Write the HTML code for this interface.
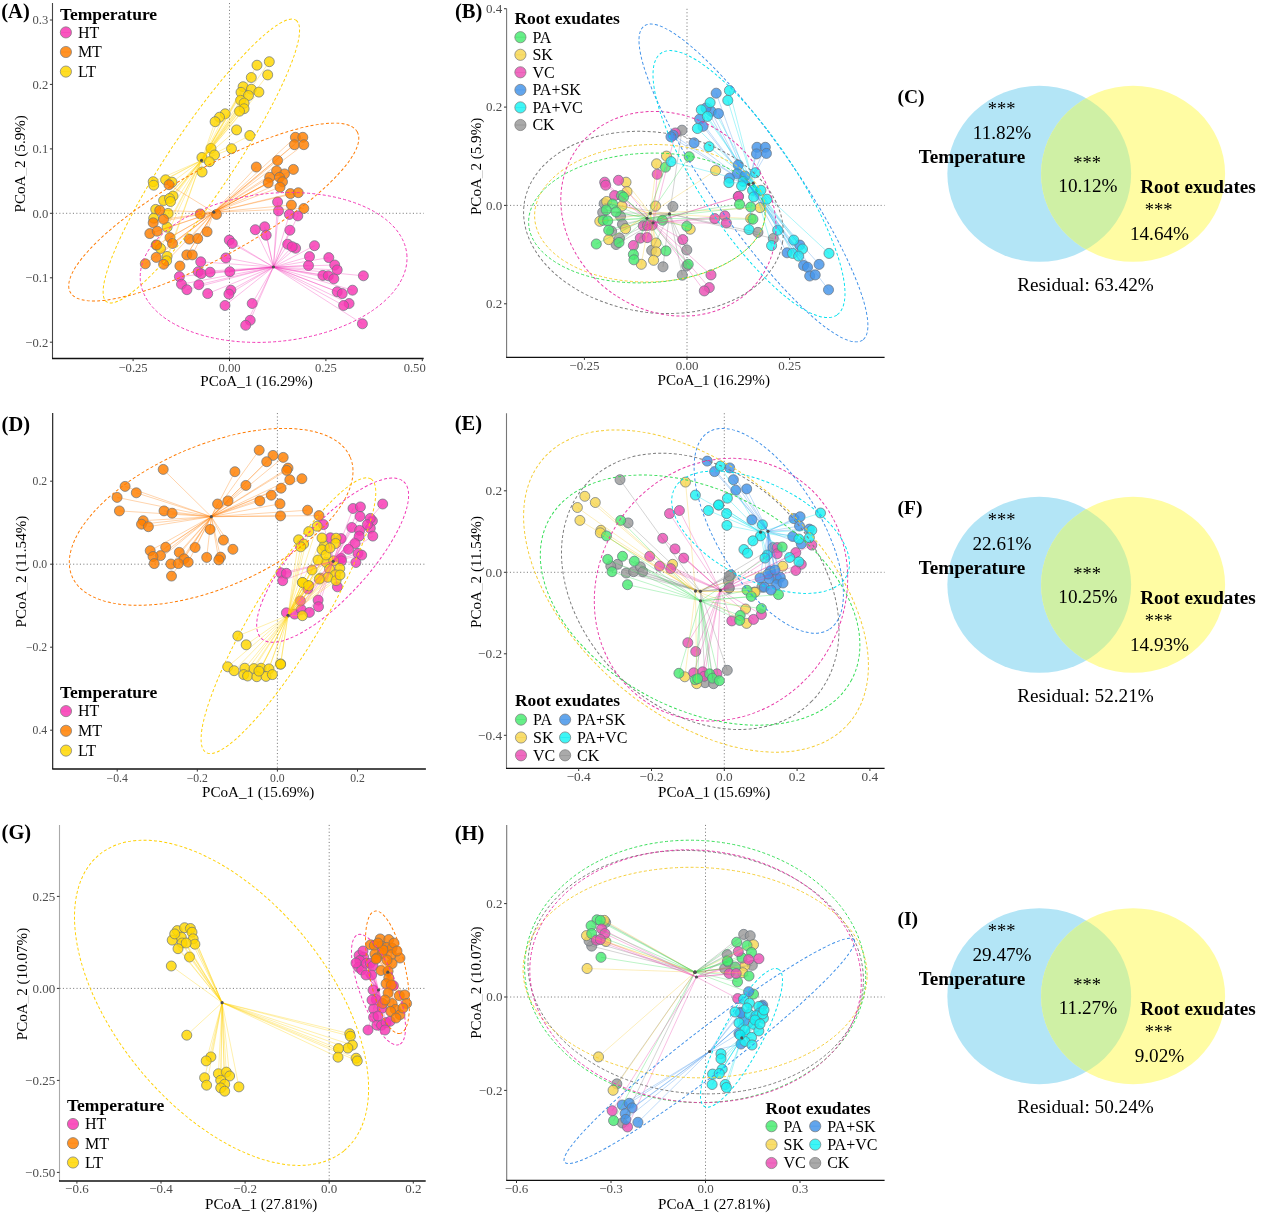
<!DOCTYPE html><html><head><meta charset="utf-8"><style>html,body{margin:0;padding:0;background:#fff;} svg{display:block;will-change:transform;} text{font-family:"Liberation Serif", serif;}</style></head><body>
<svg width="1269" height="1214" viewBox="0 0 1269 1214">
<rect width="1269" height="1214" fill="#fff"/>
<line x1="229.5" y1="3.0" x2="229.5" y2="358.5" stroke="#707070" stroke-width="0.9" stroke-dasharray="1.1,2.3"/>
<line x1="52.5" y1="213.3" x2="423.7" y2="213.3" stroke="#707070" stroke-width="0.9" stroke-dasharray="1.1,2.3"/>
<circle cx="269.3" cy="61.7" r="5.0" fill="#ffd700" fill-opacity="0.83" stroke="#6a737d" stroke-opacity="0.9" stroke-width="0.8"/>
<circle cx="257.0" cy="65.2" r="5.0" fill="#ffd700" fill-opacity="0.83" stroke="#6a737d" stroke-opacity="0.9" stroke-width="0.8"/>
<circle cx="267.7" cy="74.9" r="5.0" fill="#ffd700" fill-opacity="0.83" stroke="#6a737d" stroke-opacity="0.9" stroke-width="0.8"/>
<circle cx="251.3" cy="77.5" r="5.0" fill="#ffd700" fill-opacity="0.83" stroke="#6a737d" stroke-opacity="0.9" stroke-width="0.8"/>
<circle cx="243.1" cy="86.7" r="5.0" fill="#ffd700" fill-opacity="0.83" stroke="#6a737d" stroke-opacity="0.9" stroke-width="0.8"/>
<circle cx="251.3" cy="89.2" r="5.0" fill="#ffd700" fill-opacity="0.83" stroke="#6a737d" stroke-opacity="0.9" stroke-width="0.8"/>
<circle cx="258.9" cy="92.1" r="5.0" fill="#ffd700" fill-opacity="0.83" stroke="#6a737d" stroke-opacity="0.9" stroke-width="0.8"/>
<circle cx="241.0" cy="92.3" r="5.0" fill="#ffd700" fill-opacity="0.83" stroke="#6a737d" stroke-opacity="0.9" stroke-width="0.8"/>
<circle cx="248.5" cy="95.5" r="5.0" fill="#ffd700" fill-opacity="0.83" stroke="#6a737d" stroke-opacity="0.9" stroke-width="0.8"/>
<circle cx="240.6" cy="100.3" r="5.0" fill="#ffd700" fill-opacity="0.83" stroke="#6a737d" stroke-opacity="0.9" stroke-width="0.8"/>
<circle cx="244.1" cy="103.1" r="5.0" fill="#ffd700" fill-opacity="0.83" stroke="#6a737d" stroke-opacity="0.9" stroke-width="0.8"/>
<circle cx="244.1" cy="108.7" r="5.0" fill="#ffd700" fill-opacity="0.83" stroke="#6a737d" stroke-opacity="0.9" stroke-width="0.8"/>
<circle cx="239.5" cy="111.2" r="5.0" fill="#ffd700" fill-opacity="0.83" stroke="#6a737d" stroke-opacity="0.9" stroke-width="0.8"/>
<circle cx="225.2" cy="113.8" r="5.0" fill="#ffd700" fill-opacity="0.83" stroke="#6a737d" stroke-opacity="0.9" stroke-width="0.8"/>
<circle cx="219.5" cy="117.2" r="5.0" fill="#ffd700" fill-opacity="0.83" stroke="#6a737d" stroke-opacity="0.9" stroke-width="0.8"/>
<circle cx="215.1" cy="121.7" r="5.0" fill="#ffd700" fill-opacity="0.83" stroke="#6a737d" stroke-opacity="0.9" stroke-width="0.8"/>
<circle cx="236.6" cy="129.9" r="5.0" fill="#ffd700" fill-opacity="0.83" stroke="#6a737d" stroke-opacity="0.9" stroke-width="0.8"/>
<circle cx="249.8" cy="135.5" r="5.0" fill="#ffd700" fill-opacity="0.83" stroke="#6a737d" stroke-opacity="0.9" stroke-width="0.8"/>
<circle cx="231.5" cy="148.7" r="5.0" fill="#ffd700" fill-opacity="0.83" stroke="#6a737d" stroke-opacity="0.9" stroke-width="0.8"/>
<circle cx="211.0" cy="148.4" r="5.0" fill="#ffd700" fill-opacity="0.83" stroke="#6a737d" stroke-opacity="0.9" stroke-width="0.8"/>
<circle cx="201.9" cy="157.5" r="5.0" fill="#ffd700" fill-opacity="0.83" stroke="#6a737d" stroke-opacity="0.9" stroke-width="0.8"/>
<circle cx="214.5" cy="155.0" r="5.0" fill="#ffd700" fill-opacity="0.83" stroke="#6a737d" stroke-opacity="0.9" stroke-width="0.8"/>
<circle cx="209.4" cy="161.7" r="5.0" fill="#ffd700" fill-opacity="0.83" stroke="#6a737d" stroke-opacity="0.9" stroke-width="0.8"/>
<circle cx="202.1" cy="172.0" r="5.0" fill="#ffd700" fill-opacity="0.83" stroke="#6a737d" stroke-opacity="0.9" stroke-width="0.8"/>
<circle cx="153.2" cy="181.7" r="5.0" fill="#ffd700" fill-opacity="0.83" stroke="#6a737d" stroke-opacity="0.9" stroke-width="0.8"/>
<circle cx="153.7" cy="185.2" r="5.0" fill="#ffd700" fill-opacity="0.83" stroke="#6a737d" stroke-opacity="0.9" stroke-width="0.8"/>
<circle cx="165.6" cy="179.8" r="5.0" fill="#ffd700" fill-opacity="0.83" stroke="#6a737d" stroke-opacity="0.9" stroke-width="0.8"/>
<circle cx="172.0" cy="182.2" r="5.0" fill="#ffd700" fill-opacity="0.83" stroke="#6a737d" stroke-opacity="0.9" stroke-width="0.8"/>
<circle cx="173.0" cy="196.1" r="5.0" fill="#ffd700" fill-opacity="0.83" stroke="#6a737d" stroke-opacity="0.9" stroke-width="0.8"/>
<circle cx="163.6" cy="200.5" r="5.0" fill="#ffd700" fill-opacity="0.83" stroke="#6a737d" stroke-opacity="0.9" stroke-width="0.8"/>
<circle cx="169.5" cy="198.5" r="5.0" fill="#ffd700" fill-opacity="0.83" stroke="#6a737d" stroke-opacity="0.9" stroke-width="0.8"/>
<circle cx="170.5" cy="201.5" r="5.0" fill="#ffd700" fill-opacity="0.83" stroke="#6a737d" stroke-opacity="0.9" stroke-width="0.8"/>
<circle cx="155.7" cy="209.4" r="5.0" fill="#ffd700" fill-opacity="0.83" stroke="#6a737d" stroke-opacity="0.9" stroke-width="0.8"/>
<circle cx="168.1" cy="213.4" r="5.0" fill="#ffd700" fill-opacity="0.83" stroke="#6a737d" stroke-opacity="0.9" stroke-width="0.8"/>
<circle cx="153.7" cy="218.3" r="5.0" fill="#ffd700" fill-opacity="0.83" stroke="#6a737d" stroke-opacity="0.9" stroke-width="0.8"/>
<circle cx="167.1" cy="227.2" r="5.0" fill="#ffd700" fill-opacity="0.83" stroke="#6a737d" stroke-opacity="0.9" stroke-width="0.8"/>
<circle cx="156.2" cy="245" r="5.0" fill="#ffd700" fill-opacity="0.83" stroke="#6a737d" stroke-opacity="0.9" stroke-width="0.8"/>
<circle cx="160.6" cy="248.5" r="5.0" fill="#ffd700" fill-opacity="0.83" stroke="#6a737d" stroke-opacity="0.9" stroke-width="0.8"/>
<circle cx="167.1" cy="256.4" r="5.0" fill="#ffd700" fill-opacity="0.83" stroke="#6a737d" stroke-opacity="0.9" stroke-width="0.8"/>
<circle cx="166.6" cy="260.8" r="5.0" fill="#ffd700" fill-opacity="0.83" stroke="#6a737d" stroke-opacity="0.9" stroke-width="0.8"/>
<circle cx="169.0" cy="184.7" r="5.0" fill="#ff8000" fill-opacity="0.83" stroke="#6a737d" stroke-opacity="0.9" stroke-width="0.8"/>
<circle cx="159.7" cy="210.4" r="5.0" fill="#ff8000" fill-opacity="0.83" stroke="#6a737d" stroke-opacity="0.9" stroke-width="0.8"/>
<circle cx="163.6" cy="219.3" r="5.0" fill="#ff8000" fill-opacity="0.83" stroke="#6a737d" stroke-opacity="0.9" stroke-width="0.8"/>
<circle cx="153.2" cy="222.8" r="5.0" fill="#ff8000" fill-opacity="0.83" stroke="#6a737d" stroke-opacity="0.9" stroke-width="0.8"/>
<circle cx="149.8" cy="233.6" r="5.0" fill="#ff8000" fill-opacity="0.83" stroke="#6a737d" stroke-opacity="0.9" stroke-width="0.8"/>
<circle cx="157.2" cy="231.2" r="5.0" fill="#ff8000" fill-opacity="0.83" stroke="#6a737d" stroke-opacity="0.9" stroke-width="0.8"/>
<circle cx="156.7" cy="245" r="5.0" fill="#ff8000" fill-opacity="0.83" stroke="#6a737d" stroke-opacity="0.9" stroke-width="0.8"/>
<circle cx="156.2" cy="257.4" r="5.0" fill="#ff8000" fill-opacity="0.83" stroke="#6a737d" stroke-opacity="0.9" stroke-width="0.8"/>
<circle cx="145.3" cy="263.8" r="5.0" fill="#ff8000" fill-opacity="0.83" stroke="#6a737d" stroke-opacity="0.9" stroke-width="0.8"/>
<circle cx="163.6" cy="264.3" r="5.0" fill="#ff8000" fill-opacity="0.83" stroke="#6a737d" stroke-opacity="0.9" stroke-width="0.8"/>
<circle cx="170.0" cy="237.6" r="5.0" fill="#ff8000" fill-opacity="0.83" stroke="#6a737d" stroke-opacity="0.9" stroke-width="0.8"/>
<circle cx="172.5" cy="243.5" r="5.0" fill="#ff8000" fill-opacity="0.83" stroke="#6a737d" stroke-opacity="0.9" stroke-width="0.8"/>
<circle cx="189.3" cy="239.1" r="5.0" fill="#ff8000" fill-opacity="0.83" stroke="#6a737d" stroke-opacity="0.9" stroke-width="0.8"/>
<circle cx="197.7" cy="238.6" r="5.0" fill="#ff8000" fill-opacity="0.83" stroke="#6a737d" stroke-opacity="0.9" stroke-width="0.8"/>
<circle cx="207.1" cy="231.7" r="5.0" fill="#ff8000" fill-opacity="0.83" stroke="#6a737d" stroke-opacity="0.9" stroke-width="0.8"/>
<circle cx="200.2" cy="213.9" r="5.0" fill="#ff8000" fill-opacity="0.83" stroke="#6a737d" stroke-opacity="0.9" stroke-width="0.8"/>
<circle cx="216.5" cy="214.4" r="5.0" fill="#ff8000" fill-opacity="0.83" stroke="#6a737d" stroke-opacity="0.9" stroke-width="0.8"/>
<circle cx="186.8" cy="254.9" r="5.0" fill="#ff8000" fill-opacity="0.83" stroke="#6a737d" stroke-opacity="0.9" stroke-width="0.8"/>
<circle cx="192.3" cy="254.9" r="5.0" fill="#ff8000" fill-opacity="0.83" stroke="#6a737d" stroke-opacity="0.9" stroke-width="0.8"/>
<circle cx="179.9" cy="266" r="5.0" fill="#ff8000" fill-opacity="0.83" stroke="#6a737d" stroke-opacity="0.9" stroke-width="0.8"/>
<circle cx="295.4" cy="137.3" r="5.0" fill="#ff8000" fill-opacity="0.83" stroke="#6a737d" stroke-opacity="0.9" stroke-width="0.8"/>
<circle cx="302.8" cy="137.3" r="5.0" fill="#ff8000" fill-opacity="0.83" stroke="#6a737d" stroke-opacity="0.9" stroke-width="0.8"/>
<circle cx="294.4" cy="144.7" r="5.0" fill="#ff8000" fill-opacity="0.83" stroke="#6a737d" stroke-opacity="0.9" stroke-width="0.8"/>
<circle cx="303.8" cy="144.7" r="5.0" fill="#ff8000" fill-opacity="0.83" stroke="#6a737d" stroke-opacity="0.9" stroke-width="0.8"/>
<circle cx="277.6" cy="160.5" r="5.0" fill="#ff8000" fill-opacity="0.83" stroke="#6a737d" stroke-opacity="0.9" stroke-width="0.8"/>
<circle cx="256.3" cy="167" r="5.0" fill="#ff8000" fill-opacity="0.83" stroke="#6a737d" stroke-opacity="0.9" stroke-width="0.8"/>
<circle cx="293.4" cy="169.4" r="5.0" fill="#ff8000" fill-opacity="0.83" stroke="#6a737d" stroke-opacity="0.9" stroke-width="0.8"/>
<circle cx="276.6" cy="170.9" r="5.0" fill="#ff8000" fill-opacity="0.83" stroke="#6a737d" stroke-opacity="0.9" stroke-width="0.8"/>
<circle cx="284.5" cy="173.9" r="5.0" fill="#ff8000" fill-opacity="0.83" stroke="#6a737d" stroke-opacity="0.9" stroke-width="0.8"/>
<circle cx="269.7" cy="177.3" r="5.0" fill="#ff8000" fill-opacity="0.83" stroke="#6a737d" stroke-opacity="0.9" stroke-width="0.8"/>
<circle cx="279.5" cy="177.3" r="5.0" fill="#ff8000" fill-opacity="0.83" stroke="#6a737d" stroke-opacity="0.9" stroke-width="0.8"/>
<circle cx="268.2" cy="182.8" r="5.0" fill="#ff8000" fill-opacity="0.83" stroke="#6a737d" stroke-opacity="0.9" stroke-width="0.8"/>
<circle cx="282.5" cy="181.8" r="5.0" fill="#ff8000" fill-opacity="0.83" stroke="#6a737d" stroke-opacity="0.9" stroke-width="0.8"/>
<circle cx="280.0" cy="187.2" r="5.0" fill="#ff8000" fill-opacity="0.83" stroke="#6a737d" stroke-opacity="0.9" stroke-width="0.8"/>
<circle cx="290.4" cy="193.6" r="5.0" fill="#ff8000" fill-opacity="0.83" stroke="#6a737d" stroke-opacity="0.9" stroke-width="0.8"/>
<circle cx="298.3" cy="192.7" r="5.0" fill="#ff8000" fill-opacity="0.83" stroke="#6a737d" stroke-opacity="0.9" stroke-width="0.8"/>
<circle cx="291.4" cy="205" r="5.0" fill="#ff8000" fill-opacity="0.83" stroke="#6a737d" stroke-opacity="0.9" stroke-width="0.8"/>
<circle cx="303.8" cy="208.5" r="5.0" fill="#ff8000" fill-opacity="0.83" stroke="#6a737d" stroke-opacity="0.9" stroke-width="0.8"/>
<circle cx="229.3" cy="240.1" r="5.0" fill="#f837b3" fill-opacity="0.83" stroke="#6a737d" stroke-opacity="0.9" stroke-width="0.8"/>
<circle cx="232.3" cy="243.5" r="5.0" fill="#f837b3" fill-opacity="0.83" stroke="#6a737d" stroke-opacity="0.9" stroke-width="0.8"/>
<circle cx="225.9" cy="257.9" r="5.0" fill="#f837b3" fill-opacity="0.83" stroke="#6a737d" stroke-opacity="0.9" stroke-width="0.8"/>
<circle cx="200.7" cy="261.8" r="5.0" fill="#f837b3" fill-opacity="0.83" stroke="#6a737d" stroke-opacity="0.9" stroke-width="0.8"/>
<circle cx="198.2" cy="271.7" r="5.0" fill="#f837b3" fill-opacity="0.83" stroke="#6a737d" stroke-opacity="0.9" stroke-width="0.8"/>
<circle cx="201.2" cy="273.7" r="5.0" fill="#f837b3" fill-opacity="0.83" stroke="#6a737d" stroke-opacity="0.9" stroke-width="0.8"/>
<circle cx="210.1" cy="272.2" r="5.0" fill="#f837b3" fill-opacity="0.83" stroke="#6a737d" stroke-opacity="0.9" stroke-width="0.8"/>
<circle cx="229.8" cy="271.7" r="5.0" fill="#f837b3" fill-opacity="0.83" stroke="#6a737d" stroke-opacity="0.9" stroke-width="0.8"/>
<circle cx="179.4" cy="276.6" r="5.0" fill="#f837b3" fill-opacity="0.83" stroke="#6a737d" stroke-opacity="0.9" stroke-width="0.8"/>
<circle cx="277.6" cy="202" r="5.0" fill="#f837b3" fill-opacity="0.83" stroke="#6a737d" stroke-opacity="0.9" stroke-width="0.8"/>
<circle cx="278.5" cy="210.9" r="5.0" fill="#f837b3" fill-opacity="0.83" stroke="#6a737d" stroke-opacity="0.9" stroke-width="0.8"/>
<circle cx="289.4" cy="214.4" r="5.0" fill="#f837b3" fill-opacity="0.83" stroke="#6a737d" stroke-opacity="0.9" stroke-width="0.8"/>
<circle cx="297.8" cy="215.9" r="5.0" fill="#f837b3" fill-opacity="0.83" stroke="#6a737d" stroke-opacity="0.9" stroke-width="0.8"/>
<circle cx="264.7" cy="226.8" r="5.0" fill="#f837b3" fill-opacity="0.83" stroke="#6a737d" stroke-opacity="0.9" stroke-width="0.8"/>
<circle cx="255.3" cy="229.7" r="5.0" fill="#f837b3" fill-opacity="0.83" stroke="#6a737d" stroke-opacity="0.9" stroke-width="0.8"/>
<circle cx="266.2" cy="235.2" r="5.0" fill="#f837b3" fill-opacity="0.83" stroke="#6a737d" stroke-opacity="0.9" stroke-width="0.8"/>
<circle cx="289.9" cy="230.2" r="5.0" fill="#f837b3" fill-opacity="0.83" stroke="#6a737d" stroke-opacity="0.9" stroke-width="0.8"/>
<circle cx="287.7" cy="244.2" r="5.0" fill="#f837b3" fill-opacity="0.83" stroke="#6a737d" stroke-opacity="0.9" stroke-width="0.8"/>
<circle cx="295.6" cy="248.2" r="5.0" fill="#f837b3" fill-opacity="0.83" stroke="#6a737d" stroke-opacity="0.9" stroke-width="0.8"/>
<circle cx="292.2" cy="246.7" r="5.0" fill="#f837b3" fill-opacity="0.83" stroke="#6a737d" stroke-opacity="0.9" stroke-width="0.8"/>
<circle cx="181.5" cy="284.2" r="5.0" fill="#f837b3" fill-opacity="0.83" stroke="#6a737d" stroke-opacity="0.9" stroke-width="0.8"/>
<circle cx="186.9" cy="289.7" r="5.0" fill="#f837b3" fill-opacity="0.83" stroke="#6a737d" stroke-opacity="0.9" stroke-width="0.8"/>
<circle cx="198.8" cy="284.7" r="5.0" fill="#f837b3" fill-opacity="0.83" stroke="#6a737d" stroke-opacity="0.9" stroke-width="0.8"/>
<circle cx="207.7" cy="293.6" r="5.0" fill="#f837b3" fill-opacity="0.83" stroke="#6a737d" stroke-opacity="0.9" stroke-width="0.8"/>
<circle cx="230.9" cy="290.2" r="5.0" fill="#f837b3" fill-opacity="0.83" stroke="#6a737d" stroke-opacity="0.9" stroke-width="0.8"/>
<circle cx="228.9" cy="294.1" r="5.0" fill="#f837b3" fill-opacity="0.83" stroke="#6a737d" stroke-opacity="0.9" stroke-width="0.8"/>
<circle cx="225" cy="305.5" r="5.0" fill="#f837b3" fill-opacity="0.83" stroke="#6a737d" stroke-opacity="0.9" stroke-width="0.8"/>
<circle cx="252.2" cy="303.5" r="5.0" fill="#f837b3" fill-opacity="0.83" stroke="#6a737d" stroke-opacity="0.9" stroke-width="0.8"/>
<circle cx="250.2" cy="320.3" r="5.0" fill="#f837b3" fill-opacity="0.83" stroke="#6a737d" stroke-opacity="0.9" stroke-width="0.8"/>
<circle cx="245.7" cy="325.3" r="5.0" fill="#f837b3" fill-opacity="0.83" stroke="#6a737d" stroke-opacity="0.9" stroke-width="0.8"/>
<circle cx="314.5" cy="245.7" r="5.0" fill="#f837b3" fill-opacity="0.83" stroke="#6a737d" stroke-opacity="0.9" stroke-width="0.8"/>
<circle cx="309.5" cy="256.6" r="5.0" fill="#f837b3" fill-opacity="0.83" stroke="#6a737d" stroke-opacity="0.9" stroke-width="0.8"/>
<circle cx="308.5" cy="265.5" r="5.0" fill="#f837b3" fill-opacity="0.83" stroke="#6a737d" stroke-opacity="0.9" stroke-width="0.8"/>
<circle cx="328.8" cy="257.6" r="5.0" fill="#f837b3" fill-opacity="0.83" stroke="#6a737d" stroke-opacity="0.9" stroke-width="0.8"/>
<circle cx="334.7" cy="265" r="5.0" fill="#f837b3" fill-opacity="0.83" stroke="#6a737d" stroke-opacity="0.9" stroke-width="0.8"/>
<circle cx="337.2" cy="269.9" r="5.0" fill="#f837b3" fill-opacity="0.83" stroke="#6a737d" stroke-opacity="0.9" stroke-width="0.8"/>
<circle cx="322.9" cy="275.4" r="5.0" fill="#f837b3" fill-opacity="0.83" stroke="#6a737d" stroke-opacity="0.9" stroke-width="0.8"/>
<circle cx="328.3" cy="275.8" r="5.0" fill="#f837b3" fill-opacity="0.83" stroke="#6a737d" stroke-opacity="0.9" stroke-width="0.8"/>
<circle cx="333.8" cy="278.8" r="5.0" fill="#f837b3" fill-opacity="0.83" stroke="#6a737d" stroke-opacity="0.9" stroke-width="0.8"/>
<circle cx="363.4" cy="275.8" r="5.0" fill="#f837b3" fill-opacity="0.83" stroke="#6a737d" stroke-opacity="0.9" stroke-width="0.8"/>
<circle cx="337.2" cy="291.7" r="5.0" fill="#f837b3" fill-opacity="0.83" stroke="#6a737d" stroke-opacity="0.9" stroke-width="0.8"/>
<circle cx="342.2" cy="293.6" r="5.0" fill="#f837b3" fill-opacity="0.83" stroke="#6a737d" stroke-opacity="0.9" stroke-width="0.8"/>
<circle cx="352.5" cy="290.2" r="5.0" fill="#f837b3" fill-opacity="0.83" stroke="#6a737d" stroke-opacity="0.9" stroke-width="0.8"/>
<circle cx="349.1" cy="303.5" r="5.0" fill="#f837b3" fill-opacity="0.83" stroke="#6a737d" stroke-opacity="0.9" stroke-width="0.8"/>
<circle cx="343.6" cy="305.5" r="5.0" fill="#f837b3" fill-opacity="0.83" stroke="#6a737d" stroke-opacity="0.9" stroke-width="0.8"/>
<circle cx="362.4" cy="323.8" r="5.0" fill="#f837b3" fill-opacity="0.83" stroke="#6a737d" stroke-opacity="0.9" stroke-width="0.8"/>
<path d="M201.5 160.4L269.3 61.7M201.5 160.4L257.0 65.2M201.5 160.4L267.7 74.9M201.5 160.4L251.3 77.5M201.5 160.4L243.1 86.7M201.5 160.4L251.3 89.2M201.5 160.4L258.9 92.1M201.5 160.4L241.0 92.3M201.5 160.4L248.5 95.5M201.5 160.4L240.6 100.3M201.5 160.4L244.1 103.1M201.5 160.4L244.1 108.7M201.5 160.4L239.5 111.2M201.5 160.4L225.2 113.8M201.5 160.4L219.5 117.2M201.5 160.4L215.1 121.7M201.5 160.4L236.6 129.9M201.5 160.4L249.8 135.5M201.5 160.4L231.5 148.7M201.5 160.4L211.0 148.4M201.5 160.4L201.9 157.5M201.5 160.4L214.5 155.0M201.5 160.4L209.4 161.7M201.5 160.4L202.1 172.0M201.5 160.4L153.2 181.7M201.5 160.4L153.7 185.2M201.5 160.4L165.6 179.8M201.5 160.4L172.0 182.2M201.5 160.4L173.0 196.1M201.5 160.4L163.6 200.5M201.5 160.4L169.5 198.5M201.5 160.4L170.5 201.5M201.5 160.4L155.7 209.4M201.5 160.4L168.1 213.4M201.5 160.4L153.7 218.3M201.5 160.4L167.1 227.2M201.5 160.4L156.2 245M201.5 160.4L160.6 248.5M201.5 160.4L167.1 256.4M201.5 160.4L166.6 260.8" stroke="#ffd000" stroke-width="0.65" opacity="0.5" fill="none"/>
<path d="M213.8 212.2L169.0 184.7M213.8 212.2L159.7 210.4M213.8 212.2L163.6 219.3M213.8 212.2L153.2 222.8M213.8 212.2L149.8 233.6M213.8 212.2L157.2 231.2M213.8 212.2L156.7 245M213.8 212.2L156.2 257.4M213.8 212.2L145.3 263.8M213.8 212.2L163.6 264.3M213.8 212.2L170.0 237.6M213.8 212.2L172.5 243.5M213.8 212.2L189.3 239.1M213.8 212.2L197.7 238.6M213.8 212.2L207.1 231.7M213.8 212.2L200.2 213.9M213.8 212.2L216.5 214.4M213.8 212.2L186.8 254.9M213.8 212.2L192.3 254.9M213.8 212.2L179.9 266M213.8 212.2L295.4 137.3M213.8 212.2L302.8 137.3M213.8 212.2L294.4 144.7M213.8 212.2L303.8 144.7M213.8 212.2L277.6 160.5M213.8 212.2L256.3 167M213.8 212.2L293.4 169.4M213.8 212.2L276.6 170.9M213.8 212.2L284.5 173.9M213.8 212.2L269.7 177.3M213.8 212.2L279.5 177.3M213.8 212.2L268.2 182.8M213.8 212.2L282.5 181.8M213.8 212.2L280.0 187.2M213.8 212.2L290.4 193.6M213.8 212.2L298.3 192.7M213.8 212.2L291.4 205M213.8 212.2L303.8 208.5" stroke="#ff7a00" stroke-width="0.65" opacity="0.5" fill="none"/>
<path d="M273.4 267L229.3 240.1M273.4 267L232.3 243.5M273.4 267L225.9 257.9M273.4 267L200.7 261.8M273.4 267L198.2 271.7M273.4 267L201.2 273.7M273.4 267L210.1 272.2M273.4 267L229.8 271.7M273.4 267L179.4 276.6M273.4 267L277.6 202M273.4 267L278.5 210.9M273.4 267L289.4 214.4M273.4 267L297.8 215.9M273.4 267L264.7 226.8M273.4 267L255.3 229.7M273.4 267L266.2 235.2M273.4 267L289.9 230.2M273.4 267L287.7 244.2M273.4 267L295.6 248.2M273.4 267L292.2 246.7M273.4 267L181.5 284.2M273.4 267L186.9 289.7M273.4 267L198.8 284.7M273.4 267L207.7 293.6M273.4 267L230.9 290.2M273.4 267L228.9 294.1M273.4 267L225 305.5M273.4 267L252.2 303.5M273.4 267L250.2 320.3M273.4 267L245.7 325.3M273.4 267L314.5 245.7M273.4 267L309.5 256.6M273.4 267L308.5 265.5M273.4 267L328.8 257.6M273.4 267L334.7 265M273.4 267L337.2 269.9M273.4 267L322.9 275.4M273.4 267L328.3 275.8M273.4 267L333.8 278.8M273.4 267L363.4 275.8M273.4 267L337.2 291.7M273.4 267L342.2 293.6M273.4 267L352.5 290.2M273.4 267L349.1 303.5M273.4 267L343.6 305.5M273.4 267L362.4 323.8" stroke="#f235b5" stroke-width="0.65" opacity="0.5" fill="none"/>
<ellipse cx="201.35" cy="161.05" rx="169.66" ry="31.9" transform="rotate(-56.11 201.35 161.05)" fill="none" stroke="#ffd000" stroke-width="0.95" stroke-dasharray="3,2.2"/>
<ellipse cx="213.75" cy="212.05" rx="164.39" ry="43.89" transform="rotate(-29.23 213.75 212.05)" fill="none" stroke="#ff7a00" stroke-width="0.95" stroke-dasharray="3,2.2"/>
<ellipse cx="273.6" cy="267.45" rx="133.86" ry="74.13" transform="rotate(-5.71 273.6 267.45)" fill="none" stroke="#f235b5" stroke-width="0.95" stroke-dasharray="3,2.2"/>
<circle cx="201.5" cy="160.4" r="1.6" fill="#505050"/>
<circle cx="213.8" cy="212.2" r="1.6" fill="#505050"/>
<circle cx="273.4" cy="267" r="1.6" fill="#505050"/>
<line x1="52.5" y1="3.0" x2="52.5" y2="358.5" stroke="#444" stroke-width="1.1"/>
<line x1="52.0" y1="358.5" x2="423.7" y2="358.5" stroke="#111" stroke-width="1.3"/>
<line x1="133.1" y1="358.5" x2="133.1" y2="361.1" stroke="#333" stroke-width="1"/>
<text x="133.1" y="371.8" font-size="12.6" text-anchor="middle" font-weight="normal" fill="#4d4d4d" >−0.25</text>
<line x1="229.5" y1="358.5" x2="229.5" y2="361.1" stroke="#333" stroke-width="1"/>
<text x="229.5" y="371.8" font-size="12.6" text-anchor="middle" font-weight="normal" fill="#4d4d4d" >0.00</text>
<line x1="325.9" y1="358.5" x2="325.9" y2="361.1" stroke="#333" stroke-width="1"/>
<text x="325.9" y="371.8" font-size="12.6" text-anchor="middle" font-weight="normal" fill="#4d4d4d" >0.25</text>
<line x1="422.3" y1="358.5" x2="422.3" y2="361.1" stroke="#333" stroke-width="1"/>
<text x="414.7" y="371.8" font-size="12.6" text-anchor="middle" font-weight="normal" fill="#4d4d4d" >0.50</text>
<line x1="49.9" y1="342.2" x2="52.5" y2="342.2" stroke="#333" stroke-width="1"/>
<text x="48.2" y="346.5" font-size="12.6" text-anchor="end" font-weight="normal" fill="#4d4d4d" >−0.2</text>
<line x1="49.9" y1="277.8" x2="52.5" y2="277.8" stroke="#333" stroke-width="1"/>
<text x="48.2" y="282.0" font-size="12.6" text-anchor="end" font-weight="normal" fill="#4d4d4d" >−0.1</text>
<line x1="49.9" y1="213.3" x2="52.5" y2="213.3" stroke="#333" stroke-width="1"/>
<text x="48.2" y="217.6" font-size="12.6" text-anchor="end" font-weight="normal" fill="#4d4d4d" >0.0</text>
<line x1="49.9" y1="148.9" x2="52.5" y2="148.9" stroke="#333" stroke-width="1"/>
<text x="48.2" y="153.1" font-size="12.6" text-anchor="end" font-weight="normal" fill="#4d4d4d" >0.1</text>
<line x1="49.9" y1="84.4" x2="52.5" y2="84.4" stroke="#333" stroke-width="1"/>
<text x="48.2" y="88.7" font-size="12.6" text-anchor="end" font-weight="normal" fill="#4d4d4d" >0.2</text>
<line x1="49.9" y1="20.0" x2="52.5" y2="20.0" stroke="#333" stroke-width="1"/>
<text x="48.2" y="24.2" font-size="12.6" text-anchor="end" font-weight="normal" fill="#4d4d4d" >0.3</text>
<text x="256.5" y="386.0" font-size="15.1" text-anchor="middle" font-weight="normal" fill="#000" >PCoA_1 (16.29%)</text>
<text transform="translate(24.8,163.8) rotate(-90)" font-size="15.1" text-anchor="middle">PCoA<tspan fill="#c8c8c8">_</tspan>2 (5.9%)</text>
<text x="1.3" y="18.4" font-size="20.5" text-anchor="start" font-weight="bold" fill="#000" >(A)</text>
<line x1="687.0" y1="8.8" x2="687.0" y2="357.3" stroke="#707070" stroke-width="0.9" stroke-dasharray="1.1,2.3"/>
<line x1="506.6" y1="205.4" x2="884.6" y2="205.4" stroke="#707070" stroke-width="0.9" stroke-dasharray="1.1,2.3"/>
<circle cx="682" cy="130.2" r="5.05" fill="#9b9b9b" fill-opacity="0.83" stroke="#6a737d" stroke-opacity="0.9" stroke-width="0.8"/>
<circle cx="604.2" cy="203.5" r="5.05" fill="#9b9b9b" fill-opacity="0.83" stroke="#6a737d" stroke-opacity="0.9" stroke-width="0.8"/>
<circle cx="602.7" cy="212.4" r="5.05" fill="#9b9b9b" fill-opacity="0.83" stroke="#6a737d" stroke-opacity="0.9" stroke-width="0.8"/>
<circle cx="620.5" cy="216.3" r="5.05" fill="#9b9b9b" fill-opacity="0.83" stroke="#6a737d" stroke-opacity="0.9" stroke-width="0.8"/>
<circle cx="622.5" cy="224.2" r="5.05" fill="#9b9b9b" fill-opacity="0.83" stroke="#6a737d" stroke-opacity="0.9" stroke-width="0.8"/>
<circle cx="611.6" cy="231.2" r="5.05" fill="#9b9b9b" fill-opacity="0.83" stroke="#6a737d" stroke-opacity="0.9" stroke-width="0.8"/>
<circle cx="619.5" cy="238.1" r="5.05" fill="#9b9b9b" fill-opacity="0.83" stroke="#6a737d" stroke-opacity="0.9" stroke-width="0.8"/>
<circle cx="616.1" cy="244.5" r="5.05" fill="#9b9b9b" fill-opacity="0.83" stroke="#6a737d" stroke-opacity="0.9" stroke-width="0.8"/>
<circle cx="672.9" cy="206.5" r="5.05" fill="#9b9b9b" fill-opacity="0.83" stroke="#6a737d" stroke-opacity="0.9" stroke-width="0.8"/>
<circle cx="651.7" cy="250.4" r="5.05" fill="#9b9b9b" fill-opacity="0.83" stroke="#6a737d" stroke-opacity="0.9" stroke-width="0.8"/>
<circle cx="663" cy="266.8" r="5.05" fill="#9b9b9b" fill-opacity="0.83" stroke="#6a737d" stroke-opacity="0.9" stroke-width="0.8"/>
<circle cx="686.8" cy="250" r="5.05" fill="#9b9b9b" fill-opacity="0.83" stroke="#6a737d" stroke-opacity="0.9" stroke-width="0.8"/>
<circle cx="686.8" cy="265.8" r="5.05" fill="#9b9b9b" fill-opacity="0.83" stroke="#6a737d" stroke-opacity="0.9" stroke-width="0.8"/>
<circle cx="682.3" cy="275.2" r="5.05" fill="#9b9b9b" fill-opacity="0.83" stroke="#6a737d" stroke-opacity="0.9" stroke-width="0.8"/>
<circle cx="757.9" cy="232.4" r="5.05" fill="#9b9b9b" fill-opacity="0.83" stroke="#6a737d" stroke-opacity="0.9" stroke-width="0.8"/>
<circle cx="773.3" cy="238.5" r="5.05" fill="#9b9b9b" fill-opacity="0.83" stroke="#6a737d" stroke-opacity="0.9" stroke-width="0.8"/>
<circle cx="666.5" cy="156.1" r="5.05" fill="#f7d755" fill-opacity="0.83" stroke="#6a737d" stroke-opacity="0.9" stroke-width="0.8"/>
<circle cx="656.6" cy="163.8" r="5.05" fill="#f7d755" fill-opacity="0.83" stroke="#6a737d" stroke-opacity="0.9" stroke-width="0.8"/>
<circle cx="715.6" cy="170.5" r="5.05" fill="#f7d755" fill-opacity="0.83" stroke="#6a737d" stroke-opacity="0.9" stroke-width="0.8"/>
<circle cx="626" cy="182.2" r="5.05" fill="#f7d755" fill-opacity="0.83" stroke="#6a737d" stroke-opacity="0.9" stroke-width="0.8"/>
<circle cx="627" cy="191.6" r="5.05" fill="#f7d755" fill-opacity="0.83" stroke="#6a737d" stroke-opacity="0.9" stroke-width="0.8"/>
<circle cx="622" cy="206" r="5.05" fill="#f7d755" fill-opacity="0.83" stroke="#6a737d" stroke-opacity="0.9" stroke-width="0.8"/>
<circle cx="606.7" cy="201.5" r="5.05" fill="#f7d755" fill-opacity="0.83" stroke="#6a737d" stroke-opacity="0.9" stroke-width="0.8"/>
<circle cx="599.8" cy="221.3" r="5.05" fill="#f7d755" fill-opacity="0.83" stroke="#6a737d" stroke-opacity="0.9" stroke-width="0.8"/>
<circle cx="625.5" cy="228.7" r="5.05" fill="#f7d755" fill-opacity="0.83" stroke="#6a737d" stroke-opacity="0.9" stroke-width="0.8"/>
<circle cx="608.7" cy="239.6" r="5.05" fill="#f7d755" fill-opacity="0.83" stroke="#6a737d" stroke-opacity="0.9" stroke-width="0.8"/>
<circle cx="655.6" cy="206" r="5.05" fill="#f7d755" fill-opacity="0.83" stroke="#6a737d" stroke-opacity="0.9" stroke-width="0.8"/>
<circle cx="656.1" cy="243" r="5.05" fill="#f7d755" fill-opacity="0.83" stroke="#6a737d" stroke-opacity="0.9" stroke-width="0.8"/>
<circle cx="656.1" cy="251.9" r="5.05" fill="#f7d755" fill-opacity="0.83" stroke="#6a737d" stroke-opacity="0.9" stroke-width="0.8"/>
<circle cx="653.6" cy="260.3" r="5.05" fill="#f7d755" fill-opacity="0.83" stroke="#6a737d" stroke-opacity="0.9" stroke-width="0.8"/>
<circle cx="641.3" cy="264.3" r="5.05" fill="#f7d755" fill-opacity="0.83" stroke="#6a737d" stroke-opacity="0.9" stroke-width="0.8"/>
<circle cx="690.2" cy="229.2" r="5.05" fill="#f7d755" fill-opacity="0.83" stroke="#6a737d" stroke-opacity="0.9" stroke-width="0.8"/>
<circle cx="760.1" cy="207.6" r="5.05" fill="#f7d755" fill-opacity="0.83" stroke="#6a737d" stroke-opacity="0.9" stroke-width="0.8"/>
<circle cx="750.7" cy="218.6" r="5.05" fill="#f7d755" fill-opacity="0.83" stroke="#6a737d" stroke-opacity="0.9" stroke-width="0.8"/>
<circle cx="675.4" cy="133" r="5.05" fill="#eb52b5" fill-opacity="0.83" stroke="#6a737d" stroke-opacity="0.9" stroke-width="0.8"/>
<circle cx="657.2" cy="174.3" r="5.05" fill="#eb52b5" fill-opacity="0.83" stroke="#6a737d" stroke-opacity="0.9" stroke-width="0.8"/>
<circle cx="738.3" cy="196.4" r="5.05" fill="#eb52b5" fill-opacity="0.83" stroke="#6a737d" stroke-opacity="0.9" stroke-width="0.8"/>
<circle cx="604.7" cy="182.2" r="5.05" fill="#eb52b5" fill-opacity="0.83" stroke="#6a737d" stroke-opacity="0.9" stroke-width="0.8"/>
<circle cx="605.7" cy="185.2" r="5.05" fill="#eb52b5" fill-opacity="0.83" stroke="#6a737d" stroke-opacity="0.9" stroke-width="0.8"/>
<circle cx="618.5" cy="180.3" r="5.05" fill="#eb52b5" fill-opacity="0.83" stroke="#6a737d" stroke-opacity="0.9" stroke-width="0.8"/>
<circle cx="614.6" cy="195.6" r="5.05" fill="#eb52b5" fill-opacity="0.83" stroke="#6a737d" stroke-opacity="0.9" stroke-width="0.8"/>
<circle cx="643.3" cy="225.7" r="5.05" fill="#eb52b5" fill-opacity="0.83" stroke="#6a737d" stroke-opacity="0.9" stroke-width="0.8"/>
<circle cx="652.2" cy="225.2" r="5.05" fill="#eb52b5" fill-opacity="0.83" stroke="#6a737d" stroke-opacity="0.9" stroke-width="0.8"/>
<circle cx="647.5" cy="225.5" r="5.05" fill="#eb52b5" fill-opacity="0.83" stroke="#6a737d" stroke-opacity="0.9" stroke-width="0.8"/>
<circle cx="640.3" cy="238.1" r="5.05" fill="#eb52b5" fill-opacity="0.83" stroke="#6a737d" stroke-opacity="0.9" stroke-width="0.8"/>
<circle cx="647.2" cy="237.6" r="5.05" fill="#eb52b5" fill-opacity="0.83" stroke="#6a737d" stroke-opacity="0.9" stroke-width="0.8"/>
<circle cx="633.4" cy="245.5" r="5.05" fill="#eb52b5" fill-opacity="0.83" stroke="#6a737d" stroke-opacity="0.9" stroke-width="0.8"/>
<circle cx="682.8" cy="239.6" r="5.05" fill="#eb52b5" fill-opacity="0.83" stroke="#6a737d" stroke-opacity="0.9" stroke-width="0.8"/>
<circle cx="738.5" cy="196.5" r="5.05" fill="#eb52b5" fill-opacity="0.83" stroke="#6a737d" stroke-opacity="0.9" stroke-width="0.8"/>
<circle cx="714.8" cy="218.6" r="5.05" fill="#eb52b5" fill-opacity="0.83" stroke="#6a737d" stroke-opacity="0.9" stroke-width="0.8"/>
<circle cx="724.8" cy="215.9" r="5.05" fill="#eb52b5" fill-opacity="0.83" stroke="#6a737d" stroke-opacity="0.9" stroke-width="0.8"/>
<circle cx="726.4" cy="223" r="5.05" fill="#eb52b5" fill-opacity="0.83" stroke="#6a737d" stroke-opacity="0.9" stroke-width="0.8"/>
<circle cx="711" cy="274.9" r="5.05" fill="#eb52b5" fill-opacity="0.83" stroke="#6a737d" stroke-opacity="0.9" stroke-width="0.8"/>
<circle cx="709.3" cy="287.6" r="5.05" fill="#eb52b5" fill-opacity="0.83" stroke="#6a737d" stroke-opacity="0.9" stroke-width="0.8"/>
<circle cx="704.3" cy="290.9" r="5.05" fill="#eb52b5" fill-opacity="0.83" stroke="#6a737d" stroke-opacity="0.9" stroke-width="0.8"/>
<circle cx="689.2" cy="156.7" r="5.05" fill="#4beb73" fill-opacity="0.83" stroke="#6a737d" stroke-opacity="0.9" stroke-width="0.8"/>
<circle cx="665.4" cy="167.2" r="5.05" fill="#4beb73" fill-opacity="0.83" stroke="#6a737d" stroke-opacity="0.9" stroke-width="0.8"/>
<circle cx="621.5" cy="195.6" r="5.05" fill="#4beb73" fill-opacity="0.83" stroke="#6a737d" stroke-opacity="0.9" stroke-width="0.8"/>
<circle cx="623.5" cy="197.1" r="5.05" fill="#4beb73" fill-opacity="0.83" stroke="#6a737d" stroke-opacity="0.9" stroke-width="0.8"/>
<circle cx="612.6" cy="204" r="5.05" fill="#4beb73" fill-opacity="0.83" stroke="#6a737d" stroke-opacity="0.9" stroke-width="0.8"/>
<circle cx="606.2" cy="209.9" r="5.05" fill="#4beb73" fill-opacity="0.83" stroke="#6a737d" stroke-opacity="0.9" stroke-width="0.8"/>
<circle cx="616.1" cy="211.9" r="5.05" fill="#4beb73" fill-opacity="0.83" stroke="#6a737d" stroke-opacity="0.9" stroke-width="0.8"/>
<circle cx="603.2" cy="220.3" r="5.05" fill="#4beb73" fill-opacity="0.83" stroke="#6a737d" stroke-opacity="0.9" stroke-width="0.8"/>
<circle cx="607.7" cy="220.8" r="5.05" fill="#4beb73" fill-opacity="0.83" stroke="#6a737d" stroke-opacity="0.9" stroke-width="0.8"/>
<circle cx="608.7" cy="230.2" r="5.05" fill="#4beb73" fill-opacity="0.83" stroke="#6a737d" stroke-opacity="0.9" stroke-width="0.8"/>
<circle cx="596.3" cy="244" r="5.05" fill="#4beb73" fill-opacity="0.83" stroke="#6a737d" stroke-opacity="0.9" stroke-width="0.8"/>
<circle cx="619" cy="242.5" r="5.05" fill="#4beb73" fill-opacity="0.83" stroke="#6a737d" stroke-opacity="0.9" stroke-width="0.8"/>
<circle cx="662.5" cy="220.3" r="5.05" fill="#4beb73" fill-opacity="0.83" stroke="#6a737d" stroke-opacity="0.9" stroke-width="0.8"/>
<circle cx="686.8" cy="226.2" r="5.05" fill="#4beb73" fill-opacity="0.83" stroke="#6a737d" stroke-opacity="0.9" stroke-width="0.8"/>
<circle cx="633.4" cy="254.4" r="5.05" fill="#4beb73" fill-opacity="0.83" stroke="#6a737d" stroke-opacity="0.9" stroke-width="0.8"/>
<circle cx="633.9" cy="259.8" r="5.05" fill="#4beb73" fill-opacity="0.83" stroke="#6a737d" stroke-opacity="0.9" stroke-width="0.8"/>
<circle cx="666" cy="250.9" r="5.05" fill="#4beb73" fill-opacity="0.83" stroke="#6a737d" stroke-opacity="0.9" stroke-width="0.8"/>
<circle cx="688.2" cy="264.3" r="5.05" fill="#4beb73" fill-opacity="0.83" stroke="#6a737d" stroke-opacity="0.9" stroke-width="0.8"/>
<circle cx="739.6" cy="204.3" r="5.05" fill="#4beb73" fill-opacity="0.83" stroke="#6a737d" stroke-opacity="0.9" stroke-width="0.8"/>
<circle cx="750.7" cy="207" r="5.05" fill="#4beb73" fill-opacity="0.83" stroke="#6a737d" stroke-opacity="0.9" stroke-width="0.8"/>
<circle cx="752.9" cy="219.2" r="5.05" fill="#4beb73" fill-opacity="0.83" stroke="#6a737d" stroke-opacity="0.9" stroke-width="0.8"/>
<circle cx="716.2" cy="93.2" r="5.05" fill="#4695e9" fill-opacity="0.83" stroke="#6a737d" stroke-opacity="0.9" stroke-width="0.8"/>
<circle cx="711.2" cy="111.4" r="5.05" fill="#4695e9" fill-opacity="0.83" stroke="#6a737d" stroke-opacity="0.9" stroke-width="0.8"/>
<circle cx="718.4" cy="113.6" r="5.05" fill="#4695e9" fill-opacity="0.83" stroke="#6a737d" stroke-opacity="0.9" stroke-width="0.8"/>
<circle cx="706" cy="108" r="5.05" fill="#4695e9" fill-opacity="0.83" stroke="#6a737d" stroke-opacity="0.9" stroke-width="0.8"/>
<circle cx="699.6" cy="119.2" r="5.05" fill="#4695e9" fill-opacity="0.83" stroke="#6a737d" stroke-opacity="0.9" stroke-width="0.8"/>
<circle cx="703" cy="126.3" r="5.05" fill="#4695e9" fill-opacity="0.83" stroke="#6a737d" stroke-opacity="0.9" stroke-width="0.8"/>
<circle cx="673.2" cy="135.2" r="5.05" fill="#4695e9" fill-opacity="0.83" stroke="#6a737d" stroke-opacity="0.9" stroke-width="0.8"/>
<circle cx="671" cy="136.8" r="5.05" fill="#4695e9" fill-opacity="0.83" stroke="#6a737d" stroke-opacity="0.9" stroke-width="0.8"/>
<circle cx="694.1" cy="142.9" r="5.05" fill="#4695e9" fill-opacity="0.83" stroke="#6a737d" stroke-opacity="0.9" stroke-width="0.8"/>
<circle cx="757" cy="147.3" r="5.05" fill="#4695e9" fill-opacity="0.83" stroke="#6a737d" stroke-opacity="0.9" stroke-width="0.8"/>
<circle cx="765.3" cy="147.3" r="5.05" fill="#4695e9" fill-opacity="0.83" stroke="#6a737d" stroke-opacity="0.9" stroke-width="0.8"/>
<circle cx="756.5" cy="153.9" r="5.05" fill="#4695e9" fill-opacity="0.83" stroke="#6a737d" stroke-opacity="0.9" stroke-width="0.8"/>
<circle cx="766.4" cy="153.4" r="5.05" fill="#4695e9" fill-opacity="0.83" stroke="#6a737d" stroke-opacity="0.9" stroke-width="0.8"/>
<circle cx="738.3" cy="165" r="5.05" fill="#4695e9" fill-opacity="0.83" stroke="#6a737d" stroke-opacity="0.9" stroke-width="0.8"/>
<circle cx="737.2" cy="173.8" r="5.05" fill="#4695e9" fill-opacity="0.83" stroke="#6a737d" stroke-opacity="0.9" stroke-width="0.8"/>
<circle cx="744.9" cy="176" r="5.05" fill="#4695e9" fill-opacity="0.83" stroke="#6a737d" stroke-opacity="0.9" stroke-width="0.8"/>
<circle cx="729.4" cy="178.2" r="5.05" fill="#4695e9" fill-opacity="0.83" stroke="#6a737d" stroke-opacity="0.9" stroke-width="0.8"/>
<circle cx="799.8" cy="245.1" r="5.05" fill="#4695e9" fill-opacity="0.83" stroke="#6a737d" stroke-opacity="0.9" stroke-width="0.8"/>
<circle cx="787.1" cy="252.8" r="5.05" fill="#4695e9" fill-opacity="0.83" stroke="#6a737d" stroke-opacity="0.9" stroke-width="0.8"/>
<circle cx="803.6" cy="265.5" r="5.05" fill="#4695e9" fill-opacity="0.83" stroke="#6a737d" stroke-opacity="0.9" stroke-width="0.8"/>
<circle cx="807.5" cy="267.2" r="5.05" fill="#4695e9" fill-opacity="0.83" stroke="#6a737d" stroke-opacity="0.9" stroke-width="0.8"/>
<circle cx="819.1" cy="264.4" r="5.05" fill="#4695e9" fill-opacity="0.83" stroke="#6a737d" stroke-opacity="0.9" stroke-width="0.8"/>
<circle cx="809.7" cy="276" r="5.05" fill="#4695e9" fill-opacity="0.83" stroke="#6a737d" stroke-opacity="0.9" stroke-width="0.8"/>
<circle cx="815.2" cy="274.9" r="5.05" fill="#4695e9" fill-opacity="0.83" stroke="#6a737d" stroke-opacity="0.9" stroke-width="0.8"/>
<circle cx="828.5" cy="289.8" r="5.05" fill="#4695e9" fill-opacity="0.83" stroke="#6a737d" stroke-opacity="0.9" stroke-width="0.8"/>
<circle cx="729.4" cy="90.5" r="5.05" fill="#1df3f3" fill-opacity="0.83" stroke="#6a737d" stroke-opacity="0.9" stroke-width="0.8"/>
<circle cx="727.8" cy="100.4" r="5.05" fill="#1df3f3" fill-opacity="0.83" stroke="#6a737d" stroke-opacity="0.9" stroke-width="0.8"/>
<circle cx="710.1" cy="102.6" r="5.05" fill="#1df3f3" fill-opacity="0.83" stroke="#6a737d" stroke-opacity="0.9" stroke-width="0.8"/>
<circle cx="701.3" cy="109.8" r="5.05" fill="#1df3f3" fill-opacity="0.83" stroke="#6a737d" stroke-opacity="0.9" stroke-width="0.8"/>
<circle cx="707.4" cy="116.4" r="5.05" fill="#1df3f3" fill-opacity="0.83" stroke="#6a737d" stroke-opacity="0.9" stroke-width="0.8"/>
<circle cx="697.4" cy="128.5" r="5.05" fill="#1df3f3" fill-opacity="0.83" stroke="#6a737d" stroke-opacity="0.9" stroke-width="0.8"/>
<circle cx="709" cy="146.7" r="5.05" fill="#1df3f3" fill-opacity="0.83" stroke="#6a737d" stroke-opacity="0.9" stroke-width="0.8"/>
<circle cx="671" cy="161.6" r="5.05" fill="#1df3f3" fill-opacity="0.83" stroke="#6a737d" stroke-opacity="0.9" stroke-width="0.8"/>
<circle cx="755.4" cy="172.7" r="5.05" fill="#1df3f3" fill-opacity="0.83" stroke="#6a737d" stroke-opacity="0.9" stroke-width="0.8"/>
<circle cx="728.9" cy="182.6" r="5.05" fill="#1df3f3" fill-opacity="0.83" stroke="#6a737d" stroke-opacity="0.9" stroke-width="0.8"/>
<circle cx="743.2" cy="181.5" r="5.05" fill="#1df3f3" fill-opacity="0.83" stroke="#6a737d" stroke-opacity="0.9" stroke-width="0.8"/>
<circle cx="741.6" cy="185.9" r="5.05" fill="#1df3f3" fill-opacity="0.83" stroke="#6a737d" stroke-opacity="0.9" stroke-width="0.8"/>
<circle cx="752.6" cy="190.3" r="5.05" fill="#1df3f3" fill-opacity="0.83" stroke="#6a737d" stroke-opacity="0.9" stroke-width="0.8"/>
<circle cx="760.9" cy="190.3" r="5.05" fill="#1df3f3" fill-opacity="0.83" stroke="#6a737d" stroke-opacity="0.9" stroke-width="0.8"/>
<circle cx="753.7" cy="196.9" r="5.05" fill="#1df3f3" fill-opacity="0.83" stroke="#6a737d" stroke-opacity="0.9" stroke-width="0.8"/>
<circle cx="767" cy="199.2" r="5.05" fill="#1df3f3" fill-opacity="0.83" stroke="#6a737d" stroke-opacity="0.9" stroke-width="0.8"/>
<circle cx="749" cy="229.6" r="5.05" fill="#1df3f3" fill-opacity="0.83" stroke="#6a737d" stroke-opacity="0.9" stroke-width="0.8"/>
<circle cx="777.7" cy="230.2" r="5.05" fill="#1df3f3" fill-opacity="0.83" stroke="#6a737d" stroke-opacity="0.9" stroke-width="0.8"/>
<circle cx="771.6" cy="245.6" r="5.05" fill="#1df3f3" fill-opacity="0.83" stroke="#6a737d" stroke-opacity="0.9" stroke-width="0.8"/>
<circle cx="793.7" cy="240.1" r="5.05" fill="#1df3f3" fill-opacity="0.83" stroke="#6a737d" stroke-opacity="0.9" stroke-width="0.8"/>
<circle cx="802.5" cy="249" r="5.05" fill="#1df3f3" fill-opacity="0.83" stroke="#6a737d" stroke-opacity="0.9" stroke-width="0.8"/>
<circle cx="792.6" cy="253.4" r="5.05" fill="#1df3f3" fill-opacity="0.83" stroke="#6a737d" stroke-opacity="0.9" stroke-width="0.8"/>
<circle cx="798.7" cy="256.1" r="5.05" fill="#1df3f3" fill-opacity="0.83" stroke="#6a737d" stroke-opacity="0.9" stroke-width="0.8"/>
<circle cx="829" cy="253.4" r="5.05" fill="#1df3f3" fill-opacity="0.83" stroke="#6a737d" stroke-opacity="0.9" stroke-width="0.8"/>
<path d="M669.5 213.9L682 130.2M669.5 213.9L604.2 203.5M669.5 213.9L602.7 212.4M669.5 213.9L620.5 216.3M669.5 213.9L622.5 224.2M669.5 213.9L611.6 231.2M669.5 213.9L619.5 238.1M669.5 213.9L616.1 244.5M669.5 213.9L672.9 206.5M669.5 213.9L651.7 250.4M669.5 213.9L663 266.8M669.5 213.9L686.8 250M669.5 213.9L686.8 265.8M669.5 213.9L682.3 275.2M669.5 213.9L757.9 232.4M669.5 213.9L773.3 238.5" stroke="#7a7a7a" stroke-width="0.65" opacity="0.5" fill="none"/>
<path d="M650.4 213.4L666.5 156.1M650.4 213.4L656.6 163.8M650.4 213.4L715.6 170.5M650.4 213.4L626 182.2M650.4 213.4L627 191.6M650.4 213.4L622 206M650.4 213.4L606.7 201.5M650.4 213.4L599.8 221.3M650.4 213.4L625.5 228.7M650.4 213.4L608.7 239.6M650.4 213.4L655.6 206M650.4 213.4L656.1 243M650.4 213.4L656.1 251.9M650.4 213.4L653.6 260.3M650.4 213.4L641.3 264.3M650.4 213.4L690.2 229.2M650.4 213.4L760.1 207.6M650.4 213.4L750.7 218.6" stroke="#f5cc33" stroke-width="0.65" opacity="0.5" fill="none"/>
<path d="M653.1 222.8L675.4 133M653.1 222.8L657.2 174.3M653.1 222.8L738.3 196.4M653.1 222.8L604.7 182.2M653.1 222.8L605.7 185.2M653.1 222.8L618.5 180.3M653.1 222.8L614.6 195.6M653.1 222.8L643.3 225.7M653.1 222.8L652.2 225.2M653.1 222.8L647.5 225.5M653.1 222.8L640.3 238.1M653.1 222.8L647.2 237.6M653.1 222.8L633.4 245.5M653.1 222.8L682.8 239.6M653.1 222.8L738.5 196.5M653.1 222.8L714.8 218.6M653.1 222.8L724.8 215.9M653.1 222.8L726.4 223M653.1 222.8L711 274.9M653.1 222.8L709.3 287.6M653.1 222.8L704.3 290.9" stroke="#e83aa8" stroke-width="0.65" opacity="0.5" fill="none"/>
<path d="M647.0 218.3L689.2 156.7M647.0 218.3L665.4 167.2M647.0 218.3L621.5 195.6M647.0 218.3L623.5 197.1M647.0 218.3L612.6 204M647.0 218.3L606.2 209.9M647.0 218.3L616.1 211.9M647.0 218.3L603.2 220.3M647.0 218.3L607.7 220.8M647.0 218.3L608.7 230.2M647.0 218.3L596.3 244M647.0 218.3L619 242.5M647.0 218.3L662.5 220.3M647.0 218.3L686.8 226.2M647.0 218.3L633.4 254.4M647.0 218.3L633.9 259.8M647.0 218.3L666 250.9M647.0 218.3L688.2 264.3M647.0 218.3L739.6 204.3M647.0 218.3L750.7 207M647.0 218.3L752.9 219.2" stroke="#33dd55" stroke-width="0.65" opacity="0.5" fill="none"/>
<path d="M748.7 184.3L716.2 93.2M748.7 184.3L711.2 111.4M748.7 184.3L718.4 113.6M748.7 184.3L706 108M748.7 184.3L699.6 119.2M748.7 184.3L703 126.3M748.7 184.3L673.2 135.2M748.7 184.3L671 136.8M748.7 184.3L694.1 142.9M748.7 184.3L757 147.3M748.7 184.3L765.3 147.3M748.7 184.3L756.5 153.9M748.7 184.3L766.4 153.4M748.7 184.3L738.3 165M748.7 184.3L737.2 173.8M748.7 184.3L744.9 176M748.7 184.3L729.4 178.2M748.7 184.3L799.8 245.1M748.7 184.3L787.1 252.8M748.7 184.3L803.6 265.5M748.7 184.3L807.5 267.2M748.7 184.3L819.1 264.4M748.7 184.3L809.7 276M748.7 184.3L815.2 274.9M748.7 184.3L828.5 289.8" stroke="#3d8fe8" stroke-width="0.65" opacity="0.5" fill="none"/>
<path d="M753.2 183.2L729.4 90.5M753.2 183.2L727.8 100.4M753.2 183.2L710.1 102.6M753.2 183.2L701.3 109.8M753.2 183.2L707.4 116.4M753.2 183.2L697.4 128.5M753.2 183.2L709 146.7M753.2 183.2L671 161.6M753.2 183.2L755.4 172.7M753.2 183.2L728.9 182.6M753.2 183.2L743.2 181.5M753.2 183.2L741.6 185.9M753.2 183.2L752.6 190.3M753.2 183.2L760.9 190.3M753.2 183.2L753.7 196.9M753.2 183.2L767 199.2M753.2 183.2L749 229.6M753.2 183.2L777.7 230.2M753.2 183.2L771.6 245.6M753.2 183.2L793.7 240.1M753.2 183.2L802.5 249M753.2 183.2L792.6 253.4M753.2 183.2L798.7 256.1M753.2 183.2L829 253.4" stroke="#00e0ee" stroke-width="0.65" opacity="0.5" fill="none"/>
<ellipse cx="653.45" cy="222.4" rx="130.61" ry="90.01" transform="rotate(8.55 653.45 222.4)" fill="none" stroke="#7a7a7a" stroke-width="0.95" stroke-dasharray="3,2.2"/>
<ellipse cx="650.15" cy="213.25" rx="115.59" ry="68.69" transform="rotate(-1.76 650.15 213.25)" fill="none" stroke="#f5cc33" stroke-width="0.95" stroke-dasharray="3,2.2"/>
<ellipse cx="668.4" cy="213.75" rx="112.25" ry="97.23" transform="rotate(34.75 668.4 213.75)" fill="none" stroke="#e83aa8" stroke-width="0.95" stroke-dasharray="3,2.2"/>
<ellipse cx="646.8" cy="218.0" rx="118.29" ry="64.73" transform="rotate(-2.74 646.8 218.0)" fill="none" stroke="#33dd55" stroke-width="0.95" stroke-dasharray="3,2.2"/>
<ellipse cx="753.45" cy="182.95" rx="191.3" ry="42.06" transform="rotate(55.22 753.45 182.95)" fill="none" stroke="#3d8fe8" stroke-width="0.95" stroke-dasharray="3,2.2"/>
<ellipse cx="749.0" cy="184.1" rx="157.67" ry="46.67" transform="rotate(56.15 749.0 184.1)" fill="none" stroke="#00e0ee" stroke-width="0.95" stroke-dasharray="3,2.2"/>
<circle cx="669.5" cy="213.9" r="1.6" fill="#505050"/>
<circle cx="650.4" cy="213.4" r="1.6" fill="#505050"/>
<circle cx="653.1" cy="222.8" r="1.6" fill="#505050"/>
<circle cx="647.0" cy="218.3" r="1.6" fill="#505050"/>
<circle cx="748.7" cy="184.3" r="1.6" fill="#505050"/>
<circle cx="753.2" cy="183.2" r="1.6" fill="#505050"/>
<line x1="506.6" y1="8.8" x2="506.6" y2="357.3" stroke="#777" stroke-width="1.1"/>
<line x1="506.1" y1="357.3" x2="884.6" y2="357.3" stroke="#111" stroke-width="1.3"/>
<line x1="584.4" y1="357.3" x2="584.4" y2="359.9" stroke="#333" stroke-width="1"/>
<text x="584.4" y="370.0" font-size="13.0" text-anchor="middle" font-weight="normal" fill="#4d4d4d" >−0.25</text>
<line x1="687.0" y1="357.3" x2="687.0" y2="359.9" stroke="#333" stroke-width="1"/>
<text x="687.0" y="370.0" font-size="13.0" text-anchor="middle" font-weight="normal" fill="#4d4d4d" >0.00</text>
<line x1="789.6" y1="357.3" x2="789.6" y2="359.9" stroke="#333" stroke-width="1"/>
<text x="789.6" y="370.0" font-size="13.0" text-anchor="middle" font-weight="normal" fill="#4d4d4d" >0.25</text>
<line x1="504.0" y1="303.8" x2="506.6" y2="303.8" stroke="#333" stroke-width="1"/>
<text x="502.3" y="308.1" font-size="13.0" text-anchor="end" font-weight="normal" fill="#4d4d4d" >0.2</text>
<line x1="504.0" y1="205.4" x2="506.6" y2="205.4" stroke="#333" stroke-width="1"/>
<text x="502.3" y="209.8" font-size="13.0" text-anchor="end" font-weight="normal" fill="#4d4d4d" >0.0</text>
<line x1="504.0" y1="107.1" x2="506.6" y2="107.1" stroke="#333" stroke-width="1"/>
<text x="502.3" y="111.4" font-size="13.0" text-anchor="end" font-weight="normal" fill="#4d4d4d" >0.2</text>
<line x1="504.0" y1="8.7" x2="506.6" y2="8.7" stroke="#333" stroke-width="1"/>
<text x="502.3" y="13.1" font-size="13.0" text-anchor="end" font-weight="normal" fill="#4d4d4d" >0.4</text>
<text x="713.8" y="385.2" font-size="15.1" text-anchor="middle" font-weight="normal" fill="#000" >PCoA_1 (16.29%)</text>
<text transform="translate(480.6,166.4) rotate(-90)" font-size="15.1" text-anchor="middle">PCoA<tspan fill="#c8c8c8">_</tspan>2 (5.9%)</text>
<text x="454.9" y="17.7" font-size="20.5" text-anchor="start" font-weight="bold" fill="#000" >(B)</text>
<line x1="277.4" y1="413.0" x2="277.4" y2="769.0" stroke="#707070" stroke-width="0.9" stroke-dasharray="1.1,2.3"/>
<line x1="52.7" y1="564.2" x2="425.9" y2="564.2" stroke="#707070" stroke-width="0.9" stroke-dasharray="1.1,2.3"/>
<circle cx="382.7" cy="504" r="5.0" fill="#f837b3" fill-opacity="0.83" stroke="#6a737d" stroke-opacity="0.9" stroke-width="0.8"/>
<circle cx="353" cy="508.5" r="5.0" fill="#f837b3" fill-opacity="0.83" stroke="#6a737d" stroke-opacity="0.9" stroke-width="0.8"/>
<circle cx="360.4" cy="506.9" r="5.0" fill="#f837b3" fill-opacity="0.83" stroke="#6a737d" stroke-opacity="0.9" stroke-width="0.8"/>
<circle cx="360" cy="516.4" r="5.0" fill="#f837b3" fill-opacity="0.83" stroke="#6a737d" stroke-opacity="0.9" stroke-width="0.8"/>
<circle cx="323.4" cy="524.6" r="5.0" fill="#f837b3" fill-opacity="0.83" stroke="#6a737d" stroke-opacity="0.9" stroke-width="0.8"/>
<circle cx="372.4" cy="520.9" r="5.0" fill="#f837b3" fill-opacity="0.83" stroke="#6a737d" stroke-opacity="0.9" stroke-width="0.8"/>
<circle cx="370.3" cy="518.4" r="5.0" fill="#f837b3" fill-opacity="0.83" stroke="#6a737d" stroke-opacity="0.9" stroke-width="0.8"/>
<circle cx="351.8" cy="527.5" r="5.0" fill="#f837b3" fill-opacity="0.83" stroke="#6a737d" stroke-opacity="0.9" stroke-width="0.8"/>
<circle cx="370.3" cy="528.3" r="5.0" fill="#f837b3" fill-opacity="0.83" stroke="#6a737d" stroke-opacity="0.9" stroke-width="0.8"/>
<circle cx="359.6" cy="530.4" r="5.0" fill="#f837b3" fill-opacity="0.83" stroke="#6a737d" stroke-opacity="0.9" stroke-width="0.8"/>
<circle cx="372.8" cy="536.1" r="5.0" fill="#f837b3" fill-opacity="0.83" stroke="#6a737d" stroke-opacity="0.9" stroke-width="0.8"/>
<circle cx="359.2" cy="536.1" r="5.0" fill="#f837b3" fill-opacity="0.83" stroke="#6a737d" stroke-opacity="0.9" stroke-width="0.8"/>
<circle cx="330.4" cy="537.8" r="5.0" fill="#f837b3" fill-opacity="0.83" stroke="#6a737d" stroke-opacity="0.9" stroke-width="0.8"/>
<circle cx="341.1" cy="538.6" r="5.0" fill="#f837b3" fill-opacity="0.83" stroke="#6a737d" stroke-opacity="0.9" stroke-width="0.8"/>
<circle cx="355.1" cy="543.5" r="5.0" fill="#f837b3" fill-opacity="0.83" stroke="#6a737d" stroke-opacity="0.9" stroke-width="0.8"/>
<circle cx="348.5" cy="549.3" r="5.0" fill="#f837b3" fill-opacity="0.83" stroke="#6a737d" stroke-opacity="0.9" stroke-width="0.8"/>
<circle cx="358" cy="553.4" r="5.0" fill="#f837b3" fill-opacity="0.83" stroke="#6a737d" stroke-opacity="0.9" stroke-width="0.8"/>
<circle cx="361.7" cy="555.1" r="5.0" fill="#f837b3" fill-opacity="0.83" stroke="#6a737d" stroke-opacity="0.9" stroke-width="0.8"/>
<circle cx="341.1" cy="558.4" r="5.0" fill="#f837b3" fill-opacity="0.83" stroke="#6a737d" stroke-opacity="0.9" stroke-width="0.8"/>
<circle cx="341.5" cy="560.8" r="5.0" fill="#f837b3" fill-opacity="0.83" stroke="#6a737d" stroke-opacity="0.9" stroke-width="0.8"/>
<circle cx="355.9" cy="562.5" r="5.0" fill="#f837b3" fill-opacity="0.83" stroke="#6a737d" stroke-opacity="0.9" stroke-width="0.8"/>
<circle cx="337.4" cy="586.8" r="5.0" fill="#f837b3" fill-opacity="0.83" stroke="#6a737d" stroke-opacity="0.9" stroke-width="0.8"/>
<circle cx="367.4" cy="524.6" r="5.0" fill="#f837b3" fill-opacity="0.83" stroke="#6a737d" stroke-opacity="0.9" stroke-width="0.8"/>
<circle cx="281" cy="572.9" r="5.0" fill="#f837b3" fill-opacity="0.83" stroke="#6a737d" stroke-opacity="0.9" stroke-width="0.8"/>
<circle cx="282.7" cy="580.7" r="5.0" fill="#f837b3" fill-opacity="0.83" stroke="#6a737d" stroke-opacity="0.9" stroke-width="0.8"/>
<circle cx="286.4" cy="573.3" r="5.0" fill="#f837b3" fill-opacity="0.83" stroke="#6a737d" stroke-opacity="0.9" stroke-width="0.8"/>
<circle cx="307.8" cy="588.9" r="5.0" fill="#f837b3" fill-opacity="0.83" stroke="#6a737d" stroke-opacity="0.9" stroke-width="0.8"/>
<circle cx="318.1" cy="600.1" r="5.0" fill="#f837b3" fill-opacity="0.83" stroke="#6a737d" stroke-opacity="0.9" stroke-width="0.8"/>
<circle cx="318.5" cy="606.7" r="5.0" fill="#f837b3" fill-opacity="0.83" stroke="#6a737d" stroke-opacity="0.9" stroke-width="0.8"/>
<circle cx="286.4" cy="612.8" r="5.0" fill="#f837b3" fill-opacity="0.83" stroke="#6a737d" stroke-opacity="0.9" stroke-width="0.8"/>
<circle cx="294.6" cy="614.1" r="5.0" fill="#f837b3" fill-opacity="0.83" stroke="#6a737d" stroke-opacity="0.9" stroke-width="0.8"/>
<circle cx="301.2" cy="609.5" r="5.0" fill="#f837b3" fill-opacity="0.83" stroke="#6a737d" stroke-opacity="0.9" stroke-width="0.8"/>
<circle cx="309.4" cy="612.4" r="5.0" fill="#f837b3" fill-opacity="0.83" stroke="#6a737d" stroke-opacity="0.9" stroke-width="0.8"/>
<circle cx="300.4" cy="600.9" r="5.0" fill="#f837b3" fill-opacity="0.83" stroke="#6a737d" stroke-opacity="0.9" stroke-width="0.8"/>
<circle cx="163.2" cy="469.4" r="5.0" fill="#ff8000" fill-opacity="0.83" stroke="#6a737d" stroke-opacity="0.9" stroke-width="0.8"/>
<circle cx="234.9" cy="471.7" r="5.0" fill="#ff8000" fill-opacity="0.83" stroke="#6a737d" stroke-opacity="0.9" stroke-width="0.8"/>
<circle cx="125.1" cy="486.4" r="5.0" fill="#ff8000" fill-opacity="0.83" stroke="#6a737d" stroke-opacity="0.9" stroke-width="0.8"/>
<circle cx="136.3" cy="492.8" r="5.0" fill="#ff8000" fill-opacity="0.83" stroke="#6a737d" stroke-opacity="0.9" stroke-width="0.8"/>
<circle cx="117.1" cy="497.4" r="5.0" fill="#ff8000" fill-opacity="0.83" stroke="#6a737d" stroke-opacity="0.9" stroke-width="0.8"/>
<circle cx="119.4" cy="510.9" r="5.0" fill="#ff8000" fill-opacity="0.83" stroke="#6a737d" stroke-opacity="0.9" stroke-width="0.8"/>
<circle cx="164" cy="510.9" r="5.0" fill="#ff8000" fill-opacity="0.83" stroke="#6a737d" stroke-opacity="0.9" stroke-width="0.8"/>
<circle cx="172.1" cy="513.2" r="5.0" fill="#ff8000" fill-opacity="0.83" stroke="#6a737d" stroke-opacity="0.9" stroke-width="0.8"/>
<circle cx="143.2" cy="520.7" r="5.0" fill="#ff8000" fill-opacity="0.83" stroke="#6a737d" stroke-opacity="0.9" stroke-width="0.8"/>
<circle cx="141.5" cy="524.2" r="5.0" fill="#ff8000" fill-opacity="0.83" stroke="#6a737d" stroke-opacity="0.9" stroke-width="0.8"/>
<circle cx="148.4" cy="526.7" r="5.0" fill="#ff8000" fill-opacity="0.83" stroke="#6a737d" stroke-opacity="0.9" stroke-width="0.8"/>
<circle cx="217.6" cy="504" r="5.0" fill="#ff8000" fill-opacity="0.83" stroke="#6a737d" stroke-opacity="0.9" stroke-width="0.8"/>
<circle cx="228" cy="500.9" r="5.0" fill="#ff8000" fill-opacity="0.83" stroke="#6a737d" stroke-opacity="0.9" stroke-width="0.8"/>
<circle cx="210.1" cy="529.4" r="5.0" fill="#ff8000" fill-opacity="0.83" stroke="#6a737d" stroke-opacity="0.9" stroke-width="0.8"/>
<circle cx="223.4" cy="540.1" r="5.0" fill="#ff8000" fill-opacity="0.83" stroke="#6a737d" stroke-opacity="0.9" stroke-width="0.8"/>
<circle cx="232.9" cy="549.3" r="5.0" fill="#ff8000" fill-opacity="0.83" stroke="#6a737d" stroke-opacity="0.9" stroke-width="0.8"/>
<circle cx="195.1" cy="547.5" r="5.0" fill="#ff8000" fill-opacity="0.83" stroke="#6a737d" stroke-opacity="0.9" stroke-width="0.8"/>
<circle cx="165.7" cy="547.3" r="5.0" fill="#ff8000" fill-opacity="0.83" stroke="#6a737d" stroke-opacity="0.9" stroke-width="0.8"/>
<circle cx="150.2" cy="550.7" r="5.0" fill="#ff8000" fill-opacity="0.83" stroke="#6a737d" stroke-opacity="0.9" stroke-width="0.8"/>
<circle cx="160.5" cy="555.6" r="5.0" fill="#ff8000" fill-opacity="0.83" stroke="#6a737d" stroke-opacity="0.9" stroke-width="0.8"/>
<circle cx="153" cy="556.5" r="5.0" fill="#ff8000" fill-opacity="0.83" stroke="#6a737d" stroke-opacity="0.9" stroke-width="0.8"/>
<circle cx="154.2" cy="563.6" r="5.0" fill="#ff8000" fill-opacity="0.83" stroke="#6a737d" stroke-opacity="0.9" stroke-width="0.8"/>
<circle cx="179.3" cy="552.4" r="5.0" fill="#ff8000" fill-opacity="0.83" stroke="#6a737d" stroke-opacity="0.9" stroke-width="0.8"/>
<circle cx="184" cy="558.8" r="5.0" fill="#ff8000" fill-opacity="0.83" stroke="#6a737d" stroke-opacity="0.9" stroke-width="0.8"/>
<circle cx="170.9" cy="564" r="5.0" fill="#ff8000" fill-opacity="0.83" stroke="#6a737d" stroke-opacity="0.9" stroke-width="0.8"/>
<circle cx="178.4" cy="563.6" r="5.0" fill="#ff8000" fill-opacity="0.83" stroke="#6a737d" stroke-opacity="0.9" stroke-width="0.8"/>
<circle cx="188.2" cy="562.2" r="5.0" fill="#ff8000" fill-opacity="0.83" stroke="#6a737d" stroke-opacity="0.9" stroke-width="0.8"/>
<circle cx="206.7" cy="557.4" r="5.0" fill="#ff8000" fill-opacity="0.83" stroke="#6a737d" stroke-opacity="0.9" stroke-width="0.8"/>
<circle cx="220.5" cy="557.1" r="5.0" fill="#ff8000" fill-opacity="0.83" stroke="#6a737d" stroke-opacity="0.9" stroke-width="0.8"/>
<circle cx="218.8" cy="559.9" r="5.0" fill="#ff8000" fill-opacity="0.83" stroke="#6a737d" stroke-opacity="0.9" stroke-width="0.8"/>
<circle cx="171.5" cy="576.1" r="5.0" fill="#ff8000" fill-opacity="0.83" stroke="#6a737d" stroke-opacity="0.9" stroke-width="0.8"/>
<circle cx="259.2" cy="450.2" r="5.0" fill="#ff8000" fill-opacity="0.83" stroke="#6a737d" stroke-opacity="0.9" stroke-width="0.8"/>
<circle cx="273" cy="455.4" r="5.0" fill="#ff8000" fill-opacity="0.83" stroke="#6a737d" stroke-opacity="0.9" stroke-width="0.8"/>
<circle cx="283.2" cy="457.4" r="5.0" fill="#ff8000" fill-opacity="0.83" stroke="#6a737d" stroke-opacity="0.9" stroke-width="0.8"/>
<circle cx="266.7" cy="461.7" r="5.0" fill="#ff8000" fill-opacity="0.83" stroke="#6a737d" stroke-opacity="0.9" stroke-width="0.8"/>
<circle cx="288" cy="468.1" r="5.0" fill="#ff8000" fill-opacity="0.83" stroke="#6a737d" stroke-opacity="0.9" stroke-width="0.8"/>
<circle cx="286.7" cy="470.4" r="5.0" fill="#ff8000" fill-opacity="0.83" stroke="#6a737d" stroke-opacity="0.9" stroke-width="0.8"/>
<circle cx="289.8" cy="479.8" r="5.0" fill="#ff8000" fill-opacity="0.83" stroke="#6a737d" stroke-opacity="0.9" stroke-width="0.8"/>
<circle cx="301.9" cy="478.7" r="5.0" fill="#ff8000" fill-opacity="0.83" stroke="#6a737d" stroke-opacity="0.9" stroke-width="0.8"/>
<circle cx="245.9" cy="485.4" r="5.0" fill="#ff8000" fill-opacity="0.83" stroke="#6a737d" stroke-opacity="0.9" stroke-width="0.8"/>
<circle cx="281.1" cy="488.2" r="5.0" fill="#ff8000" fill-opacity="0.83" stroke="#6a737d" stroke-opacity="0.9" stroke-width="0.8"/>
<circle cx="271.3" cy="495.2" r="5.0" fill="#ff8000" fill-opacity="0.83" stroke="#6a737d" stroke-opacity="0.9" stroke-width="0.8"/>
<circle cx="259.8" cy="500.9" r="5.0" fill="#ff8000" fill-opacity="0.83" stroke="#6a737d" stroke-opacity="0.9" stroke-width="0.8"/>
<circle cx="280" cy="503.8" r="5.0" fill="#ff8000" fill-opacity="0.83" stroke="#6a737d" stroke-opacity="0.9" stroke-width="0.8"/>
<circle cx="307.6" cy="510.2" r="5.0" fill="#ff8000" fill-opacity="0.83" stroke="#6a737d" stroke-opacity="0.9" stroke-width="0.8"/>
<circle cx="319" cy="515.6" r="5.0" fill="#ff8000" fill-opacity="0.83" stroke="#6a737d" stroke-opacity="0.9" stroke-width="0.8"/>
<circle cx="280.5" cy="515.9" r="5.0" fill="#ff8000" fill-opacity="0.83" stroke="#6a737d" stroke-opacity="0.9" stroke-width="0.8"/>
<circle cx="317.2" cy="526.2" r="5.0" fill="#ffd700" fill-opacity="0.83" stroke="#6a737d" stroke-opacity="0.9" stroke-width="0.8"/>
<circle cx="308.8" cy="531.6" r="5.0" fill="#ffd700" fill-opacity="0.83" stroke="#6a737d" stroke-opacity="0.9" stroke-width="0.8"/>
<circle cx="298.6" cy="539.8" r="5.0" fill="#ffd700" fill-opacity="0.83" stroke="#6a737d" stroke-opacity="0.9" stroke-width="0.8"/>
<circle cx="303.6" cy="544" r="5.0" fill="#ffd700" fill-opacity="0.83" stroke="#6a737d" stroke-opacity="0.9" stroke-width="0.8"/>
<circle cx="300.7" cy="546.8" r="5.0" fill="#ffd700" fill-opacity="0.83" stroke="#6a737d" stroke-opacity="0.9" stroke-width="0.8"/>
<circle cx="336.1" cy="538.2" r="5.0" fill="#ffd700" fill-opacity="0.83" stroke="#6a737d" stroke-opacity="0.9" stroke-width="0.8"/>
<circle cx="335.7" cy="543.5" r="5.0" fill="#ffd700" fill-opacity="0.83" stroke="#6a737d" stroke-opacity="0.9" stroke-width="0.8"/>
<circle cx="324.2" cy="546" r="5.0" fill="#ffd700" fill-opacity="0.83" stroke="#6a737d" stroke-opacity="0.9" stroke-width="0.8"/>
<circle cx="322.1" cy="549.7" r="5.0" fill="#ffd700" fill-opacity="0.83" stroke="#6a737d" stroke-opacity="0.9" stroke-width="0.8"/>
<circle cx="326.2" cy="562.5" r="5.0" fill="#ffd700" fill-opacity="0.83" stroke="#6a737d" stroke-opacity="0.9" stroke-width="0.8"/>
<circle cx="333.7" cy="560.8" r="5.0" fill="#ffd700" fill-opacity="0.83" stroke="#6a737d" stroke-opacity="0.9" stroke-width="0.8"/>
<circle cx="339.8" cy="568.3" r="5.0" fill="#ffd700" fill-opacity="0.83" stroke="#6a737d" stroke-opacity="0.9" stroke-width="0.8"/>
<circle cx="329.5" cy="569.1" r="5.0" fill="#ffd700" fill-opacity="0.83" stroke="#6a737d" stroke-opacity="0.9" stroke-width="0.8"/>
<circle cx="335.3" cy="574.8" r="5.0" fill="#ffd700" fill-opacity="0.83" stroke="#6a737d" stroke-opacity="0.9" stroke-width="0.8"/>
<circle cx="320.5" cy="578.1" r="5.0" fill="#ffd700" fill-opacity="0.83" stroke="#6a737d" stroke-opacity="0.9" stroke-width="0.8"/>
<circle cx="327.9" cy="577.3" r="5.0" fill="#ffd700" fill-opacity="0.83" stroke="#6a737d" stroke-opacity="0.9" stroke-width="0.8"/>
<circle cx="336.1" cy="580.6" r="5.0" fill="#ffd700" fill-opacity="0.83" stroke="#6a737d" stroke-opacity="0.9" stroke-width="0.8"/>
<circle cx="302.8" cy="582.7" r="5.0" fill="#ffd700" fill-opacity="0.83" stroke="#6a737d" stroke-opacity="0.9" stroke-width="0.8"/>
<circle cx="308.5" cy="585.6" r="5.0" fill="#ffd700" fill-opacity="0.83" stroke="#6a737d" stroke-opacity="0.9" stroke-width="0.8"/>
<circle cx="302.4" cy="582.4" r="5.0" fill="#ffd700" fill-opacity="0.83" stroke="#6a737d" stroke-opacity="0.9" stroke-width="0.8"/>
<circle cx="308.6" cy="585.7" r="5.0" fill="#ffd700" fill-opacity="0.83" stroke="#6a737d" stroke-opacity="0.9" stroke-width="0.8"/>
<circle cx="319.3" cy="579.1" r="5.0" fill="#ffd700" fill-opacity="0.83" stroke="#6a737d" stroke-opacity="0.9" stroke-width="0.8"/>
<circle cx="318" cy="560" r="5.0" fill="#ffd700" fill-opacity="0.83" stroke="#6a737d" stroke-opacity="0.9" stroke-width="0.8"/>
<circle cx="326" cy="555" r="5.0" fill="#ffd700" fill-opacity="0.83" stroke="#6a737d" stroke-opacity="0.9" stroke-width="0.8"/>
<circle cx="312" cy="570" r="5.0" fill="#ffd700" fill-opacity="0.83" stroke="#6a737d" stroke-opacity="0.9" stroke-width="0.8"/>
<circle cx="330" cy="548" r="5.0" fill="#ffd700" fill-opacity="0.83" stroke="#6a737d" stroke-opacity="0.9" stroke-width="0.8"/>
<circle cx="322" cy="538" r="5.0" fill="#ffd700" fill-opacity="0.83" stroke="#6a737d" stroke-opacity="0.9" stroke-width="0.8"/>
<circle cx="340" cy="575" r="5.0" fill="#ffd700" fill-opacity="0.83" stroke="#6a737d" stroke-opacity="0.9" stroke-width="0.8"/>
<circle cx="302.4" cy="615.7" r="5.0" fill="#ffd700" fill-opacity="0.83" stroke="#6a737d" stroke-opacity="0.9" stroke-width="0.8"/>
<circle cx="280.6" cy="663.9" r="5.0" fill="#ffd700" fill-opacity="0.83" stroke="#6a737d" stroke-opacity="0.9" stroke-width="0.8"/>
<circle cx="237.8" cy="636" r="5.0" fill="#ffd700" fill-opacity="0.83" stroke="#6a737d" stroke-opacity="0.9" stroke-width="0.8"/>
<circle cx="246.2" cy="644.8" r="5.0" fill="#ffd700" fill-opacity="0.83" stroke="#6a737d" stroke-opacity="0.9" stroke-width="0.8"/>
<circle cx="227.7" cy="666.8" r="5.0" fill="#ffd700" fill-opacity="0.83" stroke="#6a737d" stroke-opacity="0.9" stroke-width="0.8"/>
<circle cx="234.1" cy="670.7" r="5.0" fill="#ffd700" fill-opacity="0.83" stroke="#6a737d" stroke-opacity="0.9" stroke-width="0.8"/>
<circle cx="244.8" cy="668.2" r="5.0" fill="#ffd700" fill-opacity="0.83" stroke="#6a737d" stroke-opacity="0.9" stroke-width="0.8"/>
<circle cx="254" cy="668.6" r="5.0" fill="#ffd700" fill-opacity="0.83" stroke="#6a737d" stroke-opacity="0.9" stroke-width="0.8"/>
<circle cx="261.1" cy="668.2" r="5.0" fill="#ffd700" fill-opacity="0.83" stroke="#6a737d" stroke-opacity="0.9" stroke-width="0.8"/>
<circle cx="268.9" cy="668.9" r="5.0" fill="#ffd700" fill-opacity="0.83" stroke="#6a737d" stroke-opacity="0.9" stroke-width="0.8"/>
<circle cx="280.6" cy="664.3" r="5.0" fill="#ffd700" fill-opacity="0.83" stroke="#6a737d" stroke-opacity="0.9" stroke-width="0.8"/>
<circle cx="243.7" cy="674.6" r="5.0" fill="#ffd700" fill-opacity="0.83" stroke="#6a737d" stroke-opacity="0.9" stroke-width="0.8"/>
<circle cx="247.6" cy="676" r="5.0" fill="#ffd700" fill-opacity="0.83" stroke="#6a737d" stroke-opacity="0.9" stroke-width="0.8"/>
<circle cx="256.8" cy="676.7" r="5.0" fill="#ffd700" fill-opacity="0.83" stroke="#6a737d" stroke-opacity="0.9" stroke-width="0.8"/>
<circle cx="266" cy="676.4" r="5.0" fill="#ffd700" fill-opacity="0.83" stroke="#6a737d" stroke-opacity="0.9" stroke-width="0.8"/>
<circle cx="272.4" cy="674.6" r="5.0" fill="#ffd700" fill-opacity="0.83" stroke="#6a737d" stroke-opacity="0.9" stroke-width="0.8"/>
<circle cx="258.9" cy="671.1" r="5.0" fill="#ffd700" fill-opacity="0.83" stroke="#6a737d" stroke-opacity="0.9" stroke-width="0.8"/>
<path d="M333.2 561.3L382.7 504M333.2 561.3L353 508.5M333.2 561.3L360.4 506.9M333.2 561.3L360 516.4M333.2 561.3L323.4 524.6M333.2 561.3L372.4 520.9M333.2 561.3L370.3 518.4M333.2 561.3L351.8 527.5M333.2 561.3L370.3 528.3M333.2 561.3L359.6 530.4M333.2 561.3L372.8 536.1M333.2 561.3L359.2 536.1M333.2 561.3L330.4 537.8M333.2 561.3L341.1 538.6M333.2 561.3L355.1 543.5M333.2 561.3L348.5 549.3M333.2 561.3L358 553.4M333.2 561.3L361.7 555.1M333.2 561.3L341.1 558.4M333.2 561.3L341.5 560.8M333.2 561.3L355.9 562.5M333.2 561.3L337.4 586.8M333.2 561.3L367.4 524.6M333.2 561.3L281 572.9M333.2 561.3L282.7 580.7M333.2 561.3L286.4 573.3M333.2 561.3L307.8 588.9M333.2 561.3L318.1 600.1M333.2 561.3L318.5 606.7M333.2 561.3L286.4 612.8M333.2 561.3L294.6 614.1M333.2 561.3L301.2 609.5M333.2 561.3L309.4 612.4M333.2 561.3L300.4 600.9" stroke="#f235b5" stroke-width="0.65" opacity="0.5" fill="none"/>
<path d="M211.3 516.7L163.2 469.4M211.3 516.7L234.9 471.7M211.3 516.7L125.1 486.4M211.3 516.7L136.3 492.8M211.3 516.7L117.1 497.4M211.3 516.7L119.4 510.9M211.3 516.7L164 510.9M211.3 516.7L172.1 513.2M211.3 516.7L143.2 520.7M211.3 516.7L141.5 524.2M211.3 516.7L148.4 526.7M211.3 516.7L217.6 504M211.3 516.7L228 500.9M211.3 516.7L210.1 529.4M211.3 516.7L223.4 540.1M211.3 516.7L232.9 549.3M211.3 516.7L195.1 547.5M211.3 516.7L165.7 547.3M211.3 516.7L150.2 550.7M211.3 516.7L160.5 555.6M211.3 516.7L153 556.5M211.3 516.7L154.2 563.6M211.3 516.7L179.3 552.4M211.3 516.7L184 558.8M211.3 516.7L170.9 564M211.3 516.7L178.4 563.6M211.3 516.7L188.2 562.2M211.3 516.7L206.7 557.4M211.3 516.7L220.5 557.1M211.3 516.7L218.8 559.9M211.3 516.7L171.5 576.1M211.3 516.7L259.2 450.2M211.3 516.7L273 455.4M211.3 516.7L283.2 457.4M211.3 516.7L266.7 461.7M211.3 516.7L288 468.1M211.3 516.7L286.7 470.4M211.3 516.7L289.8 479.8M211.3 516.7L301.9 478.7M211.3 516.7L245.9 485.4M211.3 516.7L281.1 488.2M211.3 516.7L271.3 495.2M211.3 516.7L259.8 500.9M211.3 516.7L280 503.8M211.3 516.7L307.6 510.2M211.3 516.7L319 515.6M211.3 516.7L280.5 515.9" stroke="#ff7a00" stroke-width="0.65" opacity="0.5" fill="none"/>
<path d="M288 615.3L317.2 526.2M288 615.3L308.8 531.6M288 615.3L298.6 539.8M288 615.3L303.6 544M288 615.3L300.7 546.8M288 615.3L336.1 538.2M288 615.3L335.7 543.5M288 615.3L324.2 546M288 615.3L322.1 549.7M288 615.3L326.2 562.5M288 615.3L333.7 560.8M288 615.3L339.8 568.3M288 615.3L329.5 569.1M288 615.3L335.3 574.8M288 615.3L320.5 578.1M288 615.3L327.9 577.3M288 615.3L336.1 580.6M288 615.3L302.8 582.7M288 615.3L308.5 585.6M288 615.3L302.4 582.4M288 615.3L308.6 585.7M288 615.3L319.3 579.1M288 615.3L318 560M288 615.3L326 555M288 615.3L312 570M288 615.3L330 548M288 615.3L322 538M288 615.3L340 575M288 615.3L302.4 615.7M288 615.3L280.6 663.9M288 615.3L237.8 636M288 615.3L246.2 644.8M288 615.3L227.7 666.8M288 615.3L234.1 670.7M288 615.3L244.8 668.2M288 615.3L254 668.6M288 615.3L261.1 668.2M288 615.3L268.9 668.9M288 615.3L280.6 664.3M288 615.3L243.7 674.6M288 615.3L247.6 676M288 615.3L256.8 676.7M288 615.3L266 676.4M288 615.3L272.4 674.6M288 615.3L258.9 671.1" stroke="#ffd000" stroke-width="0.65" opacity="0.5" fill="none"/>
<ellipse cx="332.65" cy="560.15" rx="105.87" ry="36.18" transform="rotate(-47.84 332.65 560.15)" fill="none" stroke="#f235b5" stroke-width="0.95" stroke-dasharray="3,2.2"/>
<ellipse cx="211.15" cy="516.85" rx="151.32" ry="71.04" transform="rotate(-23.23 211.15 516.85)" fill="none" stroke="#ff7a00" stroke-width="0.95" stroke-dasharray="3,2.2"/>
<ellipse cx="288.45" cy="615.65" rx="159.68" ry="33.69" transform="rotate(-58.91 288.45 615.65)" fill="none" stroke="#ffd000" stroke-width="0.95" stroke-dasharray="3,2.2"/>
<circle cx="333.2" cy="561.3" r="1.6" fill="#505050"/>
<circle cx="211.3" cy="516.7" r="1.6" fill="#505050"/>
<circle cx="288" cy="615.3" r="1.6" fill="#505050"/>
<line x1="52.7" y1="413.0" x2="52.7" y2="769.0" stroke="#111" stroke-width="1.1"/>
<line x1="52.2" y1="769.0" x2="425.9" y2="769.0" stroke="#111" stroke-width="1.3"/>
<line x1="117.2" y1="769.0" x2="117.2" y2="771.6" stroke="#333" stroke-width="1"/>
<text x="117.2" y="781.9" font-size="11.7" text-anchor="middle" font-weight="normal" fill="#4d4d4d" >−0.4</text>
<line x1="197.3" y1="769.0" x2="197.3" y2="771.6" stroke="#333" stroke-width="1"/>
<text x="197.3" y="781.9" font-size="11.7" text-anchor="middle" font-weight="normal" fill="#4d4d4d" >−0.2</text>
<line x1="277.4" y1="769.0" x2="277.4" y2="771.6" stroke="#333" stroke-width="1"/>
<text x="277.4" y="781.9" font-size="11.7" text-anchor="middle" font-weight="normal" fill="#4d4d4d" >0.0</text>
<line x1="357.5" y1="769.0" x2="357.5" y2="771.6" stroke="#333" stroke-width="1"/>
<text x="357.5" y="781.9" font-size="11.7" text-anchor="middle" font-weight="normal" fill="#4d4d4d" >0.2</text>
<line x1="50.1" y1="730.2" x2="52.7" y2="730.2" stroke="#333" stroke-width="1"/>
<text x="47.2" y="734.2" font-size="11.7" text-anchor="end" font-weight="normal" fill="#4d4d4d" >0.4</text>
<line x1="50.1" y1="647.2" x2="52.7" y2="647.2" stroke="#333" stroke-width="1"/>
<text x="47.2" y="651.2" font-size="11.7" text-anchor="end" font-weight="normal" fill="#4d4d4d" >−0.2</text>
<line x1="50.1" y1="564.2" x2="52.7" y2="564.2" stroke="#333" stroke-width="1"/>
<text x="47.2" y="568.2" font-size="11.7" text-anchor="end" font-weight="normal" fill="#4d4d4d" >0.0</text>
<line x1="50.1" y1="481.2" x2="52.7" y2="481.2" stroke="#333" stroke-width="1"/>
<text x="47.2" y="485.2" font-size="11.7" text-anchor="end" font-weight="normal" fill="#4d4d4d" >0.2</text>
<text x="258.2" y="797.3" font-size="15.1" text-anchor="middle" font-weight="normal" fill="#000" >PCoA_1 (15.69%)</text>
<text transform="translate(25.9,571.6) rotate(-90)" font-size="15.1" text-anchor="middle">PCoA<tspan fill="#c8c8c8">_</tspan>2 (11.54%)</text>
<text x="1.6" y="430.5" font-size="20.5" text-anchor="start" font-weight="bold" fill="#000" >(D)</text>
<line x1="724.3" y1="413.2" x2="724.3" y2="768.4" stroke="#707070" stroke-width="0.9" stroke-dasharray="1.1,2.3"/>
<line x1="506.5" y1="572.3" x2="884.6" y2="572.3" stroke="#707070" stroke-width="0.9" stroke-dasharray="1.1,2.3"/>
<circle cx="620" cy="479.7" r="5.0" fill="#9b9b9b" fill-opacity="0.83" stroke="#6a737d" stroke-opacity="0.9" stroke-width="0.8"/>
<circle cx="628.1" cy="522.9" r="5.0" fill="#9b9b9b" fill-opacity="0.83" stroke="#6a737d" stroke-opacity="0.9" stroke-width="0.8"/>
<circle cx="617.6" cy="564.3" r="5.0" fill="#9b9b9b" fill-opacity="0.83" stroke="#6a737d" stroke-opacity="0.9" stroke-width="0.8"/>
<circle cx="610.8" cy="566.2" r="5.0" fill="#9b9b9b" fill-opacity="0.83" stroke="#6a737d" stroke-opacity="0.9" stroke-width="0.8"/>
<circle cx="626.2" cy="573" r="5.0" fill="#9b9b9b" fill-opacity="0.83" stroke="#6a737d" stroke-opacity="0.9" stroke-width="0.8"/>
<circle cx="633.6" cy="571.7" r="5.0" fill="#9b9b9b" fill-opacity="0.83" stroke="#6a737d" stroke-opacity="0.9" stroke-width="0.8"/>
<circle cx="640.4" cy="566.8" r="5.0" fill="#9b9b9b" fill-opacity="0.83" stroke="#6a737d" stroke-opacity="0.9" stroke-width="0.8"/>
<circle cx="642.9" cy="571.7" r="5.0" fill="#9b9b9b" fill-opacity="0.83" stroke="#6a737d" stroke-opacity="0.9" stroke-width="0.8"/>
<circle cx="772.9" cy="547.6" r="5.0" fill="#9b9b9b" fill-opacity="0.83" stroke="#6a737d" stroke-opacity="0.9" stroke-width="0.8"/>
<circle cx="730.9" cy="574.8" r="5.0" fill="#9b9b9b" fill-opacity="0.83" stroke="#6a737d" stroke-opacity="0.9" stroke-width="0.8"/>
<circle cx="728.4" cy="581" r="5.0" fill="#9b9b9b" fill-opacity="0.83" stroke="#6a737d" stroke-opacity="0.9" stroke-width="0.8"/>
<circle cx="729" cy="588.4" r="5.0" fill="#9b9b9b" fill-opacity="0.83" stroke="#6a737d" stroke-opacity="0.9" stroke-width="0.8"/>
<circle cx="761.8" cy="587.2" r="5.0" fill="#9b9b9b" fill-opacity="0.83" stroke="#6a737d" stroke-opacity="0.9" stroke-width="0.8"/>
<circle cx="729.3" cy="575.9" r="5.0" fill="#9b9b9b" fill-opacity="0.83" stroke="#6a737d" stroke-opacity="0.9" stroke-width="0.8"/>
<circle cx="729.3" cy="587.8" r="5.0" fill="#9b9b9b" fill-opacity="0.83" stroke="#6a737d" stroke-opacity="0.9" stroke-width="0.8"/>
<circle cx="727.3" cy="670.3" r="5.0" fill="#9b9b9b" fill-opacity="0.83" stroke="#6a737d" stroke-opacity="0.9" stroke-width="0.8"/>
<circle cx="705.1" cy="682.7" r="5.0" fill="#9b9b9b" fill-opacity="0.83" stroke="#6a737d" stroke-opacity="0.9" stroke-width="0.8"/>
<circle cx="713.5" cy="683.7" r="5.0" fill="#9b9b9b" fill-opacity="0.83" stroke="#6a737d" stroke-opacity="0.9" stroke-width="0.8"/>
<circle cx="685.5" cy="482.1" r="5.0" fill="#f7d755" fill-opacity="0.83" stroke="#6a737d" stroke-opacity="0.9" stroke-width="0.8"/>
<circle cx="584.8" cy="496.3" r="5.0" fill="#f7d755" fill-opacity="0.83" stroke="#6a737d" stroke-opacity="0.9" stroke-width="0.8"/>
<circle cx="595.3" cy="502.5" r="5.0" fill="#f7d755" fill-opacity="0.83" stroke="#6a737d" stroke-opacity="0.9" stroke-width="0.8"/>
<circle cx="577.4" cy="507.5" r="5.0" fill="#f7d755" fill-opacity="0.83" stroke="#6a737d" stroke-opacity="0.9" stroke-width="0.8"/>
<circle cx="579.9" cy="520.4" r="5.0" fill="#f7d755" fill-opacity="0.83" stroke="#6a737d" stroke-opacity="0.9" stroke-width="0.8"/>
<circle cx="600.9" cy="530.3" r="5.0" fill="#f7d755" fill-opacity="0.83" stroke="#6a737d" stroke-opacity="0.9" stroke-width="0.8"/>
<circle cx="600.3" cy="532.8" r="5.0" fill="#f7d755" fill-opacity="0.83" stroke="#6a737d" stroke-opacity="0.9" stroke-width="0.8"/>
<circle cx="672.6" cy="564.3" r="5.0" fill="#f7d755" fill-opacity="0.83" stroke="#6a737d" stroke-opacity="0.9" stroke-width="0.8"/>
<circle cx="782.8" cy="566.2" r="5.0" fill="#f7d755" fill-opacity="0.83" stroke="#6a737d" stroke-opacity="0.9" stroke-width="0.8"/>
<circle cx="754.4" cy="592.1" r="5.0" fill="#f7d755" fill-opacity="0.83" stroke="#6a737d" stroke-opacity="0.9" stroke-width="0.8"/>
<circle cx="755" cy="592.2" r="5.0" fill="#f7d755" fill-opacity="0.83" stroke="#6a737d" stroke-opacity="0.9" stroke-width="0.8"/>
<circle cx="745.6" cy="609" r="5.0" fill="#f7d755" fill-opacity="0.83" stroke="#6a737d" stroke-opacity="0.9" stroke-width="0.8"/>
<circle cx="746.6" cy="623.4" r="5.0" fill="#f7d755" fill-opacity="0.83" stroke="#6a737d" stroke-opacity="0.9" stroke-width="0.8"/>
<circle cx="684.8" cy="676.8" r="5.0" fill="#f7d755" fill-opacity="0.83" stroke="#6a737d" stroke-opacity="0.9" stroke-width="0.8"/>
<circle cx="696.7" cy="683.7" r="5.0" fill="#f7d755" fill-opacity="0.83" stroke="#6a737d" stroke-opacity="0.9" stroke-width="0.8"/>
<circle cx="669.5" cy="513.6" r="5.0" fill="#eb52b5" fill-opacity="0.83" stroke="#6a737d" stroke-opacity="0.9" stroke-width="0.8"/>
<circle cx="679.4" cy="510.5" r="5.0" fill="#eb52b5" fill-opacity="0.83" stroke="#6a737d" stroke-opacity="0.9" stroke-width="0.8"/>
<circle cx="662.7" cy="538.3" r="5.0" fill="#eb52b5" fill-opacity="0.83" stroke="#6a737d" stroke-opacity="0.9" stroke-width="0.8"/>
<circle cx="675" cy="548.9" r="5.0" fill="#eb52b5" fill-opacity="0.83" stroke="#6a737d" stroke-opacity="0.9" stroke-width="0.8"/>
<circle cx="683.7" cy="558.1" r="5.0" fill="#eb52b5" fill-opacity="0.83" stroke="#6a737d" stroke-opacity="0.9" stroke-width="0.8"/>
<circle cx="649.7" cy="556.3" r="5.0" fill="#eb52b5" fill-opacity="0.83" stroke="#6a737d" stroke-opacity="0.9" stroke-width="0.8"/>
<circle cx="659.6" cy="566.2" r="5.0" fill="#eb52b5" fill-opacity="0.83" stroke="#6a737d" stroke-opacity="0.9" stroke-width="0.8"/>
<circle cx="670.7" cy="568.6" r="5.0" fill="#eb52b5" fill-opacity="0.83" stroke="#6a737d" stroke-opacity="0.9" stroke-width="0.8"/>
<circle cx="777.2" cy="547.6" r="5.0" fill="#eb52b5" fill-opacity="0.83" stroke="#6a737d" stroke-opacity="0.9" stroke-width="0.8"/>
<circle cx="777.2" cy="553.8" r="5.0" fill="#eb52b5" fill-opacity="0.83" stroke="#6a737d" stroke-opacity="0.9" stroke-width="0.8"/>
<circle cx="795.8" cy="552.6" r="5.0" fill="#eb52b5" fill-opacity="0.83" stroke="#6a737d" stroke-opacity="0.9" stroke-width="0.8"/>
<circle cx="811.8" cy="545.1" r="5.0" fill="#eb52b5" fill-opacity="0.83" stroke="#6a737d" stroke-opacity="0.9" stroke-width="0.8"/>
<circle cx="801.3" cy="564.3" r="5.0" fill="#eb52b5" fill-opacity="0.83" stroke="#6a737d" stroke-opacity="0.9" stroke-width="0.8"/>
<circle cx="795.8" cy="570.5" r="5.0" fill="#eb52b5" fill-opacity="0.83" stroke="#6a737d" stroke-opacity="0.9" stroke-width="0.8"/>
<circle cx="731.8" cy="620.9" r="5.0" fill="#eb52b5" fill-opacity="0.83" stroke="#6a737d" stroke-opacity="0.9" stroke-width="0.8"/>
<circle cx="753.5" cy="619.4" r="5.0" fill="#eb52b5" fill-opacity="0.83" stroke="#6a737d" stroke-opacity="0.9" stroke-width="0.8"/>
<circle cx="761.4" cy="614.5" r="5.0" fill="#eb52b5" fill-opacity="0.83" stroke="#6a737d" stroke-opacity="0.9" stroke-width="0.8"/>
<circle cx="687.8" cy="642.7" r="5.0" fill="#eb52b5" fill-opacity="0.83" stroke="#6a737d" stroke-opacity="0.9" stroke-width="0.8"/>
<circle cx="695.7" cy="651.5" r="5.0" fill="#eb52b5" fill-opacity="0.83" stroke="#6a737d" stroke-opacity="0.9" stroke-width="0.8"/>
<circle cx="693.7" cy="672.8" r="5.0" fill="#eb52b5" fill-opacity="0.83" stroke="#6a737d" stroke-opacity="0.9" stroke-width="0.8"/>
<circle cx="702.6" cy="671.8" r="5.0" fill="#eb52b5" fill-opacity="0.83" stroke="#6a737d" stroke-opacity="0.9" stroke-width="0.8"/>
<circle cx="704.1" cy="676.3" r="5.0" fill="#eb52b5" fill-opacity="0.83" stroke="#6a737d" stroke-opacity="0.9" stroke-width="0.8"/>
<circle cx="717" cy="673.8" r="5.0" fill="#eb52b5" fill-opacity="0.83" stroke="#6a737d" stroke-opacity="0.9" stroke-width="0.8"/>
<circle cx="620.7" cy="520.4" r="5.0" fill="#4beb73" fill-opacity="0.83" stroke="#6a737d" stroke-opacity="0.9" stroke-width="0.8"/>
<circle cx="606.5" cy="535.9" r="5.0" fill="#4beb73" fill-opacity="0.83" stroke="#6a737d" stroke-opacity="0.9" stroke-width="0.8"/>
<circle cx="607.7" cy="559.4" r="5.0" fill="#4beb73" fill-opacity="0.83" stroke="#6a737d" stroke-opacity="0.9" stroke-width="0.8"/>
<circle cx="622.5" cy="556.3" r="5.0" fill="#4beb73" fill-opacity="0.83" stroke="#6a737d" stroke-opacity="0.9" stroke-width="0.8"/>
<circle cx="634.3" cy="561.2" r="5.0" fill="#4beb73" fill-opacity="0.83" stroke="#6a737d" stroke-opacity="0.9" stroke-width="0.8"/>
<circle cx="612" cy="571.7" r="5.0" fill="#4beb73" fill-opacity="0.83" stroke="#6a737d" stroke-opacity="0.9" stroke-width="0.8"/>
<circle cx="627.5" cy="584.7" r="5.0" fill="#4beb73" fill-opacity="0.83" stroke="#6a737d" stroke-opacity="0.9" stroke-width="0.8"/>
<circle cx="782.2" cy="547" r="5.0" fill="#4beb73" fill-opacity="0.83" stroke="#6a737d" stroke-opacity="0.9" stroke-width="0.8"/>
<circle cx="747" cy="590.2" r="5.0" fill="#4beb73" fill-opacity="0.83" stroke="#6a737d" stroke-opacity="0.9" stroke-width="0.8"/>
<circle cx="751.3" cy="596.4" r="5.0" fill="#4beb73" fill-opacity="0.83" stroke="#6a737d" stroke-opacity="0.9" stroke-width="0.8"/>
<circle cx="778.5" cy="594.6" r="5.0" fill="#4beb73" fill-opacity="0.83" stroke="#6a737d" stroke-opacity="0.9" stroke-width="0.8"/>
<circle cx="761.4" cy="608.5" r="5.0" fill="#4beb73" fill-opacity="0.83" stroke="#6a737d" stroke-opacity="0.9" stroke-width="0.8"/>
<circle cx="740.2" cy="615.5" r="5.0" fill="#4beb73" fill-opacity="0.83" stroke="#6a737d" stroke-opacity="0.9" stroke-width="0.8"/>
<circle cx="739.7" cy="620.4" r="5.0" fill="#4beb73" fill-opacity="0.83" stroke="#6a737d" stroke-opacity="0.9" stroke-width="0.8"/>
<circle cx="678.9" cy="673.3" r="5.0" fill="#4beb73" fill-opacity="0.83" stroke="#6a737d" stroke-opacity="0.9" stroke-width="0.8"/>
<circle cx="695.2" cy="679.7" r="5.0" fill="#4beb73" fill-opacity="0.83" stroke="#6a737d" stroke-opacity="0.9" stroke-width="0.8"/>
<circle cx="697.7" cy="678.7" r="5.0" fill="#4beb73" fill-opacity="0.83" stroke="#6a737d" stroke-opacity="0.9" stroke-width="0.8"/>
<circle cx="709.5" cy="673.8" r="5.0" fill="#4beb73" fill-opacity="0.83" stroke="#6a737d" stroke-opacity="0.9" stroke-width="0.8"/>
<circle cx="712.5" cy="678.2" r="5.0" fill="#4beb73" fill-opacity="0.83" stroke="#6a737d" stroke-opacity="0.9" stroke-width="0.8"/>
<circle cx="719.4" cy="680.7" r="5.0" fill="#4beb73" fill-opacity="0.83" stroke="#6a737d" stroke-opacity="0.9" stroke-width="0.8"/>
<circle cx="707.2" cy="461.1" r="5.0" fill="#4695e9" fill-opacity="0.83" stroke="#6a737d" stroke-opacity="0.9" stroke-width="0.8"/>
<circle cx="714.6" cy="471.6" r="5.0" fill="#4695e9" fill-opacity="0.83" stroke="#6a737d" stroke-opacity="0.9" stroke-width="0.8"/>
<circle cx="729.7" cy="467.9" r="5.0" fill="#4695e9" fill-opacity="0.83" stroke="#6a737d" stroke-opacity="0.9" stroke-width="0.8"/>
<circle cx="733.4" cy="479.7" r="5.0" fill="#4695e9" fill-opacity="0.83" stroke="#6a737d" stroke-opacity="0.9" stroke-width="0.8"/>
<circle cx="735.8" cy="490.2" r="5.0" fill="#4695e9" fill-opacity="0.83" stroke="#6a737d" stroke-opacity="0.9" stroke-width="0.8"/>
<circle cx="746.7" cy="488.9" r="5.0" fill="#4695e9" fill-opacity="0.83" stroke="#6a737d" stroke-opacity="0.9" stroke-width="0.8"/>
<circle cx="751.9" cy="519.8" r="5.0" fill="#4695e9" fill-opacity="0.83" stroke="#6a737d" stroke-opacity="0.9" stroke-width="0.8"/>
<circle cx="793.9" cy="518.6" r="5.0" fill="#4695e9" fill-opacity="0.83" stroke="#6a737d" stroke-opacity="0.9" stroke-width="0.8"/>
<circle cx="800.1" cy="516.7" r="5.0" fill="#4695e9" fill-opacity="0.83" stroke="#6a737d" stroke-opacity="0.9" stroke-width="0.8"/>
<circle cx="799.5" cy="526" r="5.0" fill="#4695e9" fill-opacity="0.83" stroke="#6a737d" stroke-opacity="0.9" stroke-width="0.8"/>
<circle cx="809.4" cy="529.1" r="5.0" fill="#4695e9" fill-opacity="0.83" stroke="#6a737d" stroke-opacity="0.9" stroke-width="0.8"/>
<circle cx="792.7" cy="536.5" r="5.0" fill="#4695e9" fill-opacity="0.83" stroke="#6a737d" stroke-opacity="0.9" stroke-width="0.8"/>
<circle cx="801.3" cy="543.9" r="5.0" fill="#4695e9" fill-opacity="0.83" stroke="#6a737d" stroke-opacity="0.9" stroke-width="0.8"/>
<circle cx="770.4" cy="571.1" r="5.0" fill="#4695e9" fill-opacity="0.83" stroke="#6a737d" stroke-opacity="0.9" stroke-width="0.8"/>
<circle cx="776.6" cy="578.5" r="5.0" fill="#4695e9" fill-opacity="0.83" stroke="#6a737d" stroke-opacity="0.9" stroke-width="0.8"/>
<circle cx="769.2" cy="579.1" r="5.0" fill="#4695e9" fill-opacity="0.83" stroke="#6a737d" stroke-opacity="0.9" stroke-width="0.8"/>
<circle cx="780.3" cy="577.3" r="5.0" fill="#4695e9" fill-opacity="0.83" stroke="#6a737d" stroke-opacity="0.9" stroke-width="0.8"/>
<circle cx="764.3" cy="587.2" r="5.0" fill="#4695e9" fill-opacity="0.83" stroke="#6a737d" stroke-opacity="0.9" stroke-width="0.8"/>
<circle cx="776.6" cy="584.7" r="5.0" fill="#4695e9" fill-opacity="0.83" stroke="#6a737d" stroke-opacity="0.9" stroke-width="0.8"/>
<circle cx="768" cy="574" r="5.0" fill="#4695e9" fill-opacity="0.83" stroke="#6a737d" stroke-opacity="0.9" stroke-width="0.8"/>
<circle cx="775" cy="570" r="5.0" fill="#4695e9" fill-opacity="0.83" stroke="#6a737d" stroke-opacity="0.9" stroke-width="0.8"/>
<circle cx="783" cy="583" r="5.0" fill="#4695e9" fill-opacity="0.83" stroke="#6a737d" stroke-opacity="0.9" stroke-width="0.8"/>
<circle cx="771" cy="590" r="5.0" fill="#4695e9" fill-opacity="0.83" stroke="#6a737d" stroke-opacity="0.9" stroke-width="0.8"/>
<circle cx="760" cy="578" r="5.0" fill="#4695e9" fill-opacity="0.83" stroke="#6a737d" stroke-opacity="0.9" stroke-width="0.8"/>
<circle cx="695.4" cy="495.1" r="5.0" fill="#1df3f3" fill-opacity="0.83" stroke="#6a737d" stroke-opacity="0.9" stroke-width="0.8"/>
<circle cx="708.4" cy="510.5" r="5.0" fill="#1df3f3" fill-opacity="0.83" stroke="#6a737d" stroke-opacity="0.9" stroke-width="0.8"/>
<circle cx="718.9" cy="505" r="5.0" fill="#1df3f3" fill-opacity="0.83" stroke="#6a737d" stroke-opacity="0.9" stroke-width="0.8"/>
<circle cx="720.4" cy="466.1" r="5.0" fill="#1df3f3" fill-opacity="0.83" stroke="#6a737d" stroke-opacity="0.9" stroke-width="0.8"/>
<circle cx="727.4" cy="498.2" r="5.0" fill="#1df3f3" fill-opacity="0.83" stroke="#6a737d" stroke-opacity="0.9" stroke-width="0.8"/>
<circle cx="718.5" cy="505" r="5.0" fill="#1df3f3" fill-opacity="0.83" stroke="#6a737d" stroke-opacity="0.9" stroke-width="0.8"/>
<circle cx="726.6" cy="513.6" r="5.0" fill="#1df3f3" fill-opacity="0.83" stroke="#6a737d" stroke-opacity="0.9" stroke-width="0.8"/>
<circle cx="726.9" cy="525.4" r="5.0" fill="#1df3f3" fill-opacity="0.83" stroke="#6a737d" stroke-opacity="0.9" stroke-width="0.8"/>
<circle cx="762.4" cy="524.8" r="5.0" fill="#1df3f3" fill-opacity="0.83" stroke="#6a737d" stroke-opacity="0.9" stroke-width="0.8"/>
<circle cx="760.5" cy="535.9" r="5.0" fill="#1df3f3" fill-opacity="0.83" stroke="#6a737d" stroke-opacity="0.9" stroke-width="0.8"/>
<circle cx="752.9" cy="540.8" r="5.0" fill="#1df3f3" fill-opacity="0.83" stroke="#6a737d" stroke-opacity="0.9" stroke-width="0.8"/>
<circle cx="743.9" cy="549.5" r="5.0" fill="#1df3f3" fill-opacity="0.83" stroke="#6a737d" stroke-opacity="0.9" stroke-width="0.8"/>
<circle cx="747.6" cy="553.2" r="5.0" fill="#1df3f3" fill-opacity="0.83" stroke="#6a737d" stroke-opacity="0.9" stroke-width="0.8"/>
<circle cx="767.3" cy="555" r="5.0" fill="#1df3f3" fill-opacity="0.83" stroke="#6a737d" stroke-opacity="0.9" stroke-width="0.8"/>
<circle cx="764.9" cy="558.1" r="5.0" fill="#1df3f3" fill-opacity="0.83" stroke="#6a737d" stroke-opacity="0.9" stroke-width="0.8"/>
<circle cx="811.8" cy="530.3" r="5.0" fill="#1df3f3" fill-opacity="0.83" stroke="#6a737d" stroke-opacity="0.9" stroke-width="0.8"/>
<circle cx="809.4" cy="537.7" r="5.0" fill="#1df3f3" fill-opacity="0.83" stroke="#6a737d" stroke-opacity="0.9" stroke-width="0.8"/>
<circle cx="798.9" cy="539" r="5.0" fill="#1df3f3" fill-opacity="0.83" stroke="#6a737d" stroke-opacity="0.9" stroke-width="0.8"/>
<circle cx="820.5" cy="513" r="5.0" fill="#1df3f3" fill-opacity="0.83" stroke="#6a737d" stroke-opacity="0.9" stroke-width="0.8"/>
<circle cx="789.6" cy="557.5" r="5.0" fill="#1df3f3" fill-opacity="0.83" stroke="#6a737d" stroke-opacity="0.9" stroke-width="0.8"/>
<circle cx="798.9" cy="561.8" r="5.0" fill="#1df3f3" fill-opacity="0.83" stroke="#6a737d" stroke-opacity="0.9" stroke-width="0.8"/>
<path d="M700.4 591.3L620 479.7M700.4 591.3L628.1 522.9M700.4 591.3L617.6 564.3M700.4 591.3L610.8 566.2M700.4 591.3L626.2 573M700.4 591.3L633.6 571.7M700.4 591.3L640.4 566.8M700.4 591.3L642.9 571.7M700.4 591.3L772.9 547.6M700.4 591.3L730.9 574.8M700.4 591.3L728.4 581M700.4 591.3L729 588.4M700.4 591.3L761.8 587.2M700.4 591.3L729.3 575.9M700.4 591.3L729.3 587.8M700.4 591.3L727.3 670.3M700.4 591.3L705.1 682.7M700.4 591.3L713.5 683.7" stroke="#7a7a7a" stroke-width="0.65" opacity="0.5" fill="none"/>
<path d="M695.5 591.1L685.5 482.1M695.5 591.1L584.8 496.3M695.5 591.1L595.3 502.5M695.5 591.1L577.4 507.5M695.5 591.1L579.9 520.4M695.5 591.1L600.9 530.3M695.5 591.1L600.3 532.8M695.5 591.1L672.6 564.3M695.5 591.1L782.8 566.2M695.5 591.1L754.4 592.1M695.5 591.1L755 592.2M695.5 591.1L745.6 609M695.5 591.1L746.6 623.4M695.5 591.1L684.8 676.8M695.5 591.1L696.7 683.7" stroke="#f5cc33" stroke-width="0.65" opacity="0.5" fill="none"/>
<path d="M720.4 590.3L669.5 513.6M720.4 590.3L679.4 510.5M720.4 590.3L662.7 538.3M720.4 590.3L675 548.9M720.4 590.3L683.7 558.1M720.4 590.3L649.7 556.3M720.4 590.3L659.6 566.2M720.4 590.3L670.7 568.6M720.4 590.3L777.2 547.6M720.4 590.3L777.2 553.8M720.4 590.3L795.8 552.6M720.4 590.3L811.8 545.1M720.4 590.3L801.3 564.3M720.4 590.3L795.8 570.5M720.4 590.3L731.8 620.9M720.4 590.3L753.5 619.4M720.4 590.3L761.4 614.5M720.4 590.3L687.8 642.7M720.4 590.3L695.7 651.5M720.4 590.3L693.7 672.8M720.4 590.3L702.6 671.8M720.4 590.3L704.1 676.3M720.4 590.3L717 673.8" stroke="#e83aa8" stroke-width="0.65" opacity="0.5" fill="none"/>
<path d="M700.4 600.8L620.7 520.4M700.4 600.8L606.5 535.9M700.4 600.8L607.7 559.4M700.4 600.8L622.5 556.3M700.4 600.8L634.3 561.2M700.4 600.8L612 571.7M700.4 600.8L627.5 584.7M700.4 600.8L782.2 547M700.4 600.8L747 590.2M700.4 600.8L751.3 596.4M700.4 600.8L778.5 594.6M700.4 600.8L761.4 608.5M700.4 600.8L740.2 615.5M700.4 600.8L739.7 620.4M700.4 600.8L678.9 673.3M700.4 600.8L695.2 679.7M700.4 600.8L697.7 678.7M700.4 600.8L709.5 673.8M700.4 600.8L712.5 678.2M700.4 600.8L719.4 680.7" stroke="#33dd55" stroke-width="0.65" opacity="0.5" fill="none"/>
<path d="M768 531.3L707.2 461.1M768 531.3L714.6 471.6M768 531.3L729.7 467.9M768 531.3L733.4 479.7M768 531.3L735.8 490.2M768 531.3L746.7 488.9M768 531.3L751.9 519.8M768 531.3L793.9 518.6M768 531.3L800.1 516.7M768 531.3L799.5 526M768 531.3L809.4 529.1M768 531.3L792.7 536.5M768 531.3L801.3 543.9M768 531.3L770.4 571.1M768 531.3L776.6 578.5M768 531.3L769.2 579.1M768 531.3L780.3 577.3M768 531.3L764.3 587.2M768 531.3L776.6 584.7M768 531.3L768 574M768 531.3L775 570M768 531.3L783 583M768 531.3L771 590M768 531.3L760 578" stroke="#3d8fe8" stroke-width="0.65" opacity="0.5" fill="none"/>
<path d="M760.5 532.2L695.4 495.1M760.5 532.2L708.4 510.5M760.5 532.2L718.9 505M760.5 532.2L720.4 466.1M760.5 532.2L727.4 498.2M760.5 532.2L718.5 505M760.5 532.2L726.6 513.6M760.5 532.2L726.9 525.4M760.5 532.2L762.4 524.8M760.5 532.2L760.5 535.9M760.5 532.2L752.9 540.8M760.5 532.2L743.9 549.5M760.5 532.2L747.6 553.2M760.5 532.2L767.3 555M760.5 532.2L764.9 558.1M760.5 532.2L811.8 530.3M760.5 532.2L809.4 537.7M760.5 532.2L798.9 539M760.5 532.2L820.5 513M760.5 532.2L789.6 557.5M760.5 532.2L798.9 561.8" stroke="#00e0ee" stroke-width="0.65" opacity="0.5" fill="none"/>
<ellipse cx="700.25" cy="591.35" rx="156.55" ry="117.59" transform="rotate(44.55 700.25 591.35)" fill="none" stroke="#7a7a7a" stroke-width="0.95" stroke-dasharray="3,2.2"/>
<ellipse cx="696.0" cy="591.05" rx="202.13" ry="121.79" transform="rotate(40.85 696.0 591.05)" fill="none" stroke="#f5cc33" stroke-width="0.95" stroke-dasharray="3,2.2"/>
<ellipse cx="721.0" cy="589.65" rx="134.97" ry="122.83" transform="rotate(-56.28 721.0 589.65)" fill="none" stroke="#e83aa8" stroke-width="0.95" stroke-dasharray="3,2.2"/>
<ellipse cx="700.1" cy="600.1" rx="171.2" ry="108.97" transform="rotate(27.73 700.1 600.1)" fill="none" stroke="#33dd55" stroke-width="0.95" stroke-dasharray="3,2.2"/>
<ellipse cx="768.75" cy="530.8" rx="115.6" ry="51.9" transform="rotate(58.71 768.75 530.8)" fill="none" stroke="#3d8fe8" stroke-width="0.95" stroke-dasharray="3,2.2"/>
<ellipse cx="760.6" cy="532.2" rx="96.46" ry="48.42" transform="rotate(26.66 760.6 532.2)" fill="none" stroke="#00e0ee" stroke-width="0.95" stroke-dasharray="3,2.2"/>
<circle cx="700.4" cy="591.3" r="1.6" fill="#505050"/>
<circle cx="695.5" cy="591.1" r="1.6" fill="#505050"/>
<circle cx="720.4" cy="590.3" r="1.6" fill="#505050"/>
<circle cx="700.4" cy="600.8" r="1.6" fill="#505050"/>
<circle cx="768" cy="531.3" r="1.6" fill="#505050"/>
<circle cx="760.5" cy="532.2" r="1.6" fill="#505050"/>
<line x1="506.5" y1="413.2" x2="506.5" y2="768.4" stroke="#777" stroke-width="1.1"/>
<line x1="506.0" y1="768.4" x2="884.6" y2="768.4" stroke="#111" stroke-width="1.3"/>
<line x1="578.7" y1="768.4" x2="578.7" y2="771.0" stroke="#333" stroke-width="1"/>
<text x="578.7" y="781.0" font-size="13.3" text-anchor="middle" font-weight="normal" fill="#4d4d4d" >−0.4</text>
<line x1="651.5" y1="768.4" x2="651.5" y2="771.0" stroke="#333" stroke-width="1"/>
<text x="651.5" y="781.0" font-size="13.3" text-anchor="middle" font-weight="normal" fill="#4d4d4d" >−0.2</text>
<line x1="724.3" y1="768.4" x2="724.3" y2="771.0" stroke="#333" stroke-width="1"/>
<text x="724.3" y="781.0" font-size="13.3" text-anchor="middle" font-weight="normal" fill="#4d4d4d" >0.0</text>
<line x1="797.1" y1="768.4" x2="797.1" y2="771.0" stroke="#333" stroke-width="1"/>
<text x="797.1" y="781.0" font-size="13.3" text-anchor="middle" font-weight="normal" fill="#4d4d4d" >0.2</text>
<line x1="869.9" y1="768.4" x2="869.9" y2="771.0" stroke="#333" stroke-width="1"/>
<text x="869.9" y="781.0" font-size="13.3" text-anchor="middle" font-weight="normal" fill="#4d4d4d" >0.4</text>
<line x1="503.9" y1="735.3" x2="506.5" y2="735.3" stroke="#333" stroke-width="1"/>
<text x="502.2" y="739.8" font-size="13.3" text-anchor="end" font-weight="normal" fill="#4d4d4d" >−0.4</text>
<line x1="503.9" y1="653.8" x2="506.5" y2="653.8" stroke="#333" stroke-width="1"/>
<text x="502.2" y="658.3" font-size="13.3" text-anchor="end" font-weight="normal" fill="#4d4d4d" >−0.2</text>
<line x1="503.9" y1="572.3" x2="506.5" y2="572.3" stroke="#333" stroke-width="1"/>
<text x="502.2" y="576.8" font-size="13.3" text-anchor="end" font-weight="normal" fill="#4d4d4d" >0.0</text>
<line x1="503.9" y1="490.8" x2="506.5" y2="490.8" stroke="#333" stroke-width="1"/>
<text x="502.2" y="495.3" font-size="13.3" text-anchor="end" font-weight="normal" fill="#4d4d4d" >0.2</text>
<text x="714.2" y="797.3" font-size="15.1" text-anchor="middle" font-weight="normal" fill="#000" >PCoA_1 (15.69%)</text>
<text transform="translate(480.6,572.0) rotate(-90)" font-size="15.1" text-anchor="middle">PCoA<tspan fill="#c8c8c8">_</tspan>2 (11.54%)</text>
<text x="454.8" y="429.7" font-size="20.5" text-anchor="start" font-weight="bold" fill="#000" >(E)</text>
<line x1="329.2" y1="824.9" x2="329.2" y2="1181.0" stroke="#707070" stroke-width="0.9" stroke-dasharray="1.1,2.3"/>
<line x1="59.5" y1="988.4" x2="425.7" y2="988.4" stroke="#707070" stroke-width="0.9" stroke-dasharray="1.1,2.3"/>
<circle cx="171.3" cy="966" r="5.0" fill="#ffd700" fill-opacity="0.83" stroke="#6a737d" stroke-opacity="0.9" stroke-width="0.8"/>
<circle cx="189.5" cy="957" r="5.0" fill="#ffd700" fill-opacity="0.83" stroke="#6a737d" stroke-opacity="0.9" stroke-width="0.8"/>
<circle cx="177.2" cy="930.6" r="5.0" fill="#ffd700" fill-opacity="0.83" stroke="#6a737d" stroke-opacity="0.9" stroke-width="0.8"/>
<circle cx="184.6" cy="927.7" r="5.0" fill="#ffd700" fill-opacity="0.83" stroke="#6a737d" stroke-opacity="0.9" stroke-width="0.8"/>
<circle cx="190.4" cy="928.5" r="5.0" fill="#ffd700" fill-opacity="0.83" stroke="#6a737d" stroke-opacity="0.9" stroke-width="0.8"/>
<circle cx="192" cy="932.2" r="5.0" fill="#ffd700" fill-opacity="0.83" stroke="#6a737d" stroke-opacity="0.9" stroke-width="0.8"/>
<circle cx="172.2" cy="940.1" r="5.0" fill="#ffd700" fill-opacity="0.83" stroke="#6a737d" stroke-opacity="0.9" stroke-width="0.8"/>
<circle cx="181.3" cy="937.2" r="5.0" fill="#ffd700" fill-opacity="0.83" stroke="#6a737d" stroke-opacity="0.9" stroke-width="0.8"/>
<circle cx="182.1" cy="943" r="5.0" fill="#ffd700" fill-opacity="0.83" stroke="#6a737d" stroke-opacity="0.9" stroke-width="0.8"/>
<circle cx="193.2" cy="938.8" r="5.0" fill="#ffd700" fill-opacity="0.83" stroke="#6a737d" stroke-opacity="0.9" stroke-width="0.8"/>
<circle cx="194.9" cy="944.2" r="5.0" fill="#ffd700" fill-opacity="0.83" stroke="#6a737d" stroke-opacity="0.9" stroke-width="0.8"/>
<circle cx="178" cy="948.7" r="5.0" fill="#ffd700" fill-opacity="0.83" stroke="#6a737d" stroke-opacity="0.9" stroke-width="0.8"/>
<circle cx="186.2" cy="943" r="5.0" fill="#ffd700" fill-opacity="0.83" stroke="#6a737d" stroke-opacity="0.9" stroke-width="0.8"/>
<circle cx="174.7" cy="933.9" r="5.0" fill="#ffd700" fill-opacity="0.83" stroke="#6a737d" stroke-opacity="0.9" stroke-width="0.8"/>
<circle cx="186.8" cy="1035.2" r="5.0" fill="#ffd700" fill-opacity="0.83" stroke="#6a737d" stroke-opacity="0.9" stroke-width="0.8"/>
<circle cx="210.9" cy="1056.9" r="5.0" fill="#ffd700" fill-opacity="0.83" stroke="#6a737d" stroke-opacity="0.9" stroke-width="0.8"/>
<circle cx="206.2" cy="1060.9" r="5.0" fill="#ffd700" fill-opacity="0.83" stroke="#6a737d" stroke-opacity="0.9" stroke-width="0.8"/>
<circle cx="204.6" cy="1077.7" r="5.0" fill="#ffd700" fill-opacity="0.83" stroke="#6a737d" stroke-opacity="0.9" stroke-width="0.8"/>
<circle cx="206.6" cy="1085.2" r="5.0" fill="#ffd700" fill-opacity="0.83" stroke="#6a737d" stroke-opacity="0.9" stroke-width="0.8"/>
<circle cx="218.4" cy="1073.7" r="5.0" fill="#ffd700" fill-opacity="0.83" stroke="#6a737d" stroke-opacity="0.9" stroke-width="0.8"/>
<circle cx="226.3" cy="1072.1" r="5.0" fill="#ffd700" fill-opacity="0.83" stroke="#6a737d" stroke-opacity="0.9" stroke-width="0.8"/>
<circle cx="229.6" cy="1076" r="5.0" fill="#ffd700" fill-opacity="0.83" stroke="#6a737d" stroke-opacity="0.9" stroke-width="0.8"/>
<circle cx="220.7" cy="1080.3" r="5.0" fill="#ffd700" fill-opacity="0.83" stroke="#6a737d" stroke-opacity="0.9" stroke-width="0.8"/>
<circle cx="224.7" cy="1084.2" r="5.0" fill="#ffd700" fill-opacity="0.83" stroke="#6a737d" stroke-opacity="0.9" stroke-width="0.8"/>
<circle cx="220.7" cy="1087.9" r="5.0" fill="#ffd700" fill-opacity="0.83" stroke="#6a737d" stroke-opacity="0.9" stroke-width="0.8"/>
<circle cx="224.7" cy="1091.2" r="5.0" fill="#ffd700" fill-opacity="0.83" stroke="#6a737d" stroke-opacity="0.9" stroke-width="0.8"/>
<circle cx="238.9" cy="1086.9" r="5.0" fill="#ffd700" fill-opacity="0.83" stroke="#6a737d" stroke-opacity="0.9" stroke-width="0.8"/>
<circle cx="349.7" cy="1033.7" r="5.0" fill="#ffd700" fill-opacity="0.83" stroke="#6a737d" stroke-opacity="0.9" stroke-width="0.8"/>
<circle cx="350.4" cy="1036.2" r="5.0" fill="#ffd700" fill-opacity="0.83" stroke="#6a737d" stroke-opacity="0.9" stroke-width="0.8"/>
<circle cx="352.4" cy="1045.1" r="5.0" fill="#ffd700" fill-opacity="0.83" stroke="#6a737d" stroke-opacity="0.9" stroke-width="0.8"/>
<circle cx="347.9" cy="1048.1" r="5.0" fill="#ffd700" fill-opacity="0.83" stroke="#6a737d" stroke-opacity="0.9" stroke-width="0.8"/>
<circle cx="338.5" cy="1048.6" r="5.0" fill="#ffd700" fill-opacity="0.83" stroke="#6a737d" stroke-opacity="0.9" stroke-width="0.8"/>
<circle cx="338" cy="1057.2" r="5.0" fill="#ffd700" fill-opacity="0.83" stroke="#6a737d" stroke-opacity="0.9" stroke-width="0.8"/>
<circle cx="356.1" cy="1058.2" r="5.0" fill="#ffd700" fill-opacity="0.83" stroke="#6a737d" stroke-opacity="0.9" stroke-width="0.8"/>
<circle cx="357.3" cy="1060.9" r="5.0" fill="#ffd700" fill-opacity="0.83" stroke="#6a737d" stroke-opacity="0.9" stroke-width="0.8"/>
<circle cx="359.1" cy="955.4" r="5.0" fill="#f837b3" fill-opacity="0.83" stroke="#6a737d" stroke-opacity="0.9" stroke-width="0.8"/>
<circle cx="363.7" cy="957.3" r="5.0" fill="#f837b3" fill-opacity="0.83" stroke="#6a737d" stroke-opacity="0.9" stroke-width="0.8"/>
<circle cx="359.8" cy="960.6" r="5.0" fill="#f837b3" fill-opacity="0.83" stroke="#6a737d" stroke-opacity="0.9" stroke-width="0.8"/>
<circle cx="358.5" cy="967.2" r="5.0" fill="#f837b3" fill-opacity="0.83" stroke="#6a737d" stroke-opacity="0.9" stroke-width="0.8"/>
<circle cx="361.7" cy="969.9" r="5.0" fill="#f837b3" fill-opacity="0.83" stroke="#6a737d" stroke-opacity="0.9" stroke-width="0.8"/>
<circle cx="366.4" cy="963.3" r="5.0" fill="#f837b3" fill-opacity="0.83" stroke="#6a737d" stroke-opacity="0.9" stroke-width="0.8"/>
<circle cx="370.3" cy="963.3" r="5.0" fill="#f837b3" fill-opacity="0.83" stroke="#6a737d" stroke-opacity="0.9" stroke-width="0.8"/>
<circle cx="373" cy="965.9" r="5.0" fill="#f837b3" fill-opacity="0.83" stroke="#6a737d" stroke-opacity="0.9" stroke-width="0.8"/>
<circle cx="371.6" cy="975.1" r="5.0" fill="#f837b3" fill-opacity="0.83" stroke="#6a737d" stroke-opacity="0.9" stroke-width="0.8"/>
<circle cx="373" cy="990" r="5.0" fill="#f837b3" fill-opacity="0.83" stroke="#6a737d" stroke-opacity="0.9" stroke-width="0.8"/>
<circle cx="376.2" cy="999.5" r="5.0" fill="#f837b3" fill-opacity="0.83" stroke="#6a737d" stroke-opacity="0.9" stroke-width="0.8"/>
<circle cx="373.6" cy="1008.8" r="5.0" fill="#f837b3" fill-opacity="0.83" stroke="#6a737d" stroke-opacity="0.9" stroke-width="0.8"/>
<circle cx="373.6" cy="1017.3" r="5.0" fill="#f837b3" fill-opacity="0.83" stroke="#6a737d" stroke-opacity="0.9" stroke-width="0.8"/>
<circle cx="376.9" cy="1025.2" r="5.0" fill="#f837b3" fill-opacity="0.83" stroke="#6a737d" stroke-opacity="0.9" stroke-width="0.8"/>
<circle cx="381.5" cy="1025.2" r="5.0" fill="#f837b3" fill-opacity="0.83" stroke="#6a737d" stroke-opacity="0.9" stroke-width="0.8"/>
<circle cx="386.1" cy="1022.6" r="5.0" fill="#f837b3" fill-opacity="0.83" stroke="#6a737d" stroke-opacity="0.9" stroke-width="0.8"/>
<circle cx="390.1" cy="1021.3" r="5.0" fill="#f837b3" fill-opacity="0.83" stroke="#6a737d" stroke-opacity="0.9" stroke-width="0.8"/>
<circle cx="393.4" cy="985.7" r="5.0" fill="#f837b3" fill-opacity="0.83" stroke="#6a737d" stroke-opacity="0.9" stroke-width="0.8"/>
<circle cx="382.2" cy="1008.1" r="5.0" fill="#f837b3" fill-opacity="0.83" stroke="#6a737d" stroke-opacity="0.9" stroke-width="0.8"/>
<circle cx="366" cy="975" r="5.0" fill="#f837b3" fill-opacity="0.83" stroke="#6a737d" stroke-opacity="0.9" stroke-width="0.8"/>
<circle cx="378" cy="1016" r="5.0" fill="#f837b3" fill-opacity="0.83" stroke="#6a737d" stroke-opacity="0.9" stroke-width="0.8"/>
<circle cx="356" cy="963" r="5.0" fill="#f837b3" fill-opacity="0.83" stroke="#6a737d" stroke-opacity="0.9" stroke-width="0.8"/>
<circle cx="363" cy="951" r="5.0" fill="#f837b3" fill-opacity="0.83" stroke="#6a737d" stroke-opacity="0.9" stroke-width="0.8"/>
<circle cx="368" cy="1030" r="5.0" fill="#f837b3" fill-opacity="0.83" stroke="#6a737d" stroke-opacity="0.9" stroke-width="0.8"/>
<circle cx="372" cy="1000" r="5.0" fill="#f837b3" fill-opacity="0.83" stroke="#6a737d" stroke-opacity="0.9" stroke-width="0.8"/>
<circle cx="385" cy="1030" r="5.0" fill="#f837b3" fill-opacity="0.83" stroke="#6a737d" stroke-opacity="0.9" stroke-width="0.8"/>
<circle cx="380.2" cy="938.9" r="5.0" fill="#ff8000" fill-opacity="0.83" stroke="#6a737d" stroke-opacity="0.9" stroke-width="0.8"/>
<circle cx="388.8" cy="939.5" r="5.0" fill="#ff8000" fill-opacity="0.83" stroke="#6a737d" stroke-opacity="0.9" stroke-width="0.8"/>
<circle cx="370.6" cy="944.8" r="5.0" fill="#ff8000" fill-opacity="0.83" stroke="#6a737d" stroke-opacity="0.9" stroke-width="0.8"/>
<circle cx="374.3" cy="945.5" r="5.0" fill="#ff8000" fill-opacity="0.83" stroke="#6a737d" stroke-opacity="0.9" stroke-width="0.8"/>
<circle cx="381.5" cy="946.1" r="5.0" fill="#ff8000" fill-opacity="0.83" stroke="#6a737d" stroke-opacity="0.9" stroke-width="0.8"/>
<circle cx="386.5" cy="947.4" r="5.0" fill="#ff8000" fill-opacity="0.83" stroke="#6a737d" stroke-opacity="0.9" stroke-width="0.8"/>
<circle cx="392.1" cy="948.1" r="5.0" fill="#ff8000" fill-opacity="0.83" stroke="#6a737d" stroke-opacity="0.9" stroke-width="0.8"/>
<circle cx="374.9" cy="954" r="5.0" fill="#ff8000" fill-opacity="0.83" stroke="#6a737d" stroke-opacity="0.9" stroke-width="0.8"/>
<circle cx="382.2" cy="953.4" r="5.0" fill="#ff8000" fill-opacity="0.83" stroke="#6a737d" stroke-opacity="0.9" stroke-width="0.8"/>
<circle cx="391.4" cy="954.7" r="5.0" fill="#ff8000" fill-opacity="0.83" stroke="#6a737d" stroke-opacity="0.9" stroke-width="0.8"/>
<circle cx="400" cy="958" r="5.0" fill="#ff8000" fill-opacity="0.83" stroke="#6a737d" stroke-opacity="0.9" stroke-width="0.8"/>
<circle cx="376.9" cy="958" r="5.0" fill="#ff8000" fill-opacity="0.83" stroke="#6a737d" stroke-opacity="0.9" stroke-width="0.8"/>
<circle cx="392.1" cy="963.6" r="5.0" fill="#ff8000" fill-opacity="0.83" stroke="#6a737d" stroke-opacity="0.9" stroke-width="0.8"/>
<circle cx="380.9" cy="970.5" r="5.0" fill="#ff8000" fill-opacity="0.83" stroke="#6a737d" stroke-opacity="0.9" stroke-width="0.8"/>
<circle cx="388.1" cy="971.2" r="5.0" fill="#ff8000" fill-opacity="0.83" stroke="#6a737d" stroke-opacity="0.9" stroke-width="0.8"/>
<circle cx="388.8" cy="977.8" r="5.0" fill="#ff8000" fill-opacity="0.83" stroke="#6a737d" stroke-opacity="0.9" stroke-width="0.8"/>
<circle cx="386.1" cy="983.7" r="5.0" fill="#ff8000" fill-opacity="0.83" stroke="#6a737d" stroke-opacity="0.9" stroke-width="0.8"/>
<circle cx="391.4" cy="985" r="5.0" fill="#ff8000" fill-opacity="0.83" stroke="#6a737d" stroke-opacity="0.9" stroke-width="0.8"/>
<circle cx="388.1" cy="993" r="5.0" fill="#ff8000" fill-opacity="0.83" stroke="#6a737d" stroke-opacity="0.9" stroke-width="0.8"/>
<circle cx="382.8" cy="1003.5" r="5.0" fill="#ff8000" fill-opacity="0.83" stroke="#6a737d" stroke-opacity="0.9" stroke-width="0.8"/>
<circle cx="399.3" cy="995.6" r="5.0" fill="#ff8000" fill-opacity="0.83" stroke="#6a737d" stroke-opacity="0.9" stroke-width="0.8"/>
<circle cx="404.6" cy="994.9" r="5.0" fill="#ff8000" fill-opacity="0.83" stroke="#6a737d" stroke-opacity="0.9" stroke-width="0.8"/>
<circle cx="406.6" cy="1003.5" r="5.0" fill="#ff8000" fill-opacity="0.83" stroke="#6a737d" stroke-opacity="0.9" stroke-width="0.8"/>
<circle cx="392.1" cy="1003.5" r="5.0" fill="#ff8000" fill-opacity="0.83" stroke="#6a737d" stroke-opacity="0.9" stroke-width="0.8"/>
<circle cx="395.4" cy="1009.4" r="5.0" fill="#ff8000" fill-opacity="0.83" stroke="#6a737d" stroke-opacity="0.9" stroke-width="0.8"/>
<circle cx="400" cy="1014.7" r="5.0" fill="#ff8000" fill-opacity="0.83" stroke="#6a737d" stroke-opacity="0.9" stroke-width="0.8"/>
<circle cx="390.7" cy="1011.4" r="5.0" fill="#ff8000" fill-opacity="0.83" stroke="#6a737d" stroke-opacity="0.9" stroke-width="0.8"/>
<circle cx="383" cy="950" r="5.0" fill="#ff8000" fill-opacity="0.83" stroke="#6a737d" stroke-opacity="0.9" stroke-width="0.8"/>
<circle cx="378" cy="943" r="5.0" fill="#ff8000" fill-opacity="0.83" stroke="#6a737d" stroke-opacity="0.9" stroke-width="0.8"/>
<circle cx="394" cy="943" r="5.0" fill="#ff8000" fill-opacity="0.83" stroke="#6a737d" stroke-opacity="0.9" stroke-width="0.8"/>
<circle cx="376" cy="959" r="5.0" fill="#ff8000" fill-opacity="0.83" stroke="#6a737d" stroke-opacity="0.9" stroke-width="0.8"/>
<circle cx="387" cy="960" r="5.0" fill="#ff8000" fill-opacity="0.83" stroke="#6a737d" stroke-opacity="0.9" stroke-width="0.8"/>
<circle cx="397" cy="951" r="5.0" fill="#ff8000" fill-opacity="0.83" stroke="#6a737d" stroke-opacity="0.9" stroke-width="0.8"/>
<circle cx="385" cy="1000" r="5.0" fill="#ff8000" fill-opacity="0.83" stroke="#6a737d" stroke-opacity="0.9" stroke-width="0.8"/>
<circle cx="396" cy="1018" r="5.0" fill="#ff8000" fill-opacity="0.83" stroke="#6a737d" stroke-opacity="0.9" stroke-width="0.8"/>
<circle cx="403" cy="1008" r="5.0" fill="#ff8000" fill-opacity="0.83" stroke="#6a737d" stroke-opacity="0.9" stroke-width="0.8"/>
<path d="M222.1 1002.7L171.3 966M222.1 1002.7L189.5 957M222.1 1002.7L177.2 930.6M222.1 1002.7L184.6 927.7M222.1 1002.7L190.4 928.5M222.1 1002.7L192 932.2M222.1 1002.7L172.2 940.1M222.1 1002.7L181.3 937.2M222.1 1002.7L182.1 943M222.1 1002.7L193.2 938.8M222.1 1002.7L194.9 944.2M222.1 1002.7L178 948.7M222.1 1002.7L186.2 943M222.1 1002.7L174.7 933.9M222.1 1002.7L186.8 1035.2M222.1 1002.7L210.9 1056.9M222.1 1002.7L206.2 1060.9M222.1 1002.7L204.6 1077.7M222.1 1002.7L206.6 1085.2M222.1 1002.7L218.4 1073.7M222.1 1002.7L226.3 1072.1M222.1 1002.7L229.6 1076M222.1 1002.7L220.7 1080.3M222.1 1002.7L224.7 1084.2M222.1 1002.7L220.7 1087.9M222.1 1002.7L224.7 1091.2M222.1 1002.7L238.9 1086.9M222.1 1002.7L349.7 1033.7M222.1 1002.7L350.4 1036.2M222.1 1002.7L352.4 1045.1M222.1 1002.7L347.9 1048.1M222.1 1002.7L338.5 1048.6M222.1 1002.7L338 1057.2M222.1 1002.7L356.1 1058.2M222.1 1002.7L357.3 1060.9" stroke="#ffd000" stroke-width="0.65" opacity="0.5" fill="none"/>
<path d="M378.5 990L359.1 955.4M378.5 990L363.7 957.3M378.5 990L359.8 960.6M378.5 990L358.5 967.2M378.5 990L361.7 969.9M378.5 990L366.4 963.3M378.5 990L370.3 963.3M378.5 990L373 965.9M378.5 990L371.6 975.1M378.5 990L373 990M378.5 990L376.2 999.5M378.5 990L373.6 1008.8M378.5 990L373.6 1017.3M378.5 990L376.9 1025.2M378.5 990L381.5 1025.2M378.5 990L386.1 1022.6M378.5 990L390.1 1021.3M378.5 990L393.4 985.7M378.5 990L382.2 1008.1M378.5 990L366 975M378.5 990L378 1016M378.5 990L356 963M378.5 990L363 951M378.5 990L368 1030M378.5 990L372 1000M378.5 990L385 1030" stroke="#f235b5" stroke-width="0.65" opacity="0.5" fill="none"/>
<path d="M387.8 972.2L380.2 938.9M387.8 972.2L388.8 939.5M387.8 972.2L370.6 944.8M387.8 972.2L374.3 945.5M387.8 972.2L381.5 946.1M387.8 972.2L386.5 947.4M387.8 972.2L392.1 948.1M387.8 972.2L374.9 954M387.8 972.2L382.2 953.4M387.8 972.2L391.4 954.7M387.8 972.2L400 958M387.8 972.2L376.9 958M387.8 972.2L392.1 963.6M387.8 972.2L380.9 970.5M387.8 972.2L388.1 971.2M387.8 972.2L388.8 977.8M387.8 972.2L386.1 983.7M387.8 972.2L391.4 985M387.8 972.2L388.1 993M387.8 972.2L382.8 1003.5M387.8 972.2L399.3 995.6M387.8 972.2L404.6 994.9M387.8 972.2L406.6 1003.5M387.8 972.2L392.1 1003.5M387.8 972.2L395.4 1009.4M387.8 972.2L400 1014.7M387.8 972.2L390.7 1011.4M387.8 972.2L383 950M387.8 972.2L378 943M387.8 972.2L394 943M387.8 972.2L376 959M387.8 972.2L387 960M387.8 972.2L397 951M387.8 972.2L385 1000M387.8 972.2L396 1018M387.8 972.2L403 1008" stroke="#ff7a00" stroke-width="0.65" opacity="0.5" fill="none"/>
<ellipse cx="221.55" cy="1002.8" rx="192.05" ry="105.73" transform="rotate(50.4 221.55 1002.8)" fill="none" stroke="#ffd000" stroke-width="0.95" stroke-dasharray="3,2.2"/>
<ellipse cx="378.5" cy="989.65" rx="58.73" ry="18.53" transform="rotate(69.37 378.5 989.65)" fill="none" stroke="#f235b5" stroke-width="0.95" stroke-dasharray="3,2.2"/>
<ellipse cx="387.5" cy="972.25" rx="62.43" ry="18.4" transform="rotate(78.34 387.5 972.25)" fill="none" stroke="#ff7a00" stroke-width="0.95" stroke-dasharray="3,2.2"/>
<circle cx="222.1" cy="1002.7" r="1.6" fill="#505050"/>
<circle cx="378.5" cy="990" r="1.6" fill="#505050"/>
<circle cx="387.8" cy="972.2" r="1.6" fill="#505050"/>
<line x1="59.5" y1="824.9" x2="59.5" y2="1181.0" stroke="#aaa" stroke-width="1.1"/>
<line x1="59.0" y1="1181.0" x2="425.7" y2="1181.0" stroke="#111" stroke-width="1.3"/>
<line x1="76.9" y1="1181.0" x2="76.9" y2="1183.6" stroke="#333" stroke-width="1"/>
<text x="76.9" y="1193.3" font-size="13.0" text-anchor="middle" font-weight="normal" fill="#4d4d4d" >−0.6</text>
<line x1="161.0" y1="1181.0" x2="161.0" y2="1183.6" stroke="#333" stroke-width="1"/>
<text x="161.0" y="1193.3" font-size="13.0" text-anchor="middle" font-weight="normal" fill="#4d4d4d" >−0.4</text>
<line x1="245.1" y1="1181.0" x2="245.1" y2="1183.6" stroke="#333" stroke-width="1"/>
<text x="245.1" y="1193.3" font-size="13.0" text-anchor="middle" font-weight="normal" fill="#4d4d4d" >−0.2</text>
<line x1="329.2" y1="1181.0" x2="329.2" y2="1183.6" stroke="#333" stroke-width="1"/>
<text x="329.2" y="1193.3" font-size="13.0" text-anchor="middle" font-weight="normal" fill="#4d4d4d" >0.0</text>
<line x1="413.3" y1="1181.0" x2="413.3" y2="1183.6" stroke="#333" stroke-width="1"/>
<text x="413.3" y="1193.3" font-size="13.0" text-anchor="middle" font-weight="normal" fill="#4d4d4d" >0.2</text>
<line x1="56.9" y1="1172.4" x2="59.5" y2="1172.4" stroke="#333" stroke-width="1"/>
<text x="55.2" y="1176.8" font-size="13.0" text-anchor="end" font-weight="normal" fill="#4d4d4d" >−0.50</text>
<line x1="56.9" y1="1080.4" x2="59.5" y2="1080.4" stroke="#333" stroke-width="1"/>
<text x="55.2" y="1084.8" font-size="13.0" text-anchor="end" font-weight="normal" fill="#4d4d4d" >−0.25</text>
<line x1="56.9" y1="988.4" x2="59.5" y2="988.4" stroke="#333" stroke-width="1"/>
<text x="55.2" y="992.8" font-size="13.0" text-anchor="end" font-weight="normal" fill="#4d4d4d" >0.00</text>
<line x1="56.9" y1="896.4" x2="59.5" y2="896.4" stroke="#333" stroke-width="1"/>
<text x="55.2" y="900.8" font-size="13.0" text-anchor="end" font-weight="normal" fill="#4d4d4d" >0.25</text>
<text x="261.2" y="1209.4" font-size="15.1" text-anchor="middle" font-weight="normal" fill="#000" >PCoA_1 (27.81%)</text>
<text transform="translate(27.0,984.0) rotate(-90)" font-size="15.1" text-anchor="middle">PCoA<tspan fill="#c8c8c8">_</tspan>2 (10.07%)</text>
<text x="1.6" y="838.7" font-size="20.5" text-anchor="start" font-weight="bold" fill="#000" >(G)</text>
<line x1="705.5" y1="824.9" x2="705.5" y2="1180.4" stroke="#707070" stroke-width="0.9" stroke-dasharray="1.1,2.3"/>
<line x1="506.7" y1="997.0" x2="884.6" y2="997.0" stroke="#707070" stroke-width="0.9" stroke-dasharray="1.1,2.3"/>
<circle cx="591.7" cy="946.1" r="5.05" fill="#9b9b9b" fill-opacity="0.83" stroke="#6a737d" stroke-opacity="0.9" stroke-width="0.8"/>
<circle cx="589.1" cy="940.9" r="5.05" fill="#9b9b9b" fill-opacity="0.83" stroke="#6a737d" stroke-opacity="0.9" stroke-width="0.8"/>
<circle cx="605.6" cy="922.4" r="5.05" fill="#9b9b9b" fill-opacity="0.83" stroke="#6a737d" stroke-opacity="0.9" stroke-width="0.8"/>
<circle cx="743.7" cy="934.4" r="5.05" fill="#9b9b9b" fill-opacity="0.83" stroke="#6a737d" stroke-opacity="0.9" stroke-width="0.8"/>
<circle cx="750.2" cy="935.7" r="5.05" fill="#9b9b9b" fill-opacity="0.83" stroke="#6a737d" stroke-opacity="0.9" stroke-width="0.8"/>
<circle cx="752.3" cy="965.3" r="5.05" fill="#9b9b9b" fill-opacity="0.83" stroke="#6a737d" stroke-opacity="0.9" stroke-width="0.8"/>
<circle cx="727.2" cy="954.6" r="5.05" fill="#9b9b9b" fill-opacity="0.83" stroke="#6a737d" stroke-opacity="0.9" stroke-width="0.8"/>
<circle cx="724.7" cy="968.6" r="5.05" fill="#9b9b9b" fill-opacity="0.83" stroke="#6a737d" stroke-opacity="0.9" stroke-width="0.8"/>
<circle cx="616.8" cy="1083.9" r="5.05" fill="#9b9b9b" fill-opacity="0.83" stroke="#6a737d" stroke-opacity="0.9" stroke-width="0.8"/>
<circle cx="622.3" cy="1122.9" r="5.05" fill="#9b9b9b" fill-opacity="0.83" stroke="#6a737d" stroke-opacity="0.9" stroke-width="0.8"/>
<circle cx="586.5" cy="935.6" r="5.05" fill="#f7d755" fill-opacity="0.83" stroke="#6a737d" stroke-opacity="0.9" stroke-width="0.8"/>
<circle cx="605.9" cy="941.5" r="5.05" fill="#f7d755" fill-opacity="0.83" stroke="#6a737d" stroke-opacity="0.9" stroke-width="0.8"/>
<circle cx="604.3" cy="920.4" r="5.05" fill="#f7d755" fill-opacity="0.83" stroke="#6a737d" stroke-opacity="0.9" stroke-width="0.8"/>
<circle cx="587.1" cy="968.5" r="5.05" fill="#f7d755" fill-opacity="0.83" stroke="#6a737d" stroke-opacity="0.9" stroke-width="0.8"/>
<circle cx="753.5" cy="944.7" r="5.05" fill="#f7d755" fill-opacity="0.83" stroke="#6a737d" stroke-opacity="0.9" stroke-width="0.8"/>
<circle cx="744.9" cy="965.7" r="5.05" fill="#f7d755" fill-opacity="0.83" stroke="#6a737d" stroke-opacity="0.9" stroke-width="0.8"/>
<circle cx="742.8" cy="972.7" r="5.05" fill="#f7d755" fill-opacity="0.83" stroke="#6a737d" stroke-opacity="0.9" stroke-width="0.8"/>
<circle cx="598.5" cy="1056.9" r="5.05" fill="#f7d755" fill-opacity="0.83" stroke="#6a737d" stroke-opacity="0.9" stroke-width="0.8"/>
<circle cx="613.1" cy="1090.3" r="5.05" fill="#f7d755" fill-opacity="0.83" stroke="#6a737d" stroke-opacity="0.9" stroke-width="0.8"/>
<circle cx="597" cy="919.8" r="5.05" fill="#4beb73" fill-opacity="0.83" stroke="#6a737d" stroke-opacity="0.9" stroke-width="0.8"/>
<circle cx="600.3" cy="920.4" r="5.05" fill="#4beb73" fill-opacity="0.83" stroke="#6a737d" stroke-opacity="0.9" stroke-width="0.8"/>
<circle cx="591.1" cy="925.7" r="5.05" fill="#4beb73" fill-opacity="0.83" stroke="#6a737d" stroke-opacity="0.9" stroke-width="0.8"/>
<circle cx="591.7" cy="933.6" r="5.05" fill="#4beb73" fill-opacity="0.83" stroke="#6a737d" stroke-opacity="0.9" stroke-width="0.8"/>
<circle cx="601" cy="957.3" r="5.05" fill="#4beb73" fill-opacity="0.83" stroke="#6a737d" stroke-opacity="0.9" stroke-width="0.8"/>
<circle cx="736.7" cy="942.2" r="5.05" fill="#4beb73" fill-opacity="0.83" stroke="#6a737d" stroke-opacity="0.9" stroke-width="0.8"/>
<circle cx="747" cy="945.5" r="5.05" fill="#4beb73" fill-opacity="0.83" stroke="#6a737d" stroke-opacity="0.9" stroke-width="0.8"/>
<circle cx="751.5" cy="952.5" r="5.05" fill="#4beb73" fill-opacity="0.83" stroke="#6a737d" stroke-opacity="0.9" stroke-width="0.8"/>
<circle cx="742" cy="957.9" r="5.05" fill="#4beb73" fill-opacity="0.83" stroke="#6a737d" stroke-opacity="0.9" stroke-width="0.8"/>
<circle cx="728" cy="962" r="5.05" fill="#4beb73" fill-opacity="0.83" stroke="#6a737d" stroke-opacity="0.9" stroke-width="0.8"/>
<circle cx="735.4" cy="967" r="5.05" fill="#4beb73" fill-opacity="0.83" stroke="#6a737d" stroke-opacity="0.9" stroke-width="0.8"/>
<circle cx="749" cy="976" r="5.05" fill="#4beb73" fill-opacity="0.83" stroke="#6a737d" stroke-opacity="0.9" stroke-width="0.8"/>
<circle cx="737.5" cy="981.8" r="5.05" fill="#4beb73" fill-opacity="0.83" stroke="#6a737d" stroke-opacity="0.9" stroke-width="0.8"/>
<circle cx="727.4" cy="961" r="5.05" fill="#4beb73" fill-opacity="0.83" stroke="#6a737d" stroke-opacity="0.9" stroke-width="0.8"/>
<circle cx="753.5" cy="994.1" r="5.05" fill="#4beb73" fill-opacity="0.83" stroke="#6a737d" stroke-opacity="0.9" stroke-width="0.8"/>
<circle cx="613.6" cy="1120.6" r="5.05" fill="#4beb73" fill-opacity="0.83" stroke="#6a737d" stroke-opacity="0.9" stroke-width="0.8"/>
<circle cx="601.6" cy="929" r="5.05" fill="#eb52b5" fill-opacity="0.83" stroke="#6a737d" stroke-opacity="0.9" stroke-width="0.8"/>
<circle cx="604.9" cy="933.6" r="5.05" fill="#eb52b5" fill-opacity="0.83" stroke="#6a737d" stroke-opacity="0.9" stroke-width="0.8"/>
<circle cx="596.4" cy="940.2" r="5.05" fill="#eb52b5" fill-opacity="0.83" stroke="#6a737d" stroke-opacity="0.9" stroke-width="0.8"/>
<circle cx="600.3" cy="939.5" r="5.05" fill="#eb52b5" fill-opacity="0.83" stroke="#6a737d" stroke-opacity="0.9" stroke-width="0.8"/>
<circle cx="758.9" cy="958.7" r="5.05" fill="#eb52b5" fill-opacity="0.83" stroke="#6a737d" stroke-opacity="0.9" stroke-width="0.8"/>
<circle cx="748.6" cy="959.5" r="5.05" fill="#eb52b5" fill-opacity="0.83" stroke="#6a737d" stroke-opacity="0.9" stroke-width="0.8"/>
<circle cx="729.2" cy="973.5" r="5.05" fill="#eb52b5" fill-opacity="0.83" stroke="#6a737d" stroke-opacity="0.9" stroke-width="0.8"/>
<circle cx="736.2" cy="973.5" r="5.05" fill="#eb52b5" fill-opacity="0.83" stroke="#6a737d" stroke-opacity="0.9" stroke-width="0.8"/>
<circle cx="738.3" cy="951.6" r="5.05" fill="#eb52b5" fill-opacity="0.83" stroke="#6a737d" stroke-opacity="0.9" stroke-width="0.8"/>
<circle cx="737.7" cy="998.6" r="5.05" fill="#eb52b5" fill-opacity="0.83" stroke="#6a737d" stroke-opacity="0.9" stroke-width="0.8"/>
<circle cx="612.2" cy="1110.7" r="5.05" fill="#eb52b5" fill-opacity="0.83" stroke="#6a737d" stroke-opacity="0.9" stroke-width="0.8"/>
<circle cx="627.5" cy="1126.9" r="5.05" fill="#eb52b5" fill-opacity="0.83" stroke="#6a737d" stroke-opacity="0.9" stroke-width="0.8"/>
<circle cx="748.6" cy="991.7" r="5.05" fill="#4695e9" fill-opacity="0.83" stroke="#6a737d" stroke-opacity="0.9" stroke-width="0.8"/>
<circle cx="762.7" cy="1005.2" r="5.05" fill="#4695e9" fill-opacity="0.83" stroke="#6a737d" stroke-opacity="0.9" stroke-width="0.8"/>
<circle cx="740.3" cy="1012.4" r="5.05" fill="#4695e9" fill-opacity="0.83" stroke="#6a737d" stroke-opacity="0.9" stroke-width="0.8"/>
<circle cx="739" cy="1033.5" r="5.05" fill="#4695e9" fill-opacity="0.83" stroke="#6a737d" stroke-opacity="0.9" stroke-width="0.8"/>
<circle cx="741" cy="1044" r="5.05" fill="#4695e9" fill-opacity="0.83" stroke="#6a737d" stroke-opacity="0.9" stroke-width="0.8"/>
<circle cx="744.3" cy="1021" r="5.05" fill="#4695e9" fill-opacity="0.83" stroke="#6a737d" stroke-opacity="0.9" stroke-width="0.8"/>
<circle cx="761.8" cy="1006.5" r="5.05" fill="#4695e9" fill-opacity="0.83" stroke="#6a737d" stroke-opacity="0.9" stroke-width="0.8"/>
<circle cx="741.2" cy="1013.1" r="5.05" fill="#4695e9" fill-opacity="0.83" stroke="#6a737d" stroke-opacity="0.9" stroke-width="0.8"/>
<circle cx="622.3" cy="1105" r="5.05" fill="#4695e9" fill-opacity="0.83" stroke="#6a737d" stroke-opacity="0.9" stroke-width="0.8"/>
<circle cx="629.2" cy="1103.3" r="5.05" fill="#4695e9" fill-opacity="0.83" stroke="#6a737d" stroke-opacity="0.9" stroke-width="0.8"/>
<circle cx="632.1" cy="1107.9" r="5.05" fill="#4695e9" fill-opacity="0.83" stroke="#6a737d" stroke-opacity="0.9" stroke-width="0.8"/>
<circle cx="625.2" cy="1113.6" r="5.05" fill="#4695e9" fill-opacity="0.83" stroke="#6a737d" stroke-opacity="0.9" stroke-width="0.8"/>
<circle cx="625.8" cy="1119.4" r="5.05" fill="#4695e9" fill-opacity="0.83" stroke="#6a737d" stroke-opacity="0.9" stroke-width="0.8"/>
<circle cx="637.9" cy="1122.3" r="5.05" fill="#4695e9" fill-opacity="0.83" stroke="#6a737d" stroke-opacity="0.9" stroke-width="0.8"/>
<circle cx="743.6" cy="999.2" r="5.05" fill="#1df3f3" fill-opacity="0.83" stroke="#6a737d" stroke-opacity="0.9" stroke-width="0.8"/>
<circle cx="749.5" cy="1003.2" r="5.05" fill="#1df3f3" fill-opacity="0.83" stroke="#6a737d" stroke-opacity="0.9" stroke-width="0.8"/>
<circle cx="758.8" cy="1006.5" r="5.05" fill="#1df3f3" fill-opacity="0.83" stroke="#6a737d" stroke-opacity="0.9" stroke-width="0.8"/>
<circle cx="749.5" cy="1014.4" r="5.05" fill="#1df3f3" fill-opacity="0.83" stroke="#6a737d" stroke-opacity="0.9" stroke-width="0.8"/>
<circle cx="759.4" cy="1013.1" r="5.05" fill="#1df3f3" fill-opacity="0.83" stroke="#6a737d" stroke-opacity="0.9" stroke-width="0.8"/>
<circle cx="763.4" cy="1018.3" r="5.05" fill="#1df3f3" fill-opacity="0.83" stroke="#6a737d" stroke-opacity="0.9" stroke-width="0.8"/>
<circle cx="739" cy="1023" r="5.05" fill="#1df3f3" fill-opacity="0.83" stroke="#6a737d" stroke-opacity="0.9" stroke-width="0.8"/>
<circle cx="753.5" cy="1024.3" r="5.05" fill="#1df3f3" fill-opacity="0.83" stroke="#6a737d" stroke-opacity="0.9" stroke-width="0.8"/>
<circle cx="758.8" cy="1030.9" r="5.05" fill="#1df3f3" fill-opacity="0.83" stroke="#6a737d" stroke-opacity="0.9" stroke-width="0.8"/>
<circle cx="751.5" cy="1037.4" r="5.05" fill="#1df3f3" fill-opacity="0.83" stroke="#6a737d" stroke-opacity="0.9" stroke-width="0.8"/>
<circle cx="744.9" cy="1041.4" r="5.05" fill="#1df3f3" fill-opacity="0.83" stroke="#6a737d" stroke-opacity="0.9" stroke-width="0.8"/>
<circle cx="721" cy="1053.8" r="5.05" fill="#1df3f3" fill-opacity="0.83" stroke="#6a737d" stroke-opacity="0.9" stroke-width="0.8"/>
<circle cx="721" cy="1058.8" r="5.05" fill="#1df3f3" fill-opacity="0.83" stroke="#6a737d" stroke-opacity="0.9" stroke-width="0.8"/>
<circle cx="722.2" cy="1069.2" r="5.05" fill="#1df3f3" fill-opacity="0.83" stroke="#6a737d" stroke-opacity="0.9" stroke-width="0.8"/>
<circle cx="712.6" cy="1074.1" r="5.05" fill="#1df3f3" fill-opacity="0.83" stroke="#6a737d" stroke-opacity="0.9" stroke-width="0.8"/>
<circle cx="719.3" cy="1073.6" r="5.05" fill="#1df3f3" fill-opacity="0.83" stroke="#6a737d" stroke-opacity="0.9" stroke-width="0.8"/>
<circle cx="712.1" cy="1084.5" r="5.05" fill="#1df3f3" fill-opacity="0.83" stroke="#6a737d" stroke-opacity="0.9" stroke-width="0.8"/>
<circle cx="725.2" cy="1084.5" r="5.05" fill="#1df3f3" fill-opacity="0.83" stroke="#6a737d" stroke-opacity="0.9" stroke-width="0.8"/>
<circle cx="726.4" cy="1087.5" r="5.05" fill="#1df3f3" fill-opacity="0.83" stroke="#6a737d" stroke-opacity="0.9" stroke-width="0.8"/>
<circle cx="756" cy="1015.6" r="5.05" fill="#1df3f3" fill-opacity="0.83" stroke="#6a737d" stroke-opacity="0.9" stroke-width="0.8"/>
<circle cx="762.6" cy="1013.9" r="5.05" fill="#1df3f3" fill-opacity="0.83" stroke="#6a737d" stroke-opacity="0.9" stroke-width="0.8"/>
<circle cx="747" cy="1008" r="5.05" fill="#1df3f3" fill-opacity="0.83" stroke="#6a737d" stroke-opacity="0.9" stroke-width="0.8"/>
<circle cx="755" cy="1020" r="5.05" fill="#1df3f3" fill-opacity="0.83" stroke="#6a737d" stroke-opacity="0.9" stroke-width="0.8"/>
<circle cx="745" cy="1030" r="5.05" fill="#1df3f3" fill-opacity="0.83" stroke="#6a737d" stroke-opacity="0.9" stroke-width="0.8"/>
<circle cx="760" cy="1024" r="5.05" fill="#1df3f3" fill-opacity="0.83" stroke="#6a737d" stroke-opacity="0.9" stroke-width="0.8"/>
<circle cx="752" cy="1045" r="5.05" fill="#1df3f3" fill-opacity="0.83" stroke="#6a737d" stroke-opacity="0.9" stroke-width="0.8"/>
<circle cx="740" cy="1035" r="5.05" fill="#1df3f3" fill-opacity="0.83" stroke="#6a737d" stroke-opacity="0.9" stroke-width="0.8"/>
<circle cx="764" cy="1010" r="5.05" fill="#1df3f3" fill-opacity="0.83" stroke="#6a737d" stroke-opacity="0.9" stroke-width="0.8"/>
<circle cx="735" cy="1012" r="5.05" fill="#1df3f3" fill-opacity="0.83" stroke="#6a737d" stroke-opacity="0.9" stroke-width="0.8"/>
<path d="M695 972.2L591.7 946.1M695 972.2L589.1 940.9M695 972.2L605.6 922.4M695 972.2L743.7 934.4M695 972.2L750.2 935.7M695 972.2L752.3 965.3M695 972.2L727.2 954.6M695 972.2L724.7 968.6M695 972.2L616.8 1083.9M695 972.2L622.3 1122.9" stroke="#7a7a7a" stroke-width="0.65" opacity="0.5" fill="none"/>
<path d="M695 972.2L586.5 935.6M695 972.2L605.9 941.5M695 972.2L604.3 920.4M695 972.2L587.1 968.5M695 972.2L753.5 944.7M695 972.2L744.9 965.7M695 972.2L742.8 972.7M695 972.2L598.5 1056.9M695 972.2L613.1 1090.3" stroke="#f5cc33" stroke-width="0.65" opacity="0.5" fill="none"/>
<path d="M695 972.2L597 919.8M695 972.2L600.3 920.4M695 972.2L591.1 925.7M695 972.2L591.7 933.6M695 972.2L601 957.3M695 972.2L736.7 942.2M695 972.2L747 945.5M695 972.2L751.5 952.5M695 972.2L742 957.9M695 972.2L728 962M695 972.2L735.4 967M695 972.2L749 976M695 972.2L737.5 981.8M695 972.2L727.4 961M695 972.2L753.5 994.1M695 972.2L613.6 1120.6" stroke="#33dd55" stroke-width="0.65" opacity="0.5" fill="none"/>
<path d="M696.5 977L601.6 929M696.5 977L604.9 933.6M696.5 977L596.4 940.2M696.5 977L600.3 939.5M696.5 977L758.9 958.7M696.5 977L748.6 959.5M696.5 977L729.2 973.5M696.5 977L736.2 973.5M696.5 977L738.3 951.6M696.5 977L737.7 998.6M696.5 977L612.2 1110.7M696.5 977L627.5 1126.9" stroke="#e83aa8" stroke-width="0.65" opacity="0.5" fill="none"/>
<path d="M709.6 1051.5L748.6 991.7M709.6 1051.5L762.7 1005.2M709.6 1051.5L740.3 1012.4M709.6 1051.5L739 1033.5M709.6 1051.5L741 1044M709.6 1051.5L744.3 1021M709.6 1051.5L761.8 1006.5M709.6 1051.5L741.2 1013.1M709.6 1051.5L622.3 1105M709.6 1051.5L629.2 1103.3M709.6 1051.5L632.1 1107.9M709.6 1051.5L625.2 1113.6M709.6 1051.5L625.8 1119.4M709.6 1051.5L637.9 1122.3" stroke="#3d8fe8" stroke-width="0.65" opacity="0.5" fill="none"/>
<path d="M741.8 1037.9L743.6 999.2M741.8 1037.9L749.5 1003.2M741.8 1037.9L758.8 1006.5M741.8 1037.9L749.5 1014.4M741.8 1037.9L759.4 1013.1M741.8 1037.9L763.4 1018.3M741.8 1037.9L739 1023M741.8 1037.9L753.5 1024.3M741.8 1037.9L758.8 1030.9M741.8 1037.9L751.5 1037.4M741.8 1037.9L744.9 1041.4M741.8 1037.9L721 1053.8M741.8 1037.9L721 1058.8M741.8 1037.9L722.2 1069.2M741.8 1037.9L712.6 1074.1M741.8 1037.9L719.3 1073.6M741.8 1037.9L712.1 1084.5M741.8 1037.9L725.2 1084.5M741.8 1037.9L726.4 1087.5M741.8 1037.9L756 1015.6M741.8 1037.9L762.6 1013.9M741.8 1037.9L747 1008M741.8 1037.9L755 1020M741.8 1037.9L745 1030M741.8 1037.9L760 1024M741.8 1037.9L752 1045M741.8 1037.9L740 1035M741.8 1037.9L764 1010M741.8 1037.9L735 1012" stroke="#00e0ee" stroke-width="0.65" opacity="0.5" fill="none"/>
<ellipse cx="695.7" cy="972.15" rx="168.08" ry="121.23" transform="rotate(5.54 695.7 972.15)" fill="none" stroke="#7a7a7a" stroke-width="0.95" stroke-dasharray="3,2.2"/>
<ellipse cx="695.1" cy="972.55" rx="172.03" ry="105.2" transform="rotate(1.4 695.1 972.55)" fill="none" stroke="#f5cc33" stroke-width="0.95" stroke-dasharray="3,2.2"/>
<ellipse cx="695.15" cy="971.4" rx="170.66" ry="131.05" transform="rotate(3.25 695.15 971.4)" fill="none" stroke="#33dd55" stroke-width="0.95" stroke-dasharray="3,2.2"/>
<ellipse cx="695.55" cy="976.2" rx="166.0" ry="126.07" transform="rotate(4.84 695.55 976.2)" fill="none" stroke="#e83aa8" stroke-width="0.95" stroke-dasharray="3,2.2"/>
<ellipse cx="709.25" cy="1050.95" rx="182.47" ry="22.15" transform="rotate(-37.58 709.25 1050.95)" fill="none" stroke="#3d8fe8" stroke-width="0.95" stroke-dasharray="3,2.2"/>
<ellipse cx="741.5" cy="1037.8" rx="78.02" ry="20.25" transform="rotate(-61.76 741.5 1037.8)" fill="none" stroke="#00e0ee" stroke-width="0.95" stroke-dasharray="3,2.2"/>
<circle cx="695" cy="972.2" r="1.6" fill="#505050"/>
<circle cx="695" cy="972.2" r="1.6" fill="#505050"/>
<circle cx="695" cy="972.2" r="1.6" fill="#505050"/>
<circle cx="696.5" cy="977" r="1.6" fill="#505050"/>
<circle cx="709.6" cy="1051.5" r="1.6" fill="#505050"/>
<circle cx="741.8" cy="1037.9" r="1.6" fill="#505050"/>
<line x1="506.7" y1="824.9" x2="506.7" y2="1180.4" stroke="#777" stroke-width="1.1"/>
<line x1="506.2" y1="1180.4" x2="884.6" y2="1180.4" stroke="#111" stroke-width="1.3"/>
<line x1="516.5" y1="1180.4" x2="516.5" y2="1183.0" stroke="#333" stroke-width="1"/>
<text x="516.5" y="1193.0" font-size="13.0" text-anchor="middle" font-weight="normal" fill="#4d4d4d" >−0.6</text>
<line x1="611.0" y1="1180.4" x2="611.0" y2="1183.0" stroke="#333" stroke-width="1"/>
<text x="611.0" y="1193.0" font-size="13.0" text-anchor="middle" font-weight="normal" fill="#4d4d4d" >−0.3</text>
<line x1="705.5" y1="1180.4" x2="705.5" y2="1183.0" stroke="#333" stroke-width="1"/>
<text x="705.5" y="1193.0" font-size="13.0" text-anchor="middle" font-weight="normal" fill="#4d4d4d" >0.0</text>
<line x1="800.0" y1="1180.4" x2="800.0" y2="1183.0" stroke="#333" stroke-width="1"/>
<text x="800.0" y="1193.0" font-size="13.0" text-anchor="middle" font-weight="normal" fill="#4d4d4d" >0.3</text>
<line x1="504.1" y1="1090.4" x2="506.7" y2="1090.4" stroke="#333" stroke-width="1"/>
<text x="502.4" y="1094.8" font-size="13.0" text-anchor="end" font-weight="normal" fill="#4d4d4d" >−0.2</text>
<line x1="504.1" y1="997.0" x2="506.7" y2="997.0" stroke="#333" stroke-width="1"/>
<text x="502.4" y="1001.4" font-size="13.0" text-anchor="end" font-weight="normal" fill="#4d4d4d" >0.0</text>
<line x1="504.1" y1="903.6" x2="506.7" y2="903.6" stroke="#333" stroke-width="1"/>
<text x="502.4" y="908.0" font-size="13.0" text-anchor="end" font-weight="normal" fill="#4d4d4d" >0.2</text>
<text x="714.2" y="1208.5" font-size="15.1" text-anchor="middle" font-weight="normal" fill="#000" >PCoA_1 (27.81%)</text>
<text transform="translate(481.1,982.6) rotate(-90)" font-size="15.1" text-anchor="middle">PCoA<tspan fill="#c8c8c8">_</tspan>2 (10.07%)</text>
<text x="454.8" y="839.7" font-size="20.5" text-anchor="start" font-weight="bold" fill="#000" >(H)</text>
<text x="59.9" y="19.8" font-size="17.5" text-anchor="start" font-weight="bold" fill="#000" >Temperature</text>
<circle cx="65.9" cy="32.4" r="5.6" fill="#f837b3" fill-opacity="0.85" stroke="#777" stroke-width="0.7"/>
<line x1="60.9" y1="32.4" x2="70.9" y2="32.4" stroke="#f235b5" stroke-width="0.6" opacity="0.6"/>
<text x="77.9" y="37.7" font-size="16" text-anchor="start" font-weight="normal" fill="#000" >HT</text>
<circle cx="65.9" cy="52.0" r="5.6" fill="#ff8000" fill-opacity="0.85" stroke="#777" stroke-width="0.7"/>
<line x1="60.9" y1="52.0" x2="70.9" y2="52.0" stroke="#ff7a00" stroke-width="0.6" opacity="0.6"/>
<text x="77.9" y="57.3" font-size="16" text-anchor="start" font-weight="normal" fill="#000" >MT</text>
<circle cx="65.9" cy="71.6" r="5.6" fill="#ffd700" fill-opacity="0.85" stroke="#777" stroke-width="0.7"/>
<line x1="60.9" y1="71.6" x2="70.9" y2="71.6" stroke="#ffd000" stroke-width="0.6" opacity="0.6"/>
<text x="77.9" y="76.9" font-size="16" text-anchor="start" font-weight="normal" fill="#000" >LT</text>
<text x="514.4" y="24.2" font-size="17.5" text-anchor="start" font-weight="bold" fill="#000" >Root exudates</text>
<circle cx="520.4" cy="37.2" r="5.6" fill="#4beb73" fill-opacity="0.85" stroke="#777" stroke-width="0.7"/>
<line x1="515.4" y1="37.2" x2="525.4" y2="37.2" stroke="#33dd55" stroke-width="0.6" opacity="0.6"/>
<text x="532.4" y="42.5" font-size="16" text-anchor="start" font-weight="normal" fill="#000" >PA</text>
<circle cx="520.4" cy="54.8" r="5.6" fill="#f7d755" fill-opacity="0.85" stroke="#777" stroke-width="0.7"/>
<line x1="515.4" y1="54.8" x2="525.4" y2="54.8" stroke="#f5cc33" stroke-width="0.6" opacity="0.6"/>
<text x="532.4" y="60.0" font-size="16" text-anchor="start" font-weight="normal" fill="#000" >SK</text>
<circle cx="520.4" cy="72.3" r="5.6" fill="#eb52b5" fill-opacity="0.85" stroke="#777" stroke-width="0.7"/>
<line x1="515.4" y1="72.3" x2="525.4" y2="72.3" stroke="#e83aa8" stroke-width="0.6" opacity="0.6"/>
<text x="532.4" y="77.6" font-size="16" text-anchor="start" font-weight="normal" fill="#000" >VC</text>
<circle cx="520.4" cy="89.9" r="5.6" fill="#4695e9" fill-opacity="0.85" stroke="#777" stroke-width="0.7"/>
<line x1="515.4" y1="89.9" x2="525.4" y2="89.9" stroke="#3d8fe8" stroke-width="0.6" opacity="0.6"/>
<text x="532.4" y="95.2" font-size="16" text-anchor="start" font-weight="normal" fill="#000" >PA+SK</text>
<circle cx="520.4" cy="107.4" r="5.6" fill="#1df3f3" fill-opacity="0.85" stroke="#777" stroke-width="0.7"/>
<line x1="515.4" y1="107.4" x2="525.4" y2="107.4" stroke="#00e0ee" stroke-width="0.6" opacity="0.6"/>
<text x="532.4" y="112.7" font-size="16" text-anchor="start" font-weight="normal" fill="#000" >PA+VC</text>
<circle cx="520.4" cy="125.0" r="5.6" fill="#9b9b9b" fill-opacity="0.85" stroke="#777" stroke-width="0.7"/>
<line x1="515.4" y1="125.0" x2="525.4" y2="125.0" stroke="#7a7a7a" stroke-width="0.6" opacity="0.6"/>
<text x="532.4" y="130.2" font-size="16" text-anchor="start" font-weight="normal" fill="#000" >CK</text>
<text x="60.0" y="698.3" font-size="17.5" text-anchor="start" font-weight="bold" fill="#000" >Temperature</text>
<circle cx="66.0" cy="711.1" r="5.6" fill="#f837b3" fill-opacity="0.85" stroke="#777" stroke-width="0.7"/>
<line x1="61.0" y1="711.1" x2="71.0" y2="711.1" stroke="#f235b5" stroke-width="0.6" opacity="0.6"/>
<text x="78.0" y="716.4" font-size="16" text-anchor="start" font-weight="normal" fill="#000" >HT</text>
<circle cx="66.0" cy="730.8" r="5.6" fill="#ff8000" fill-opacity="0.85" stroke="#777" stroke-width="0.7"/>
<line x1="61.0" y1="730.8" x2="71.0" y2="730.8" stroke="#ff7a00" stroke-width="0.6" opacity="0.6"/>
<text x="78.0" y="736.1" font-size="16" text-anchor="start" font-weight="normal" fill="#000" >MT</text>
<circle cx="66.0" cy="750.6" r="5.6" fill="#ffd700" fill-opacity="0.85" stroke="#777" stroke-width="0.7"/>
<line x1="61.0" y1="750.6" x2="71.0" y2="750.6" stroke="#ffd000" stroke-width="0.6" opacity="0.6"/>
<text x="78.0" y="755.9" font-size="16" text-anchor="start" font-weight="normal" fill="#000" >LT</text>
<text x="515.0" y="706.4" font-size="17.45" text-anchor="start" font-weight="bold" fill="#000" >Root exudates</text>
<circle cx="521.0" cy="719.6" r="5.6" fill="#4beb73" fill-opacity="0.85" stroke="#777" stroke-width="0.7"/>
<line x1="516.0" y1="719.6" x2="526.0" y2="719.6" stroke="#33dd55" stroke-width="0.6" opacity="0.6"/>
<text x="533.0" y="724.9" font-size="16" text-anchor="start" font-weight="normal" fill="#000" >PA</text>
<circle cx="521.0" cy="737.5" r="5.6" fill="#f7d755" fill-opacity="0.85" stroke="#777" stroke-width="0.7"/>
<line x1="516.0" y1="737.5" x2="526.0" y2="737.5" stroke="#f5cc33" stroke-width="0.6" opacity="0.6"/>
<text x="533.0" y="742.8" font-size="16" text-anchor="start" font-weight="normal" fill="#000" >SK</text>
<circle cx="521.0" cy="755.3" r="5.6" fill="#eb52b5" fill-opacity="0.85" stroke="#777" stroke-width="0.7"/>
<line x1="516.0" y1="755.3" x2="526.0" y2="755.3" stroke="#e83aa8" stroke-width="0.6" opacity="0.6"/>
<text x="533.0" y="760.6" font-size="16" text-anchor="start" font-weight="normal" fill="#000" >VC</text>
<circle cx="565.1" cy="719.6" r="5.6" fill="#4695e9" fill-opacity="0.85" stroke="#777" stroke-width="0.7"/>
<line x1="560.1" y1="719.6" x2="570.1" y2="719.6" stroke="#3d8fe8" stroke-width="0.6" opacity="0.6"/>
<text x="577.1" y="724.9" font-size="16" text-anchor="start" font-weight="normal" fill="#000" >PA+SK</text>
<circle cx="565.1" cy="737.5" r="5.6" fill="#1df3f3" fill-opacity="0.85" stroke="#777" stroke-width="0.7"/>
<line x1="560.1" y1="737.5" x2="570.1" y2="737.5" stroke="#00e0ee" stroke-width="0.6" opacity="0.6"/>
<text x="577.1" y="742.8" font-size="16" text-anchor="start" font-weight="normal" fill="#000" >PA+VC</text>
<circle cx="565.1" cy="755.3" r="5.6" fill="#9b9b9b" fill-opacity="0.85" stroke="#777" stroke-width="0.7"/>
<line x1="560.1" y1="755.3" x2="570.1" y2="755.3" stroke="#7a7a7a" stroke-width="0.6" opacity="0.6"/>
<text x="577.1" y="760.6" font-size="16" text-anchor="start" font-weight="normal" fill="#000" >CK</text>
<text x="67.0" y="1110.9" font-size="17.5" text-anchor="start" font-weight="bold" fill="#000" >Temperature</text>
<circle cx="73.0" cy="1124.0" r="5.6" fill="#f837b3" fill-opacity="0.85" stroke="#777" stroke-width="0.7"/>
<line x1="68.0" y1="1124.0" x2="78.0" y2="1124.0" stroke="#f235b5" stroke-width="0.6" opacity="0.6"/>
<text x="85.0" y="1129.3" font-size="16" text-anchor="start" font-weight="normal" fill="#000" >HT</text>
<circle cx="73.0" cy="1143.2" r="5.6" fill="#ff8000" fill-opacity="0.85" stroke="#777" stroke-width="0.7"/>
<line x1="68.0" y1="1143.2" x2="78.0" y2="1143.2" stroke="#ff7a00" stroke-width="0.6" opacity="0.6"/>
<text x="85.0" y="1148.5" font-size="16" text-anchor="start" font-weight="normal" fill="#000" >MT</text>
<circle cx="73.0" cy="1162.5" r="5.6" fill="#ffd700" fill-opacity="0.85" stroke="#777" stroke-width="0.7"/>
<line x1="68.0" y1="1162.5" x2="78.0" y2="1162.5" stroke="#ffd000" stroke-width="0.6" opacity="0.6"/>
<text x="85.0" y="1167.8" font-size="16" text-anchor="start" font-weight="normal" fill="#000" >LT</text>
<text x="765.5" y="1114.0" font-size="17.45" text-anchor="start" font-weight="bold" fill="#000" >Root exudates</text>
<circle cx="771.5" cy="1126.2" r="5.6" fill="#4beb73" fill-opacity="0.85" stroke="#777" stroke-width="0.7"/>
<line x1="766.5" y1="1126.2" x2="776.5" y2="1126.2" stroke="#33dd55" stroke-width="0.6" opacity="0.6"/>
<text x="783.5" y="1131.5" font-size="16" text-anchor="start" font-weight="normal" fill="#000" >PA</text>
<circle cx="771.5" cy="1144.6" r="5.6" fill="#f7d755" fill-opacity="0.85" stroke="#777" stroke-width="0.7"/>
<line x1="766.5" y1="1144.6" x2="776.5" y2="1144.6" stroke="#f5cc33" stroke-width="0.6" opacity="0.6"/>
<text x="783.5" y="1149.9" font-size="16" text-anchor="start" font-weight="normal" fill="#000" >SK</text>
<circle cx="771.5" cy="1163.0" r="5.6" fill="#eb52b5" fill-opacity="0.85" stroke="#777" stroke-width="0.7"/>
<line x1="766.5" y1="1163.0" x2="776.5" y2="1163.0" stroke="#e83aa8" stroke-width="0.6" opacity="0.6"/>
<text x="783.5" y="1168.3" font-size="16" text-anchor="start" font-weight="normal" fill="#000" >VC</text>
<circle cx="815.2" cy="1126.2" r="5.6" fill="#4695e9" fill-opacity="0.85" stroke="#777" stroke-width="0.7"/>
<line x1="810.2" y1="1126.2" x2="820.2" y2="1126.2" stroke="#3d8fe8" stroke-width="0.6" opacity="0.6"/>
<text x="827.2" y="1131.5" font-size="16" text-anchor="start" font-weight="normal" fill="#000" >PA+SK</text>
<circle cx="815.2" cy="1144.6" r="5.6" fill="#1df3f3" fill-opacity="0.85" stroke="#777" stroke-width="0.7"/>
<line x1="810.2" y1="1144.6" x2="820.2" y2="1144.6" stroke="#00e0ee" stroke-width="0.6" opacity="0.6"/>
<text x="827.2" y="1149.9" font-size="16" text-anchor="start" font-weight="normal" fill="#000" >PA+VC</text>
<circle cx="815.2" cy="1163.0" r="5.6" fill="#9b9b9b" fill-opacity="0.85" stroke="#777" stroke-width="0.7"/>
<line x1="810.2" y1="1163.0" x2="820.2" y2="1163.0" stroke="#7a7a7a" stroke-width="0.6" opacity="0.6"/>
<text x="827.2" y="1168.3" font-size="16" text-anchor="start" font-weight="normal" fill="#000" >CK</text>
<g transform="translate(0,0)">
<ellipse cx="1039.25" cy="173.85" rx="91.9" ry="88" fill="#b3e5f6"/>
<ellipse cx="1133.1" cy="173.85" rx="92" ry="88" fill="#fffca3"/>
<clipPath id="vc0"><ellipse cx="1039.25" cy="173.85" rx="91.9" ry="88"/></clipPath>
<ellipse cx="1133.1" cy="173.85" rx="92" ry="88" fill="#cff0a5" clip-path="url(#vc0)"/>
<text x="897.5" y="103.0" font-size="19.5" text-anchor="start" font-weight="bold" fill="#000" >(C)</text>
<text x="1001.5" y="115.0" font-size="18.5" text-anchor="middle" font-weight="normal" fill="#000" >***</text>
<text x="1002.0" y="139.0" font-size="19.2" text-anchor="middle" font-weight="normal" fill="#000" >11.82%</text>
<text x="972.0" y="162.5" font-size="19.2" text-anchor="middle" font-weight="bold" fill="#000" >Temperature</text>
<text x="1087.0" y="168.5" font-size="18.5" text-anchor="middle" font-weight="normal" fill="#000" >***</text>
<text x="1087.9" y="192.0" font-size="19.2" text-anchor="middle" font-weight="normal" fill="#000" >10.12%</text>
<text x="1198.0" y="192.5" font-size="19.2" text-anchor="middle" font-weight="bold" fill="#000" >Root exudates</text>
<text x="1158.5" y="215.5" font-size="18.5" text-anchor="middle" font-weight="normal" fill="#000" >***</text>
<text x="1159.5" y="240.0" font-size="19.2" text-anchor="middle" font-weight="normal" fill="#000" >14.64%</text>
<text x="1085.5" y="290.8" font-size="19.2" text-anchor="middle" font-weight="normal" fill="#000" >Residual: 63.42%</text>
</g>
<g transform="translate(0,411.0)">
<ellipse cx="1039.25" cy="173.85" rx="91.9" ry="88" fill="#b3e5f6"/>
<ellipse cx="1133.1" cy="173.85" rx="92" ry="88" fill="#fffca3"/>
<clipPath id="vc411"><ellipse cx="1039.25" cy="173.85" rx="91.9" ry="88"/></clipPath>
<ellipse cx="1133.1" cy="173.85" rx="92" ry="88" fill="#cff0a5" clip-path="url(#vc411)"/>
<text x="897.5" y="103.0" font-size="19.5" text-anchor="start" font-weight="bold" fill="#000" >(F)</text>
<text x="1001.5" y="115.0" font-size="18.5" text-anchor="middle" font-weight="normal" fill="#000" >***</text>
<text x="1002.0" y="139.0" font-size="19.2" text-anchor="middle" font-weight="normal" fill="#000" >22.61%</text>
<text x="972.0" y="162.5" font-size="19.2" text-anchor="middle" font-weight="bold" fill="#000" >Temperature</text>
<text x="1087.0" y="168.5" font-size="18.5" text-anchor="middle" font-weight="normal" fill="#000" >***</text>
<text x="1087.9" y="192.0" font-size="19.2" text-anchor="middle" font-weight="normal" fill="#000" >10.25%</text>
<text x="1198.0" y="192.5" font-size="19.2" text-anchor="middle" font-weight="bold" fill="#000" >Root exudates</text>
<text x="1158.5" y="215.5" font-size="18.5" text-anchor="middle" font-weight="normal" fill="#000" >***</text>
<text x="1159.5" y="240.0" font-size="19.2" text-anchor="middle" font-weight="normal" fill="#000" >14.93%</text>
<text x="1085.5" y="290.8" font-size="19.2" text-anchor="middle" font-weight="normal" fill="#000" >Residual: 52.21%</text>
</g>
<g transform="translate(0,822.3)">
<ellipse cx="1039.25" cy="173.85" rx="91.9" ry="88" fill="#b3e5f6"/>
<ellipse cx="1133.1" cy="173.85" rx="92" ry="88" fill="#fffca3"/>
<clipPath id="vc822"><ellipse cx="1039.25" cy="173.85" rx="91.9" ry="88"/></clipPath>
<ellipse cx="1133.1" cy="173.85" rx="92" ry="88" fill="#cff0a5" clip-path="url(#vc822)"/>
<text x="897.5" y="103.0" font-size="19.5" text-anchor="start" font-weight="bold" fill="#000" >(I)</text>
<text x="1001.5" y="115.0" font-size="18.5" text-anchor="middle" font-weight="normal" fill="#000" >***</text>
<text x="1002.0" y="139.0" font-size="19.2" text-anchor="middle" font-weight="normal" fill="#000" >29.47%</text>
<text x="972.0" y="162.5" font-size="19.2" text-anchor="middle" font-weight="bold" fill="#000" >Temperature</text>
<text x="1087.0" y="168.5" font-size="18.5" text-anchor="middle" font-weight="normal" fill="#000" >***</text>
<text x="1087.9" y="192.0" font-size="19.2" text-anchor="middle" font-weight="normal" fill="#000" >11.27%</text>
<text x="1198.0" y="192.5" font-size="19.2" text-anchor="middle" font-weight="bold" fill="#000" >Root exudates</text>
<text x="1158.5" y="215.5" font-size="18.5" text-anchor="middle" font-weight="normal" fill="#000" >***</text>
<text x="1159.5" y="240.0" font-size="19.2" text-anchor="middle" font-weight="normal" fill="#000" >9.02%</text>
<text x="1085.5" y="290.8" font-size="19.2" text-anchor="middle" font-weight="normal" fill="#000" >Residual: 50.24%</text>
</g>
</svg></body></html>
